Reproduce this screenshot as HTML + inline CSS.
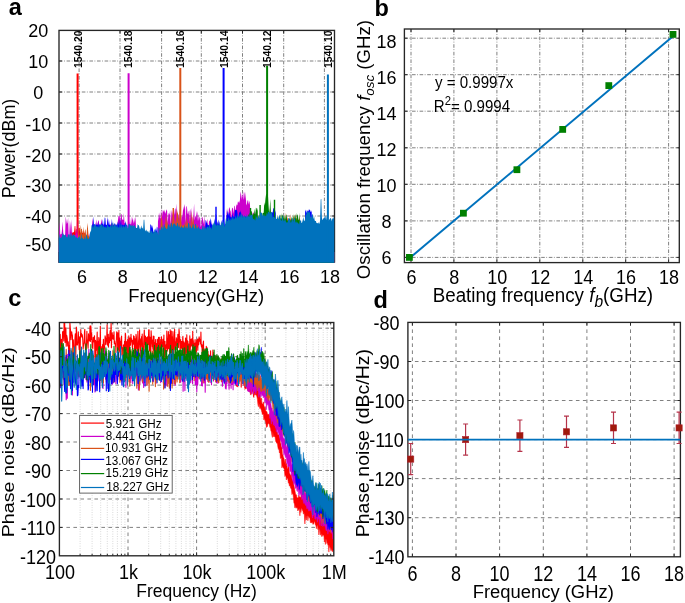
<!DOCTYPE html>
<html><head><meta charset="utf-8"><style>
html,body{margin:0;padding:0;background:#fff;}
body{width:685px;height:603px;overflow:hidden;}
svg{display:block;will-change:transform;}
</style></head><body>
<svg width="685" height="603" viewBox="0 0 685 603" font-family='"Liberation Sans", sans-serif'>
<rect width="685" height="603" fill="#fff"/>
<line x1="59" y1="61" x2="334.5" y2="61" stroke="#808080" stroke-width="1" stroke-dasharray="3.6 1.5 0.8 1.7"/>
<line x1="59" y1="92" x2="334.5" y2="92" stroke="#808080" stroke-width="1" stroke-dasharray="3.6 1.5 0.8 1.7"/>
<line x1="59" y1="123" x2="334.5" y2="123" stroke="#808080" stroke-width="1" stroke-dasharray="3.6 1.5 0.8 1.7"/>
<line x1="59" y1="154" x2="334.5" y2="154" stroke="#808080" stroke-width="1" stroke-dasharray="3.6 1.5 0.8 1.7"/>
<line x1="59" y1="185" x2="334.5" y2="185" stroke="#808080" stroke-width="1" stroke-dasharray="3.6 1.5 0.8 1.7"/>
<line x1="59" y1="216" x2="334.5" y2="216" stroke="#808080" stroke-width="1" stroke-dasharray="3.6 1.5 0.8 1.7"/>
<line x1="59" y1="247" x2="334.5" y2="247" stroke="#808080" stroke-width="1" stroke-dasharray="3.6 1.5 0.8 1.7"/>
<line x1="79.1" y1="30.4" x2="79.1" y2="262" stroke="#808080" stroke-width="1" stroke-dasharray="3.6 1.5 0.8 1.7"/>
<line x1="120" y1="30.4" x2="120" y2="262" stroke="#808080" stroke-width="1" stroke-dasharray="3.6 1.5 0.8 1.7"/>
<line x1="161.6" y1="30.4" x2="161.6" y2="262" stroke="#808080" stroke-width="1" stroke-dasharray="3.6 1.5 0.8 1.7"/>
<line x1="201.3" y1="30.4" x2="201.3" y2="262" stroke="#808080" stroke-width="1" stroke-dasharray="3.6 1.5 0.8 1.7"/>
<line x1="242.5" y1="30.4" x2="242.5" y2="262" stroke="#808080" stroke-width="1" stroke-dasharray="3.6 1.5 0.8 1.7"/>
<line x1="283.7" y1="30.4" x2="283.7" y2="262" stroke="#808080" stroke-width="1" stroke-dasharray="3.6 1.5 0.8 1.7"/>
<line x1="324.4" y1="30.4" x2="324.4" y2="262" stroke="#808080" stroke-width="1" stroke-dasharray="3.6 1.5 0.8 1.7"/>
<rect x="59" y="30.4" width="275.5" height="231.6" fill="none" stroke="#262626" stroke-width="1.35"/>
<path d="M59 61h3M334.5 61h-3M59 92h3M334.5 92h-3M59 123h3M334.5 123h-3M59 154h3M334.5 154h-3M59 185h3M334.5 185h-3M59 216h3M334.5 216h-3M59 247h3M334.5 247h-3" stroke="#262626" stroke-width="1" fill="none"/>
<path d="M79.1 262v-3M79.1 30.4v3M120 262v-3M120 30.4v3M161.6 262v-3M161.6 30.4v3M201.3 262v-3M201.3 30.4v3M242.5 262v-3M242.5 30.4v3M283.7 262v-3M283.7 30.4v3M324.4 262v-3M324.4 30.4v3" stroke="#262626" stroke-width="1" fill="none"/>
<clipPath id="ca"><rect x="58.4" y="30.4" width="276.1" height="232.3"/></clipPath>
<g clip-path="url(#ca)">
<polygon fill="#ff0000" points="58.5,264 58.5,252 59.1,252 59.7,252 60.3,252 60.9,252 61.5,252 62.1,252 62.7,252 63.3,252 63.9,252 64.5,252 65.1,252 65.7,252 66.3,252 66.9,252 67.5,252 68.1,252 68.7,252 69.3,252 69.9,252 70.5,232.7 71.1,233.2 71.7,232.1 72.3,232.8 72.9,232.6 73.5,232.3 74.1,231.8 74.7,225.9 75.3,226 75.9,233.2 76.5,229 77.1,229.1 77.7,229.3 78.3,232.3 78.9,227.7 79.5,227.4 80.1,232.8 80.7,232.2 81.3,233.9 81.9,232.4 82.5,233.3 83.1,230.1 83.7,233.7 84.3,233.3 84.9,232.3 85.5,252 86.1,252 86.7,252 87.3,252 87.9,252 88.5,252 89.1,252 89.7,252 90.3,252 90.9,252 91.5,252 92.1,252 92.7,252 93.3,252 93.9,252 94.5,252 95.1,252 95.7,252 96.3,252 96.9,252 97.5,252 98.1,252 98.7,252 99.3,252 99.9,252 100.5,252 101.1,252 101.7,252 102.3,252 102.9,252 103.5,252 104.1,252 104.7,252 105.3,252 105.9,252 106.5,252 107.1,252 107.7,252 108.3,252 108.9,252 109.5,252 110.1,252 110.7,252 111.3,252 111.9,252 112.5,252 113.1,252 113.7,252 114.3,252 114.9,252 115.5,252 116.1,252 116.7,252 117.3,252 117.9,252 118.5,252 119.1,252 119.7,252 120.3,252 120.9,252 121.5,252 122.1,252 122.7,252 123.3,252 123.9,252 124.5,252 125.1,252 125.7,252 126.3,252 126.9,252 127.5,252 128.1,252 128.7,252 129.3,252 129.9,252 130.5,252 131.1,252 131.7,252 132.3,252 132.9,252 133.5,252 134.1,252 134.7,252 135.3,252 135.9,252 136.5,252 137.1,252 137.7,252 138.3,252 138.9,252 139.5,252 140.1,252 140.7,252 141.3,252 141.9,252 142.5,252 143.1,252 143.7,252 144.3,252 144.9,252 145.5,252 146.1,252 146.7,252 147.3,252 147.9,252 148.5,252 149.1,252 149.7,252 150.3,252 150.9,252 151.5,252 152.1,252 152.7,252 153.3,252 153.9,252 154.5,252 155.1,252 155.7,252 156.3,252 156.9,252 157.5,252 158.1,252 158.7,252 159.3,252 159.9,252 160.5,252 161.1,252 161.7,252 162.3,252 162.9,252 163.5,252 164.1,252 164.7,252 165.3,252 165.9,252 166.5,252 167.1,252 167.7,252 168.3,252 168.9,252 169.5,252 170.1,252 170.7,252 171.3,252 171.9,252 172.5,252 173.1,252 173.7,252 174.3,252 174.9,252 175.5,252 176.1,252 176.7,252 177.3,252 177.9,252 178.5,252 179.1,252 179.7,252 180.3,252 180.9,252 181.5,252 182.1,252 182.7,252 183.3,252 183.9,252 184.5,252 185.1,252 185.7,252 186.3,252 186.9,252 187.5,252 188.1,252 188.7,252 189.3,252 189.9,252 190.5,252 191.1,252 191.7,252 192.3,252 192.9,252 193.5,252 194.1,252 194.7,252 195.3,252 195.9,252 196.5,252 197.1,252 197.7,252 198.3,252 198.9,252 199.5,252 200.1,252 200.7,252 201.3,252 201.9,252 202.5,252 203.1,252 203.7,252 204.3,252 204.9,252 205.5,252 206.1,252 206.7,252 207.3,252 207.9,252 208.5,252 209.1,252 209.7,252 210.3,252 210.9,252 211.5,252 212.1,252 212.7,252 213.3,252 213.9,252 214.5,252 215.1,252 215.7,252 216.3,252 216.9,252 217.5,252 218.1,252 218.7,252 219.3,252 219.9,252 220.5,252 221.1,252 221.7,252 222.3,252 222.9,252 223.5,252 224.1,252 224.7,252 225.3,252 225.9,252 226.5,252 227.1,252 227.7,252 228.3,252 228.9,252 229.5,252 230.1,252 230.7,252 231.3,252 231.9,252 232.5,252 233.1,252 233.7,252 234.3,252 234.9,252 235.5,252 236.1,252 236.7,252 237.3,252 237.9,252 238.5,252 239.1,252 239.7,252 240.3,252 240.9,252 241.5,252 242.1,252 242.7,252 243.3,252 243.9,252 244.5,252 245.1,252 245.7,252 246.3,252 246.9,252 247.5,252 248.1,252 248.7,252 249.3,252 249.9,252 250.5,252 251.1,252 251.7,252 252.3,252 252.9,252 253.5,252 254.1,252 254.7,252 255.3,252 255.9,252 256.5,252 257.1,252 257.7,252 258.3,252 258.9,252 259.5,252 260.1,252 260.7,252 261.3,252 261.9,252 262.5,252 263.1,252 263.7,252 264.3,252 264.9,252 265.5,252 266.1,252 266.7,252 267.3,252 267.9,252 268.5,252 269.1,252 269.7,252 270.3,252 270.9,252 271.5,252 272.1,252 272.7,252 273.3,252 273.9,252 274.5,252 275.1,252 275.7,252 276.3,252 276.9,252 277.5,252 278.1,252 278.7,252 279.3,252 279.9,252 280.5,252 281.1,252 281.7,252 282.3,252 282.9,252 283.5,252 284.1,252 284.7,252 285.3,252 285.9,252 286.5,252 287.1,252 287.7,252 288.3,252 288.9,252 289.5,252 290.1,252 290.7,252 291.3,252 291.9,252 292.5,252 293.1,252 293.7,252 294.3,252 294.9,252 295.5,252 296.1,252 296.7,252 297.3,252 297.9,252 298.5,252 299.1,252 299.7,252 300.3,252 300.9,252 301.5,252 302.1,252 302.7,252 303.3,252 303.9,252 304.5,252 305.1,252 305.7,252 306.3,252 306.9,252 307.5,252 308.1,252 308.7,252 309.3,252 309.9,252 310.5,252 311.1,252 311.7,252 312.3,252 312.9,252 313.5,252 314.1,252 314.7,252 315.3,252 315.9,252 316.5,252 317.1,252 317.7,252 318.3,252 318.9,252 319.5,252 320.1,252 320.7,252 321.3,252 321.9,252 322.5,252 323.1,252 323.7,252 324.3,252 324.9,252 325.5,252 326.1,252 326.7,252 327.3,252 327.9,252 328.5,252 329.1,252 329.7,252 330.3,252 330.9,252 331.5,252 332.1,252 332.7,252 333.3,252 333.9,252 334.5,252 334.5,264"/>
<line x1="77.6" y1="73.4" x2="77.6" y2="262" stroke="#ff0000" stroke-width="2.0"/>
<polygon fill="#cc00cc" points="58.5,264 58.5,252 59.1,233.5 59.7,221.5 60.3,234.8 60.9,233.9 61.5,234.1 62.1,229.2 62.7,221.6 63.3,234.1 63.9,234.9 64.5,235 65.1,235.9 65.7,216.4 66.3,220.6 66.9,224.1 67.5,222.6 68.1,217.6 68.7,235.9 69.3,234.7 69.9,220.2 70.5,225.3 71.1,234.1 71.7,219.1 72.3,235.8 72.9,235.7 73.5,234.2 74.1,235.2 74.7,235 75.3,235.2 75.9,229.5 76.5,234.6 77.1,218.4 77.7,234.9 78.3,236.6 78.9,230.2 79.5,237.3 80.1,234.9 80.7,236.6 81.3,229.4 81.9,237.6 82.5,236.3 83.1,237.5 83.7,237.8 84.3,236.4 84.9,237.1 85.5,230.9 86.1,237.2 86.7,235.1 87.3,237.3 87.9,237.3 88.5,237.6 89.1,233 89.7,236.7 90.3,252 90.9,252 91.5,252 92.1,225.5 92.7,217.7 93.3,224.3 93.9,225.4 94.5,225.7 95.1,225.8 95.7,224.2 96.3,219.3 96.9,226 97.5,224.2 98.1,221.3 98.7,220 99.3,224.9 99.9,225.5 100.5,224.4 101.1,222.3 101.7,218.8 102.3,225.5 102.9,224.1 103.5,224.9 104.1,224.1 104.7,224.6 105.3,224.6 105.9,225.4 106.5,224.9 107.1,224.1 107.7,218.3 108.3,225.8 108.9,225.8 109.5,224.5 110.1,224.8 110.7,224.5 111.3,224.2 111.9,222.3 112.5,225 113.1,224.2 113.7,224.4 114.3,225.7 114.9,225 115.5,224.4 116.1,225.3 116.7,224.5 117.3,225.1 117.9,220.5 118.5,216.3 119.1,215.5 119.7,216.2 120.3,223.4 120.9,214.4 121.5,213.8 122.1,219.3 122.7,219.8 123.3,220 123.9,213.1 124.5,223.2 125.1,222.7 125.7,223.9 126.3,252 126.9,252 127.5,252 128.1,252 128.7,252 129.3,221.1 129.9,223.8 130.5,224.4 131.1,216.2 131.7,224.5 132.3,217 132.9,220.1 133.5,224.1 134.1,217.5 134.7,223.1 135.3,216.2 135.9,224.3 136.5,252 137.1,252 137.7,252 138.3,252 138.9,252 139.5,252 140.1,252 140.7,252 141.3,252 141.9,252 142.5,252 143.1,252 143.7,252 144.3,252 144.9,252 145.5,252 146.1,252 146.7,252 147.3,252 147.9,252 148.5,252 149.1,252 149.7,252 150.3,252 150.9,252 151.5,252 152.1,252 152.7,252 153.3,252 153.9,252 154.5,252 155.1,252 155.7,252 156.3,252 156.9,252 157.5,252 158.1,212.8 158.7,221.2 159.3,212.2 159.9,218.1 160.5,218.6 161.1,208.5 161.7,218.5 162.3,214.2 162.9,210.1 163.5,210.7 164.1,212.8 164.7,209.4 165.3,214 165.9,211.8 166.5,209.2 167.1,211 167.7,224.1 168.3,215 168.9,212.7 169.5,215.1 170.1,210.2 170.7,225.4 171.3,214 171.9,210 172.5,213.5 173.1,216 173.7,209.1 174.3,215.3 174.9,208.9 175.5,208.2 176.1,215.8 176.7,203.5 177.3,214 177.9,213.7 178.5,214.7 179.1,219.1 179.7,211.6 180.3,206.2 180.9,223.8 181.5,215.9 182.1,217.3 182.7,213.4 183.3,206.2 183.9,210.5 184.5,204 185.1,207.8 185.7,223.6 186.3,206.2 186.9,206.5 187.5,213 188.1,214.7 188.7,211.3 189.3,210.5 189.9,222.3 190.5,211.3 191.1,208.1 191.7,217.3 192.3,217.2 192.9,223.1 193.5,214.1 194.1,203.5 194.7,220.5 195.3,216.2 195.9,216.6 196.5,210.7 197.1,221 197.7,211 198.3,216 198.9,220.8 199.5,216.8 200.1,217.7 200.7,226.9 201.3,225.6 201.9,217 202.5,217.2 203.1,219.9 203.7,224.2 204.3,215.3 204.9,226.9 205.5,221.7 206.1,226.3 206.7,220.9 207.3,219.1 207.9,226.5 208.5,226.2 209.1,220.8 209.7,220.6 210.3,223.3 210.9,226.2 211.5,221 212.1,252 212.7,252 213.3,252 213.9,252 214.5,252 215.1,252 215.7,252 216.3,252 216.9,252 217.5,252 218.1,252 218.7,252 219.3,252 219.9,252 220.5,252 221.1,252 221.7,252 222.3,252 222.9,252 223.5,252 224.1,252 224.7,252 225.3,252 225.9,252 226.5,212.9 227.1,208.1 227.7,217.5 228.3,216.2 228.9,208.8 229.5,207.1 230.1,210.2 230.7,211.6 231.3,217.7 231.9,208.8 232.5,207.5 233.1,208.7 233.7,213.7 234.3,206.4 234.9,205.6 235.5,213.8 236.1,206.6 236.7,204.2 237.3,205.4 237.9,201.6 238.5,202.7 239.1,200.4 239.7,203.5 240.3,194.6 240.9,191.5 241.5,199.9 242.1,193.5 242.7,195.9 243.3,200.1 243.9,191.2 244.5,193.7 245.1,200.1 245.7,191.8 246.3,205.4 246.9,203.8 247.5,200.4 248.1,200.3 248.7,204.5 249.3,200.4 249.9,204.2 250.5,213.6 251.1,216.2 251.7,211 252.3,213 252.9,216.5 253.5,211.6 254.1,214.1 254.7,216.6 255.3,217.2 255.9,211.1 256.5,252 257.1,252 257.7,252 258.3,252 258.9,252 259.5,252 260.1,252 260.7,252 261.3,252 261.9,252 262.5,252 263.1,252 263.7,252 264.3,252 264.9,252 265.5,252 266.1,252 266.7,252 267.3,252 267.9,252 268.5,252 269.1,252 269.7,252 270.3,252 270.9,252 271.5,252 272.1,252 272.7,252 273.3,252 273.9,252 274.5,252 275.1,252 275.7,252 276.3,252 276.9,252 277.5,252 278.1,252 278.7,252 279.3,252 279.9,252 280.5,252 281.1,252 281.7,252 282.3,252 282.9,252 283.5,252 284.1,252 284.7,252 285.3,252 285.9,252 286.5,252 287.1,252 287.7,252 288.3,252 288.9,252 289.5,252 290.1,252 290.7,252 291.3,252 291.9,252 292.5,252 293.1,252 293.7,252 294.3,252 294.9,252 295.5,252 296.1,252 296.7,252 297.3,252 297.9,252 298.5,252 299.1,252 299.7,252 300.3,252 300.9,252 301.5,252 302.1,252 302.7,252 303.3,252 303.9,252 304.5,252 305.1,252 305.7,252 306.3,252 306.9,252 307.5,252 308.1,252 308.7,252 309.3,252 309.9,252 310.5,252 311.1,252 311.7,252 312.3,252 312.9,252 313.5,252 314.1,252 314.7,252 315.3,252 315.9,252 316.5,252 317.1,252 317.7,252 318.3,252 318.9,252 319.5,252 320.1,252 320.7,252 321.3,252 321.9,252 322.5,252 323.1,252 323.7,252 324.3,252 324.9,252 325.5,252 326.1,252 326.7,252 327.3,252 327.9,252 328.5,252 329.1,252 329.7,252 330.3,252 330.9,252 331.5,252 332.1,252 332.7,252 333.3,252 333.9,252 334.5,252 334.5,264"/>
<line x1="128.6" y1="73.3" x2="128.6" y2="262" stroke="#cc00cc" stroke-width="2.0"/>
<polygon fill="#d95319" points="58.5,264 58.5,252 59.1,252 59.7,252 60.3,252 60.9,252 61.5,252 62.1,252 62.7,252 63.3,252 63.9,252 64.5,252 65.1,252 65.7,252 66.3,252 66.9,252 67.5,252 68.1,252 68.7,252 69.3,252 69.9,252 70.5,252 71.1,252 71.7,252 72.3,252 72.9,252 73.5,252 74.1,252 74.7,252 75.3,252 75.9,252 76.5,252 77.1,252 77.7,252 78.3,222.5 78.9,235.2 79.5,235.5 80.1,236.2 80.7,224.8 81.3,228.9 81.9,229 82.5,234.7 83.1,233.8 83.7,226.4 84.3,235.1 84.9,230.7 85.5,229 86.1,236.6 86.7,233.9 87.3,222.7 87.9,227.7 88.5,235.1 89.1,236.7 89.7,237 90.3,252 90.9,252 91.5,252 92.1,252 92.7,252 93.3,252 93.9,252 94.5,252 95.1,252 95.7,252 96.3,252 96.9,252 97.5,252 98.1,252 98.7,252 99.3,252 99.9,252 100.5,252 101.1,252 101.7,252 102.3,252 102.9,252 103.5,252 104.1,252 104.7,252 105.3,252 105.9,252 106.5,252 107.1,252 107.7,252 108.3,252 108.9,252 109.5,252 110.1,252 110.7,252 111.3,252 111.9,252 112.5,252 113.1,252 113.7,252 114.3,252 114.9,252 115.5,252 116.1,252 116.7,252 117.3,252 117.9,252 118.5,252 119.1,252 119.7,252 120.3,252 120.9,252 121.5,252 122.1,252 122.7,252 123.3,252 123.9,252 124.5,252 125.1,252 125.7,252 126.3,252 126.9,252 127.5,252 128.1,252 128.7,252 129.3,252 129.9,252 130.5,252 131.1,252 131.7,252 132.3,252 132.9,252 133.5,252 134.1,252 134.7,252 135.3,252 135.9,252 136.5,252 137.1,252 137.7,252 138.3,252 138.9,252 139.5,252 140.1,252 140.7,252 141.3,252 141.9,252 142.5,252 143.1,252 143.7,252 144.3,252 144.9,252 145.5,252 146.1,252 146.7,252 147.3,252 147.9,252 148.5,252 149.1,252 149.7,252 150.3,252 150.9,252 151.5,252 152.1,252 152.7,252 153.3,252 153.9,252 154.5,252 155.1,252 155.7,252 156.3,252 156.9,252 157.5,252 158.1,252 158.7,252 159.3,252 159.9,252 160.5,226.6 161.1,213.3 161.7,218.6 162.3,219.8 162.9,227.9 163.5,227 164.1,226.9 164.7,227.7 165.3,215 165.9,227.6 166.5,213.3 167.1,227.4 167.7,219.7 168.3,227.2 168.9,227.9 169.5,226.1 170.1,223.3 170.7,224.4 171.3,226.8 171.9,216.4 172.5,224.2 173.1,208.3 173.7,208.2 174.3,218.2 174.9,227.3 175.5,219.1 176.1,225.6 176.7,208.6 177.3,212.1 177.9,213.6 178.5,219.2 179.1,225.1 179.7,227 180.3,220.8 180.9,220.7 181.5,226 182.1,225.1 182.7,226.1 183.3,224.1 183.9,225.7 184.5,225.6 185.1,219.4 185.7,226.6 186.3,215.2 186.9,225.7 187.5,219.1 188.1,225 188.7,225.7 189.3,226.9 189.9,214.5 190.5,226.7 191.1,226.3 191.7,210.7 192.3,217.1 192.9,225.6 193.5,215.6 194.1,225.2 194.7,225.2 195.3,226.5 195.9,225.9 196.5,225.3 197.1,226 197.7,223.5 198.3,252 198.9,252 199.5,252 200.1,252 200.7,252 201.3,252 201.9,252 202.5,252 203.1,252 203.7,252 204.3,252 204.9,252 205.5,252 206.1,252 206.7,252 207.3,252 207.9,252 208.5,252 209.1,252 209.7,252 210.3,252 210.9,252 211.5,252 212.1,252 212.7,252 213.3,252 213.9,252 214.5,252 215.1,252 215.7,252 216.3,252 216.9,252 217.5,252 218.1,252 218.7,252 219.3,252 219.9,252 220.5,252 221.1,252 221.7,252 222.3,252 222.9,252 223.5,252 224.1,252 224.7,252 225.3,252 225.9,252 226.5,252 227.1,252 227.7,252 228.3,252 228.9,252 229.5,252 230.1,252 230.7,252 231.3,252 231.9,252 232.5,252 233.1,252 233.7,252 234.3,252 234.9,252 235.5,252 236.1,252 236.7,252 237.3,252 237.9,252 238.5,252 239.1,252 239.7,252 240.3,252 240.9,252 241.5,252 242.1,252 242.7,252 243.3,252 243.9,252 244.5,252 245.1,252 245.7,252 246.3,252 246.9,252 247.5,252 248.1,252 248.7,252 249.3,252 249.9,252 250.5,252 251.1,252 251.7,252 252.3,252 252.9,252 253.5,252 254.1,252 254.7,252 255.3,252 255.9,252 256.5,252 257.1,252 257.7,252 258.3,252 258.9,252 259.5,252 260.1,252 260.7,252 261.3,252 261.9,252 262.5,252 263.1,252 263.7,252 264.3,252 264.9,252 265.5,252 266.1,252 266.7,252 267.3,252 267.9,252 268.5,252 269.1,252 269.7,252 270.3,252 270.9,252 271.5,252 272.1,252 272.7,252 273.3,252 273.9,252 274.5,252 275.1,252 275.7,252 276.3,252 276.9,252 277.5,252 278.1,220 278.7,220 279.3,221 279.9,219.2 280.5,220 281.1,220.8 281.7,219.8 282.3,219.5 282.9,220.1 283.5,219.6 284.1,220.9 284.7,219.2 285.3,219.4 285.9,212.7 286.5,218.1 287.1,219.6 287.7,216.8 288.3,220.8 288.9,220.9 289.5,219.5 290.1,213.9 290.7,219.8 291.3,218.7 291.9,220.5 292.5,219.1 293.1,220.4 293.7,214.4 294.3,220.9 294.9,220.4 295.5,213.8 296.1,220.7 296.7,217.7 297.3,219.2 297.9,220.5 298.5,219.3 299.1,219.8 299.7,215.1 300.3,252 300.9,252 301.5,252 302.1,252 302.7,252 303.3,252 303.9,252 304.5,252 305.1,252 305.7,252 306.3,252 306.9,252 307.5,252 308.1,252 308.7,252 309.3,252 309.9,252 310.5,252 311.1,252 311.7,252 312.3,252 312.9,252 313.5,252 314.1,252 314.7,252 315.3,252 315.9,252 316.5,252 317.1,252 317.7,252 318.3,252 318.9,252 319.5,252 320.1,252 320.7,252 321.3,252 321.9,252 322.5,252 323.1,252 323.7,252 324.3,252 324.9,252 325.5,252 326.1,252 326.7,252 327.3,252 327.9,252 328.5,252 329.1,252 329.7,252 330.3,252 330.9,252 331.5,252 332.1,252 332.7,252 333.3,252 333.9,252 334.5,252 334.5,264"/>
<line x1="180.3" y1="68" x2="180.3" y2="262" stroke="#d95319" stroke-width="2.0"/>
<polygon fill="#0000ff" points="58.5,264 58.5,252 59.1,252 59.7,252 60.3,252 60.9,252 61.5,252 62.1,252 62.7,252 63.3,252 63.9,252 64.5,252 65.1,252 65.7,252 66.3,252 66.9,252 67.5,252 68.1,252 68.7,252 69.3,252 69.9,252 70.5,252 71.1,252 71.7,252 72.3,252 72.9,252 73.5,252 74.1,252 74.7,252 75.3,252 75.9,252 76.5,252 77.1,252 77.7,252 78.3,252 78.9,252 79.5,252 80.1,252 80.7,252 81.3,252 81.9,252 82.5,252 83.1,252 83.7,252 84.3,252 84.9,252 85.5,252 86.1,252 86.7,252 87.3,252 87.9,252 88.5,252 89.1,252 89.7,252 90.3,252 90.9,252 91.5,252 92.1,224 92.7,225 93.3,216.3 93.9,224.8 94.5,224.1 95.1,225.3 95.7,225.8 96.3,224.7 96.9,224.2 97.5,225.2 98.1,221.5 98.7,225.8 99.3,224.2 99.9,224.7 100.5,225 101.1,224.2 101.7,223.1 102.3,224.6 102.9,219.1 103.5,226 104.1,224.7 104.7,217.5 105.3,218 105.9,225.2 106.5,224.9 107.1,224.6 107.7,216.6 108.3,225.5 108.9,218.8 109.5,224.6 110.1,225.6 110.7,226 111.3,225.2 111.9,218.8 112.5,226 113.1,225.5 113.7,225.3 114.3,224.4 114.9,222.7 115.5,225.2 116.1,225.9 116.7,224.6 117.3,224.8 117.9,221.6 118.5,225.4 119.1,218.9 119.7,225.6 120.3,224.5 120.9,217.8 121.5,225.3 122.1,224.9 122.7,224.4 123.3,224.8 123.9,225.5 124.5,224.4 125.1,224.2 125.7,221 126.3,224.5 126.9,225.6 127.5,225.6 128.1,252 128.7,252 129.3,252 129.9,252 130.5,252 131.1,252 131.7,252 132.3,252 132.9,252 133.5,252 134.1,252 134.7,252 135.3,252 135.9,252 136.5,252 137.1,252 137.7,252 138.3,252 138.9,252 139.5,252 140.1,252 140.7,252 141.3,252 141.9,252 142.5,252 143.1,252 143.7,252 144.3,252 144.9,252 145.5,252 146.1,252 146.7,252 147.3,252 147.9,252 148.5,252 149.1,252 149.7,252 150.3,224.3 150.9,224.8 151.5,225.8 152.1,228.8 152.7,224.9 153.3,232.6 153.9,231.9 154.5,231.7 155.1,232 155.7,228 156.3,231.6 156.9,226.6 157.5,227.7 158.1,252 158.7,252 159.3,252 159.9,252 160.5,252 161.1,252 161.7,252 162.3,252 162.9,252 163.5,252 164.1,252 164.7,252 165.3,252 165.9,252 166.5,252 167.1,252 167.7,252 168.3,252 168.9,252 169.5,252 170.1,252 170.7,252 171.3,252 171.9,252 172.5,252 173.1,252 173.7,252 174.3,252 174.9,252 175.5,252 176.1,252 176.7,252 177.3,252 177.9,252 178.5,252 179.1,252 179.7,252 180.3,252 180.9,252 181.5,252 182.1,252 182.7,252 183.3,252 183.9,252 184.5,252 185.1,252 185.7,252 186.3,252 186.9,252 187.5,252 188.1,252 188.7,252 189.3,252 189.9,252 190.5,252 191.1,252 191.7,252 192.3,252 192.9,252 193.5,252 194.1,252 194.7,252 195.3,252 195.9,252 196.5,252 197.1,252 197.7,252 198.3,252 198.9,252 199.5,252 200.1,252 200.7,252 201.3,252 201.9,252 202.5,252 203.1,252 203.7,252 204.3,252 204.9,252 205.5,219.8 206.1,221.1 206.7,222.8 207.3,223.5 207.9,225.4 208.5,225 209.1,225.3 209.7,226.7 210.3,220.5 210.9,218 211.5,225.1 212.1,223.2 212.7,226.6 213.3,226.3 213.9,224.3 214.5,218.3 215.1,226.3 215.7,213.8 216.3,215.3 216.9,225.4 217.5,220.9 218.1,224.7 218.7,219.5 219.3,222.3 219.9,225.2 220.5,225.5 221.1,225.1 221.7,221 222.3,219.7 222.9,225.8 223.5,225.6 224.1,225.7 224.7,220.7 225.3,252 225.9,252 226.5,215.5 227.1,214.6 227.7,210 228.3,216 228.9,212.1 229.5,213.2 230.1,217.6 230.7,216.3 231.3,217.3 231.9,217.7 232.5,212.8 233.1,216.4 233.7,216.5 234.3,216.9 234.9,210.8 235.5,209.7 236.1,210 236.7,209.7 237.3,211.8 237.9,217.4 238.5,216.5 239.1,213.2 239.7,211.8 240.3,212.7 240.9,210.2 241.5,217.9 242.1,217.2 242.7,214 243.3,216.9 243.9,217 244.5,217 245.1,216.5 245.7,216.5 246.3,216.7 246.9,217.6 247.5,216.9 248.1,216.1 248.7,215.9 249.3,216.4 249.9,213.2 250.5,252 251.1,252 251.7,252 252.3,252 252.9,252 253.5,252 254.1,252 254.7,252 255.3,252 255.9,252 256.5,252 257.1,252 257.7,252 258.3,252 258.9,252 259.5,252 260.1,252 260.7,252 261.3,252 261.9,252 262.5,252 263.1,252 263.7,252 264.3,252 264.9,252 265.5,252 266.1,252 266.7,252 267.3,252 267.9,252 268.5,252 269.1,252 269.7,252 270.3,208.1 270.9,213.7 271.5,212 272.1,212.5 272.7,212.6 273.3,208.3 273.9,208.2 274.5,212.1 275.1,212.8 275.7,210 276.3,252 276.9,252 277.5,252 278.1,252 278.7,252 279.3,252 279.9,252 280.5,252 281.1,252 281.7,252 282.3,252 282.9,252 283.5,252 284.1,252 284.7,252 285.3,252 285.9,252 286.5,252 287.1,252 287.7,252 288.3,252 288.9,252 289.5,252 290.1,252 290.7,252 291.3,252 291.9,252 292.5,252 293.1,252 293.7,252 294.3,252 294.9,252 295.5,252 296.1,252 296.7,252 297.3,252 297.9,252 298.5,252 299.1,252 299.7,252 300.3,252 300.9,252 301.5,252 302.1,252 302.7,252 303.3,252 303.9,252 304.5,252 305.1,211.9 305.7,209.5 306.3,213.4 306.9,209.9 307.5,211.9 308.1,209.3 308.7,211.7 309.3,209.8 309.9,209.5 310.5,211.5 311.1,212.2 311.7,210.2 312.3,252 312.9,252 313.5,252 314.1,252 314.7,252 315.3,252 315.9,252 316.5,252 317.1,252 317.7,252 318.3,252 318.9,252 319.5,252 320.1,252 320.7,252 321.3,252 321.9,252 322.5,252 323.1,252 323.7,252 324.3,252 324.9,252 325.5,252 326.1,252 326.7,252 327.3,252 327.9,252 328.5,252 329.1,252 329.7,252 330.3,252 330.9,252 331.5,252 332.1,252 332.7,252 333.3,252 333.9,252 334.5,252 334.5,264"/>
<line x1="223.6" y1="68" x2="223.6" y2="262" stroke="#0000ff" stroke-width="2.0"/>
<polygon fill="#008000" points="58.5,264 58.5,252 59.1,252 59.7,252 60.3,252 60.9,252 61.5,252 62.1,252 62.7,252 63.3,252 63.9,252 64.5,252 65.1,252 65.7,252 66.3,252 66.9,252 67.5,252 68.1,252 68.7,252 69.3,252 69.9,252 70.5,252 71.1,252 71.7,252 72.3,252 72.9,252 73.5,252 74.1,252 74.7,252 75.3,252 75.9,252 76.5,252 77.1,252 77.7,252 78.3,252 78.9,252 79.5,252 80.1,252 80.7,252 81.3,252 81.9,252 82.5,252 83.1,252 83.7,252 84.3,252 84.9,252 85.5,252 86.1,240.2 86.7,237.8 87.3,241.8 87.9,236.1 88.5,241.8 89.1,238.7 89.7,240.5 90.3,252 90.9,252 91.5,252 92.1,252 92.7,252 93.3,252 93.9,252 94.5,252 95.1,252 95.7,252 96.3,252 96.9,252 97.5,252 98.1,252 98.7,252 99.3,252 99.9,252 100.5,252 101.1,252 101.7,252 102.3,252 102.9,252 103.5,252 104.1,252 104.7,252 105.3,252 105.9,252 106.5,252 107.1,252 107.7,252 108.3,252 108.9,252 109.5,252 110.1,252 110.7,252 111.3,252 111.9,252 112.5,252 113.1,252 113.7,252 114.3,252 114.9,252 115.5,252 116.1,252 116.7,252 117.3,252 117.9,252 118.5,252 119.1,252 119.7,252 120.3,252 120.9,252 121.5,252 122.1,252 122.7,252 123.3,252 123.9,252 124.5,252 125.1,252 125.7,252 126.3,252 126.9,252 127.5,252 128.1,252 128.7,252 129.3,252 129.9,252 130.5,252 131.1,252 131.7,252 132.3,252 132.9,252 133.5,252 134.1,252 134.7,252 135.3,252 135.9,252 136.5,252 137.1,252 137.7,252 138.3,252 138.9,252 139.5,252 140.1,252 140.7,252 141.3,252 141.9,252 142.5,252 143.1,252 143.7,252 144.3,252 144.9,252 145.5,252 146.1,252 146.7,252 147.3,252 147.9,252 148.5,252 149.1,252 149.7,252 150.3,252 150.9,252 151.5,252 152.1,252 152.7,252 153.3,252 153.9,252 154.5,252 155.1,252 155.7,252 156.3,252 156.9,252 157.5,252 158.1,252 158.7,252 159.3,252 159.9,252 160.5,252 161.1,252 161.7,252 162.3,252 162.9,252 163.5,252 164.1,252 164.7,252 165.3,252 165.9,252 166.5,252 167.1,252 167.7,252 168.3,252 168.9,252 169.5,252 170.1,252 170.7,252 171.3,252 171.9,252 172.5,252 173.1,252 173.7,252 174.3,252 174.9,252 175.5,252 176.1,252 176.7,252 177.3,252 177.9,252 178.5,252 179.1,252 179.7,252 180.3,252 180.9,252 181.5,252 182.1,252 182.7,252 183.3,252 183.9,252 184.5,252 185.1,252 185.7,252 186.3,252 186.9,252 187.5,252 188.1,252 188.7,252 189.3,252 189.9,252 190.5,252 191.1,252 191.7,252 192.3,252 192.9,252 193.5,252 194.1,252 194.7,252 195.3,252 195.9,252 196.5,252 197.1,252 197.7,252 198.3,252 198.9,252 199.5,252 200.1,252 200.7,252 201.3,252 201.9,252 202.5,252 203.1,252 203.7,252 204.3,252 204.9,252 205.5,252 206.1,252 206.7,252 207.3,252 207.9,252 208.5,252 209.1,252 209.7,252 210.3,252 210.9,252 211.5,252 212.1,252 212.7,252 213.3,252 213.9,252 214.5,252 215.1,252 215.7,252 216.3,252 216.9,252 217.5,252 218.1,252 218.7,252 219.3,252 219.9,252 220.5,252 221.1,252 221.7,252 222.3,252 222.9,252 223.5,252 224.1,252 224.7,252 225.3,252 225.9,252 226.5,252 227.1,252 227.7,252 228.3,252 228.9,252 229.5,252 230.1,252 230.7,252 231.3,252 231.9,252 232.5,252 233.1,252 233.7,252 234.3,252 234.9,252 235.5,252 236.1,252 236.7,252 237.3,252 237.9,252 238.5,252 239.1,252 239.7,252 240.3,252 240.9,252 241.5,252 242.1,252 242.7,252 243.3,252 243.9,252 244.5,252 245.1,252 245.7,252 246.3,252 246.9,252 247.5,252 248.1,216 248.7,214.4 249.3,213 249.9,215.9 250.5,214 251.1,210.8 251.7,211.7 252.3,214.2 252.9,215.9 253.5,212.8 254.1,214.3 254.7,208.6 255.3,215.1 255.9,207.8 256.5,208 257.1,210.8 257.7,207.8 258.3,252 258.9,252 259.5,252 260.1,210.2 260.7,252 261.3,252 261.9,252 262.5,213.5 263.1,212.7 263.7,212.9 264.3,202.3 264.9,205.4 265.5,198.7 266.1,194 266.7,194.1 267.3,199.4 267.9,194.2 268.5,205.2 269.1,213.3 269.7,208.5 270.3,199.1 270.9,213.2 271.5,213.1 272.1,252 272.7,252 273.3,252 273.9,252 274.5,200.5 275.1,252 275.7,252 276.3,219.5 276.9,220.6 277.5,220.8 278.1,215.8 278.7,220 279.3,216.5 279.9,219.9 280.5,217.5 281.1,213.2 281.7,219.5 282.3,214.3 282.9,216.1 283.5,215.6 284.1,219.9 284.7,214.9 285.3,220.3 285.9,215.2 286.5,214.4 287.1,220.3 287.7,220.8 288.3,219.9 288.9,220.6 289.5,217.7 290.1,220.1 290.7,221 291.3,216.4 291.9,220 292.5,220.6 293.1,213.9 293.7,220.7 294.3,217.7 294.9,214.5 295.5,219.4 296.1,212.4 296.7,220.9 297.3,214.1 297.9,215.4 298.5,220.1 299.1,220.4 299.7,212.5 300.3,252 300.9,252 301.5,252 302.1,252 302.7,252 303.3,252 303.9,252 304.5,252 305.1,252 305.7,252 306.3,252 306.9,252 307.5,252 308.1,252 308.7,252 309.3,252 309.9,252 310.5,252 311.1,252 311.7,252 312.3,252 312.9,252 313.5,252 314.1,252 314.7,252 315.3,252 315.9,252 316.5,252 317.1,252 317.7,252 318.3,252 318.9,252 319.5,252 320.1,252 320.7,252 321.3,252 321.9,252 322.5,252 323.1,252 323.7,252 324.3,252 324.9,252 325.5,252 326.1,252 326.7,252 327.3,252 327.9,252 328.5,252 329.1,252 329.7,252 330.3,252 330.9,252 331.5,252 332.1,252 332.7,252 333.3,252 333.9,252 334.5,252 334.5,264"/>
<line x1="267.1" y1="65.7" x2="267.1" y2="262" stroke="#008000" stroke-width="2.0"/>
<line x1="274.5" y1="199.7" x2="274.5" y2="262" stroke="#008000" stroke-width="1.4"/>
<line x1="260.1" y1="205" x2="260.1" y2="262" stroke="#008000" stroke-width="1.4"/>
<line x1="250.5" y1="208" x2="250.5" y2="262" stroke="#008000" stroke-width="1.4"/>
<line x1="216" y1="206.7" x2="216" y2="262" stroke="#0000ff" stroke-width="1.4"/>
<line x1="173.3" y1="208" x2="173.3" y2="262" stroke="#d95319" stroke-width="1.4"/>
<polygon fill="#0072bd" points="58.5,264 58.5,237.2 59.1,237.9 59.7,233.6 60.3,237.9 60.9,237.9 61.5,237.3 62.1,235.8 62.7,232.1 63.3,233.9 63.9,235.2 64.5,235.5 65.1,234.3 65.7,234.8 66.3,236.7 66.9,237.6 67.5,237.3 68.1,233.8 68.7,235 69.3,233.7 69.9,237.9 70.5,232.9 71.1,236.8 71.7,232.8 72.3,235.5 72.9,235.9 73.5,233.8 74.1,235.4 74.7,235.1 75.3,238 75.9,235.7 76.5,237.2 77.1,238.3 77.7,238.2 78.3,236.7 78.9,238 79.5,234.9 80.1,238.7 80.7,239 81.3,233.2 81.9,238.3 82.5,237.4 83.1,239 83.7,239.2 84.3,238.4 84.9,235.8 85.5,240 86.1,235.6 86.7,234.3 87.3,238 87.9,239.3 88.5,238.9 89.1,237.9 89.7,236.1 90.3,230.5 90.9,232.4 91.5,225.7 92.1,224.4 92.7,227.5 93.3,227.5 93.9,223.9 94.5,224.4 95.1,226.6 95.7,222.9 96.3,227.1 96.9,226.1 97.5,227.5 98.1,224.7 98.7,227.6 99.3,227.3 99.9,223.8 100.5,225.8 101.1,224.7 101.7,224.1 102.3,225.1 102.9,227.4 103.5,224.4 104.1,227.6 104.7,227.1 105.3,226.2 105.9,227.7 106.5,227.7 107.1,224.9 107.7,224.2 108.3,226.7 108.9,226.6 109.5,227.5 110.1,225.9 110.7,225.5 111.3,222.7 111.9,228 112.5,222.9 113.1,222.2 113.7,227 114.3,224.5 114.9,223.7 115.5,225.1 116.1,227.3 116.7,225.4 117.3,223.3 117.9,228.1 118.5,226.4 119.1,228.2 119.7,223.7 120.3,224.3 120.9,228.3 121.5,224.6 122.1,225 122.7,228.1 123.3,226.2 123.9,225.1 124.5,227.4 125.1,226.4 125.7,222.7 126.3,225.5 126.9,226.5 127.5,228.4 128.1,228.3 128.7,223.8 129.3,224.6 129.9,223.7 130.5,225.6 131.1,225.6 131.7,225.8 132.3,224.2 132.9,226.8 133.5,225.8 134.1,225.8 134.7,224.4 135.3,227.1 135.9,227.8 136.5,228 137.1,228 137.7,223.9 138.3,225.3 138.9,225.3 139.5,227.7 140.1,229.4 140.7,228 141.3,225.3 141.9,228.2 142.5,227.6 143.1,229.5 143.7,219.8 144.3,219.8 144.9,229.6 145.5,230.7 146.1,231.5 146.7,229.2 147.3,231.9 147.9,230.8 148.5,232.9 149.1,230.1 149.7,233.1 150.3,232.7 150.9,229.3 151.5,231.2 152.1,231.1 152.7,233.8 153.3,230.4 153.9,233.7 154.5,229.2 155.1,230.1 155.7,232.1 156.3,230.8 156.9,233.1 157.5,231.8 158.1,235 158.7,227.9 159.3,228 159.9,230.5 160.5,229.8 161.1,227.8 161.7,226.3 162.3,229.8 162.9,224.3 163.5,228.7 164.1,223.7 164.7,225.8 165.3,227.6 165.9,228.1 166.5,229.1 167.1,229 167.7,226.1 168.3,224.9 168.9,223.6 169.5,227.4 170.1,223.1 170.7,227.5 171.3,222.8 171.9,222.9 172.5,227.7 173.1,223.2 173.7,224.3 174.3,224.2 174.9,223 175.5,225.3 176.1,225.6 176.7,226.4 177.3,222.9 177.9,222.7 178.5,227.5 179.1,223.9 179.7,227.1 180.3,227.6 180.9,227.6 181.5,225.6 182.1,227.3 182.7,227.5 183.3,228.1 183.9,227.3 184.5,224.3 185.1,228.4 185.7,226.6 186.3,225.8 186.9,228.5 187.5,227.7 188.1,223.5 188.7,222.7 189.3,224.1 189.9,228.4 190.5,224.9 191.1,227.2 191.7,228.6 192.3,227.1 192.9,223.8 193.5,224.2 194.1,227.8 194.7,229.1 195.3,224.2 195.9,223.4 196.5,227.3 197.1,228.9 197.7,227.2 198.3,226.2 198.9,227.7 199.5,228.5 200.1,229 200.7,228.8 201.3,229.7 201.9,229.1 202.5,224.3 203.1,229.9 203.7,226.3 204.3,225.8 204.9,228.6 205.5,227.4 206.1,229.5 206.7,227 207.3,226.7 207.9,226.5 208.5,228.3 209.1,224.6 209.7,225.6 210.3,227.9 210.9,227.2 211.5,229.7 212.1,224.8 212.7,225.8 213.3,222.2 213.9,224.9 214.5,219.7 215.1,225.4 215.7,223.5 216.3,225.6 216.9,225.4 217.5,221.9 218.1,225.8 218.7,224.7 219.3,225.6 219.9,221.5 220.5,226 221.1,225.2 221.7,221.6 222.3,223 222.9,223 223.5,220.5 224.1,226.8 224.7,225.5 225.3,223.4 225.9,218.5 226.5,217.9 227.1,221.2 227.7,221 228.3,217.1 228.9,218.2 229.5,220.1 230.1,220.7 230.7,218.4 231.3,220.3 231.9,216.5 232.5,219.1 233.1,215.8 233.7,219.8 234.3,217.9 234.9,219.6 235.5,215.6 236.1,217.1 236.7,218.8 237.3,213.6 237.9,215.8 238.5,217.9 239.1,214.1 239.7,217.4 240.3,213.1 240.9,217.6 241.5,212.4 242.1,218.1 242.7,214.3 243.3,217 243.9,216.2 244.5,214.7 245.1,217.5 245.7,217 246.3,217.3 246.9,213.8 247.5,217 248.1,215.5 248.7,216.5 249.3,216.9 249.9,212.1 250.5,215.8 251.1,215.1 251.7,215.1 252.3,214.5 252.9,218.5 253.5,219.5 254.1,218.2 254.7,220 255.3,220.4 255.9,214.9 256.5,217 257.1,218.1 257.7,219.1 258.3,215.2 258.9,216.6 259.5,218.2 260.1,212.5 260.7,212.5 261.3,212.5 261.9,213.1 262.5,215.2 263.1,216.3 263.7,213.9 264.3,216.4 264.9,213.8 265.5,216.3 266.1,216.1 266.7,212.4 267.3,214.7 267.9,212.2 268.5,211.7 269.1,211.5 269.7,213.5 270.3,211.9 270.9,213.7 271.5,211.7 272.1,212.2 272.7,217.5 273.3,217 273.9,216.7 274.5,217.6 275.1,218.2 275.7,213.9 276.3,219 276.9,218.9 277.5,215.6 278.1,219.2 278.7,219.3 279.3,214.5 279.9,216.6 280.5,219 281.1,220.7 281.7,220.4 282.3,215.6 282.9,217.5 283.5,221.8 284.1,218.7 284.7,221.1 285.3,219 285.9,221.8 286.5,222.5 287.1,222.8 287.7,222 288.3,218.2 288.9,218 289.5,219.8 290.1,219.4 290.7,222.8 291.3,222.2 291.9,218.4 292.5,217.6 293.1,221.9 293.7,219.7 294.3,218.4 294.9,217.8 295.5,223 296.1,220.9 296.7,222.7 297.3,222.4 297.9,222.5 298.5,223.5 299.1,224.4 299.7,220.5 300.3,221 300.9,219.4 301.5,223.3 302.1,222.6 302.7,220.3 303.3,217.1 303.9,220.4 304.5,221.3 305.1,218.7 305.7,214.7 306.3,214.5 306.9,212.1 307.5,211.3 308.1,212.5 308.7,212 309.3,211.3 309.9,212.8 310.5,216.4 311.1,217.2 311.7,217.7 312.3,214.1 312.9,214.4 313.5,219.2 314.1,216.3 314.7,220.6 315.3,221 315.9,221 316.5,223.1 317.1,223 317.7,223.2 318.3,223.4 318.9,222.1 319.5,224.2 320.1,220.3 320.7,199.6 321.3,198.8 321.9,217.7 322.5,220.2 323.1,219.1 323.7,218.1 324.3,218.2 324.9,215.5 325.5,216.4 326.1,220.3 326.7,216 327.3,218.4 327.9,217.9 328.5,221.2 329.1,220.1 329.7,218.9 330.3,218.3 330.9,218.1 331.5,221.6 332.1,217.6 332.7,219.5 333.3,218.6 333.9,217 334.5,220.1 334.5,264"/>
<line x1="327.9" y1="74.4" x2="327.9" y2="262" stroke="#0072bd" stroke-width="2.0"/>
</g>
<text transform="translate(81.6,49.3) rotate(-90)" font-size="10.2" font-weight="bold" text-anchor="middle" textLength="37.4" lengthAdjust="spacingAndGlyphs">1540.20</text>
<text transform="translate(132.1,49.3) rotate(-90)" font-size="10.2" font-weight="bold" text-anchor="middle" textLength="37.4" lengthAdjust="spacingAndGlyphs">1540.18</text>
<text transform="translate(184,49.3) rotate(-90)" font-size="10.2" font-weight="bold" text-anchor="middle" textLength="37.4" lengthAdjust="spacingAndGlyphs">1540.16</text>
<text transform="translate(227.6,49.3) rotate(-90)" font-size="10.2" font-weight="bold" text-anchor="middle" textLength="37.4" lengthAdjust="spacingAndGlyphs">1540.14</text>
<text transform="translate(271.1,49.3) rotate(-90)" font-size="10.2" font-weight="bold" text-anchor="middle" textLength="37.4" lengthAdjust="spacingAndGlyphs">1540.12</text>
<text transform="translate(331.6,49.3) rotate(-90)" font-size="10.2" font-weight="bold" text-anchor="middle" textLength="37.4" lengthAdjust="spacingAndGlyphs">1540.10</text>
<text transform="translate(38.3,37) scale(1,1.03)" font-size="18" text-anchor="middle" font-weight="normal">20</text>
<text transform="translate(38.3,67.9) scale(1,1.03)" font-size="18" text-anchor="middle" font-weight="normal">10</text>
<text transform="translate(38.3,99.3) scale(1,1.03)" font-size="18" text-anchor="middle" font-weight="normal">0</text>
<text transform="translate(38.3,130.5) scale(1,1.03)" font-size="18" text-anchor="middle" font-weight="normal">-10</text>
<text transform="translate(38.3,161.6) scale(1,1.03)" font-size="18" text-anchor="middle" font-weight="normal">-20</text>
<text transform="translate(38.3,191.9) scale(1,1.03)" font-size="18" text-anchor="middle" font-weight="normal">-30</text>
<text transform="translate(38.3,222.7) scale(1,1.03)" font-size="18" text-anchor="middle" font-weight="normal">-40</text>
<text transform="translate(38.3,250.6) scale(1,1.03)" font-size="18" text-anchor="middle" font-weight="normal">-50</text>
<text transform="translate(81.9,282.8) scale(1,1.05)" font-size="18" text-anchor="middle" font-weight="normal">6</text>
<text transform="translate(122.7,282.8) scale(1,1.05)" font-size="18" text-anchor="middle" font-weight="normal">8</text>
<text transform="translate(167.6,282.8) scale(1,1.05)" font-size="18" text-anchor="middle" font-weight="normal">10</text>
<text transform="translate(207.7,282.8) scale(1,1.05)" font-size="18" text-anchor="middle" font-weight="normal">12</text>
<text transform="translate(248.5,282.8) scale(1,1.05)" font-size="18" text-anchor="middle" font-weight="normal">14</text>
<text transform="translate(289.6,282.8) scale(1,1.05)" font-size="18" text-anchor="middle" font-weight="normal">16</text>
<text transform="translate(329.9,282.8) scale(1,1.05)" font-size="18" text-anchor="middle" font-weight="normal">18</text>
<text transform="translate(128.2,301.9)" font-size="18" textLength="136" lengthAdjust="spacingAndGlyphs" >Frequency(GHz)</text>
<text transform="translate(14.9,198.3) rotate(-90)" font-size="19" textLength="99.6" lengthAdjust="spacingAndGlyphs" >Power(dBm)</text>
<text transform="translate(8.7,14.6) scale(1,1.0)" font-size="23.5" text-anchor="start" font-weight="bold">a</text>
<line x1="404.4" y1="220.9" x2="679.3" y2="220.9" stroke="#808080" stroke-width="1" stroke-dasharray="3.6 1.5 0.8 1.7"/>
<line x1="404.4" y1="184.3" x2="679.3" y2="184.3" stroke="#808080" stroke-width="1" stroke-dasharray="3.6 1.5 0.8 1.7"/>
<line x1="404.4" y1="147.8" x2="679.3" y2="147.8" stroke="#808080" stroke-width="1" stroke-dasharray="3.6 1.5 0.8 1.7"/>
<line x1="404.4" y1="111.2" x2="679.3" y2="111.2" stroke="#808080" stroke-width="1" stroke-dasharray="3.6 1.5 0.8 1.7"/>
<line x1="404.4" y1="74.7" x2="679.3" y2="74.7" stroke="#808080" stroke-width="1" stroke-dasharray="3.6 1.5 0.8 1.7"/>
<line x1="404.4" y1="38.2" x2="679.3" y2="38.2" stroke="#808080" stroke-width="1" stroke-dasharray="3.6 1.5 0.8 1.7"/>
<line x1="404.4" y1="257.4" x2="679.3" y2="257.4" stroke="#808080" stroke-width="1" stroke-dasharray="3.6 1.5 0.8 1.7"/>
<line x1="411" y1="29" x2="411" y2="262.6" stroke="#808080" stroke-width="1" stroke-dasharray="3.6 1.5 0.8 1.7"/>
<line x1="453.9" y1="29" x2="453.9" y2="262.6" stroke="#808080" stroke-width="1" stroke-dasharray="3.6 1.5 0.8 1.7"/>
<line x1="496.9" y1="29" x2="496.9" y2="262.6" stroke="#808080" stroke-width="1" stroke-dasharray="3.6 1.5 0.8 1.7"/>
<line x1="539.8" y1="29" x2="539.8" y2="262.6" stroke="#808080" stroke-width="1" stroke-dasharray="3.6 1.5 0.8 1.7"/>
<line x1="582.8" y1="29" x2="582.8" y2="262.6" stroke="#808080" stroke-width="1" stroke-dasharray="3.6 1.5 0.8 1.7"/>
<line x1="625.7" y1="29" x2="625.7" y2="262.6" stroke="#808080" stroke-width="1" stroke-dasharray="3.6 1.5 0.8 1.7"/>
<line x1="668.6" y1="29" x2="668.6" y2="262.6" stroke="#808080" stroke-width="1" stroke-dasharray="3.6 1.5 0.8 1.7"/>
<rect x="404.4" y="29" width="274.9" height="233.6" fill="none" stroke="#262626" stroke-width="1.35"/>
<path d="M404.4 257.4h3M679.3 257.4h-3M404.4 220.9h3M679.3 220.9h-3M404.4 184.3h3M679.3 184.3h-3M404.4 147.8h3M679.3 147.8h-3M404.4 111.2h3M679.3 111.2h-3M404.4 74.7h3M679.3 74.7h-3M404.4 38.2h3M679.3 38.2h-3" stroke="#262626" stroke-width="1" fill="none"/>
<path d="M411 262.6v-3M411 29v3M453.9 262.6v-3M453.9 29v3M496.9 262.6v-3M496.9 29v3M539.8 262.6v-3M539.8 29v3M582.8 262.6v-3M582.8 29v3M625.7 262.6v-3M625.7 29v3M668.6 262.6v-3M668.6 29v3" stroke="#262626" stroke-width="1" fill="none"/>
<line x1="409.4" y1="258.3" x2="673" y2="36.2" stroke="#0072bd" stroke-width="2"/>
<rect x="406" y="254" width="6.8" height="6.8" fill="#008000"/>
<rect x="460" y="209.8" width="6.8" height="6.8" fill="#008000"/>
<rect x="513.5" y="166.3" width="6.8" height="6.8" fill="#008000"/>
<rect x="559.3" y="126" width="6.8" height="6.8" fill="#008000"/>
<rect x="605.4" y="82.2" width="6.8" height="6.8" fill="#008000"/>
<rect x="669.6" y="31" width="6.8" height="6.8" fill="#008000"/>
<text transform="translate(411.4,283.8) scale(1,1.12)" font-size="18" text-anchor="middle" font-weight="normal">6</text>
<text transform="translate(454.3,283.8) scale(1,1.12)" font-size="18" text-anchor="middle" font-weight="normal">8</text>
<text transform="translate(497.3,283.8) scale(1,1.12)" font-size="18" text-anchor="middle" font-weight="normal">10</text>
<text transform="translate(540.2,283.8) scale(1,1.12)" font-size="18" text-anchor="middle" font-weight="normal">12</text>
<text transform="translate(583.2,283.8) scale(1,1.12)" font-size="18" text-anchor="middle" font-weight="normal">14</text>
<text transform="translate(626.1,283.8) scale(1,1.12)" font-size="18" text-anchor="middle" font-weight="normal">16</text>
<text transform="translate(669,283.8) scale(1,1.12)" font-size="18" text-anchor="middle" font-weight="normal">18</text>
<text transform="translate(386.5,264.3) scale(1,1.05)" font-size="18" text-anchor="middle" font-weight="normal">6</text>
<text transform="translate(386.5,228.3) scale(1,1.05)" font-size="18" text-anchor="middle" font-weight="normal">8</text>
<text transform="translate(386.5,192.3) scale(1,1.05)" font-size="18" text-anchor="middle" font-weight="normal">10</text>
<text transform="translate(386.5,156.3) scale(1,1.05)" font-size="18" text-anchor="middle" font-weight="normal">12</text>
<text transform="translate(386.5,120.3) scale(1,1.05)" font-size="18" text-anchor="middle" font-weight="normal">14</text>
<text transform="translate(386.5,84.3) scale(1,1.05)" font-size="18" text-anchor="middle" font-weight="normal">16</text>
<text transform="translate(386.5,48.3) scale(1,1.05)" font-size="18" text-anchor="middle" font-weight="normal">18</text>
<text transform="translate(432.7,301.9) scale(1,1.1)" font-size="18" textLength="220.4" lengthAdjust="spacingAndGlyphs" >Beating frequency <tspan font-style="italic">f</tspan><tspan font-size="15" font-style="italic" dy="5">b</tspan><tspan dy="-5">(GHz)</tspan></text>
<text transform="translate(369.5,279.2) rotate(-90)" font-size="17.5" textLength="259.2" lengthAdjust="spacingAndGlyphs" >Oscillation frequency <tspan font-style="italic">f</tspan><tspan font-size="12.5" font-style="italic" dy="4.8">osc</tspan><tspan dy="-4.8"> (GHz)</tspan></text>
<text x="435" y="88" font-size="16" text-anchor="start" font-weight="normal" textLength="78.4" lengthAdjust="spacingAndGlyphs">y = 0.9997x</text>
<text x="433.8" y="111.5" font-size="16" textLength="76.3" lengthAdjust="spacingAndGlyphs">R<tspan font-size="12" dy="-7">2</tspan><tspan dy="7">= 0.9994</tspan></text>
<text transform="translate(374.6,16) scale(1,1.0)" font-size="23.5" text-anchor="start" font-weight="bold">b</text>
<line x1="80.1" y1="322.5" x2="80.1" y2="555.8" stroke="#c4c4c4" stroke-width="0.8" stroke-dasharray="0.8 1.6"/>
<line x1="92.1" y1="322.5" x2="92.1" y2="555.8" stroke="#c4c4c4" stroke-width="0.8" stroke-dasharray="0.8 1.6"/>
<line x1="100.7" y1="322.5" x2="100.7" y2="555.8" stroke="#c4c4c4" stroke-width="0.8" stroke-dasharray="0.8 1.6"/>
<line x1="107.3" y1="322.5" x2="107.3" y2="555.8" stroke="#c4c4c4" stroke-width="0.8" stroke-dasharray="0.8 1.6"/>
<line x1="112.8" y1="322.5" x2="112.8" y2="555.8" stroke="#c4c4c4" stroke-width="0.8" stroke-dasharray="0.8 1.6"/>
<line x1="117.4" y1="322.5" x2="117.4" y2="555.8" stroke="#c4c4c4" stroke-width="0.8" stroke-dasharray="0.8 1.6"/>
<line x1="121.4" y1="322.5" x2="121.4" y2="555.8" stroke="#c4c4c4" stroke-width="0.8" stroke-dasharray="0.8 1.6"/>
<line x1="124.9" y1="322.5" x2="124.9" y2="555.8" stroke="#c4c4c4" stroke-width="0.8" stroke-dasharray="0.8 1.6"/>
<line x1="148.7" y1="322.5" x2="148.7" y2="555.8" stroke="#c4c4c4" stroke-width="0.8" stroke-dasharray="0.8 1.6"/>
<line x1="160.7" y1="322.5" x2="160.7" y2="555.8" stroke="#c4c4c4" stroke-width="0.8" stroke-dasharray="0.8 1.6"/>
<line x1="169.3" y1="322.5" x2="169.3" y2="555.8" stroke="#c4c4c4" stroke-width="0.8" stroke-dasharray="0.8 1.6"/>
<line x1="175.9" y1="322.5" x2="175.9" y2="555.8" stroke="#c4c4c4" stroke-width="0.8" stroke-dasharray="0.8 1.6"/>
<line x1="181.4" y1="322.5" x2="181.4" y2="555.8" stroke="#c4c4c4" stroke-width="0.8" stroke-dasharray="0.8 1.6"/>
<line x1="186" y1="322.5" x2="186" y2="555.8" stroke="#c4c4c4" stroke-width="0.8" stroke-dasharray="0.8 1.6"/>
<line x1="190" y1="322.5" x2="190" y2="555.8" stroke="#c4c4c4" stroke-width="0.8" stroke-dasharray="0.8 1.6"/>
<line x1="193.5" y1="322.5" x2="193.5" y2="555.8" stroke="#c4c4c4" stroke-width="0.8" stroke-dasharray="0.8 1.6"/>
<line x1="217.3" y1="322.5" x2="217.3" y2="555.8" stroke="#c4c4c4" stroke-width="0.8" stroke-dasharray="0.8 1.6"/>
<line x1="229.3" y1="322.5" x2="229.3" y2="555.8" stroke="#c4c4c4" stroke-width="0.8" stroke-dasharray="0.8 1.6"/>
<line x1="237.9" y1="322.5" x2="237.9" y2="555.8" stroke="#c4c4c4" stroke-width="0.8" stroke-dasharray="0.8 1.6"/>
<line x1="244.5" y1="322.5" x2="244.5" y2="555.8" stroke="#c4c4c4" stroke-width="0.8" stroke-dasharray="0.8 1.6"/>
<line x1="250" y1="322.5" x2="250" y2="555.8" stroke="#c4c4c4" stroke-width="0.8" stroke-dasharray="0.8 1.6"/>
<line x1="254.6" y1="322.5" x2="254.6" y2="555.8" stroke="#c4c4c4" stroke-width="0.8" stroke-dasharray="0.8 1.6"/>
<line x1="258.6" y1="322.5" x2="258.6" y2="555.8" stroke="#c4c4c4" stroke-width="0.8" stroke-dasharray="0.8 1.6"/>
<line x1="262.1" y1="322.5" x2="262.1" y2="555.8" stroke="#c4c4c4" stroke-width="0.8" stroke-dasharray="0.8 1.6"/>
<line x1="285.9" y1="322.5" x2="285.9" y2="555.8" stroke="#c4c4c4" stroke-width="0.8" stroke-dasharray="0.8 1.6"/>
<line x1="297.9" y1="322.5" x2="297.9" y2="555.8" stroke="#c4c4c4" stroke-width="0.8" stroke-dasharray="0.8 1.6"/>
<line x1="306.5" y1="322.5" x2="306.5" y2="555.8" stroke="#c4c4c4" stroke-width="0.8" stroke-dasharray="0.8 1.6"/>
<line x1="313.1" y1="322.5" x2="313.1" y2="555.8" stroke="#c4c4c4" stroke-width="0.8" stroke-dasharray="0.8 1.6"/>
<line x1="318.6" y1="322.5" x2="318.6" y2="555.8" stroke="#c4c4c4" stroke-width="0.8" stroke-dasharray="0.8 1.6"/>
<line x1="323.2" y1="322.5" x2="323.2" y2="555.8" stroke="#c4c4c4" stroke-width="0.8" stroke-dasharray="0.8 1.6"/>
<line x1="327.2" y1="322.5" x2="327.2" y2="555.8" stroke="#c4c4c4" stroke-width="0.8" stroke-dasharray="0.8 1.6"/>
<line x1="330.7" y1="322.5" x2="330.7" y2="555.8" stroke="#c4c4c4" stroke-width="0.8" stroke-dasharray="0.8 1.6"/>
<line x1="128" y1="322.5" x2="128" y2="555.8" stroke="#808080" stroke-width="1" stroke-dasharray="3.6 3.4"/>
<line x1="196.6" y1="322.5" x2="196.6" y2="555.8" stroke="#808080" stroke-width="1" stroke-dasharray="3.6 3.4"/>
<line x1="265.2" y1="322.5" x2="265.2" y2="555.8" stroke="#808080" stroke-width="1" stroke-dasharray="3.6 3.4"/>
<line x1="59.4" y1="328.2" x2="333.8" y2="328.2" stroke="#808080" stroke-width="1" stroke-dasharray="3.6 3.4"/>
<line x1="59.4" y1="356.7" x2="333.8" y2="356.7" stroke="#808080" stroke-width="1" stroke-dasharray="3.6 3.4"/>
<line x1="59.4" y1="385.1" x2="333.8" y2="385.1" stroke="#808080" stroke-width="1" stroke-dasharray="3.6 3.4"/>
<line x1="59.4" y1="413.6" x2="333.8" y2="413.6" stroke="#808080" stroke-width="1" stroke-dasharray="3.6 3.4"/>
<line x1="59.4" y1="442" x2="333.8" y2="442" stroke="#808080" stroke-width="1" stroke-dasharray="3.6 3.4"/>
<line x1="59.4" y1="470.5" x2="333.8" y2="470.5" stroke="#808080" stroke-width="1" stroke-dasharray="3.6 3.4"/>
<line x1="59.4" y1="499" x2="333.8" y2="499" stroke="#808080" stroke-width="1" stroke-dasharray="3.6 3.4"/>
<line x1="59.4" y1="527.4" x2="333.8" y2="527.4" stroke="#808080" stroke-width="1" stroke-dasharray="3.6 3.4"/>
<clipPath id="cc"><rect x="59.4" y="322.5" width="274.4" height="233.3"/></clipPath>
<g clip-path="url(#cc)" fill="none" stroke-width="0.9" stroke-linejoin="round">
<polygon fill="#ff0000" stroke="#ff0000" stroke-width="0.5" points="244.9,371.1 245.4,370.5 245.9,377.5 246.4,377.6 246.9,376.6 247.4,375.9 247.9,373.2 248.4,380.3 248.9,374.1 249.4,380.2 249.9,381.7 250.4,379.9 250.9,379.5 251.4,382 251.9,379.1 252.4,381.4 252.9,380.9 253.4,381.2 253.9,381.5 254.4,382.6 254.9,378.6 255.4,382.4 255.9,385.4 256.4,380.2 256.9,387.1 257.4,388.4 257.9,389.3 258.4,387.4 258.9,391.5 259.4,393.5 259.9,394.4 260.4,397.6 260.9,399.7 261.4,398 261.9,402.9 262.4,404 262.9,404 263.4,401.9 263.9,405.1 264.4,409.4 264.9,406.6 265.4,409.5 265.9,411 266.4,411.4 266.9,411.5 267.4,413.8 267.9,414.4 268.4,413.9 268.9,414.8 269.4,414.3 269.9,416.8 270.4,411.3 270.9,415.7 271.4,418.8 271.9,418 272.4,421.8 272.9,420.7 273.4,420.2 273.9,423.8 274.4,423.3 274.9,423.2 275.4,428.8 275.9,426.8 276.4,428.3 276.9,432.6 277.4,432.3 277.9,435.2 278.4,434.6 278.9,435.1 279.4,436.9 279.9,438.1 280.4,443.1 280.9,443.6 281.4,448.8 281.9,446.7 282.4,453.9 282.9,455 283.4,457.2 283.9,458 284.4,460.4 284.9,463 285.4,459.1 285.9,465 286.4,463.2 286.9,465.9 287.4,468.3 287.9,469.2 288.4,465.3 288.9,467 289.4,472.9 289.9,473.7 290.4,475.4 290.9,474.7 291.4,474.5 291.9,478.6 292.4,481.6 292.9,479.6 293.4,481.6 293.9,485.2 294.4,488 294.9,490.5 295.4,493.3 295.9,495 296.4,494.8 296.9,497.4 297.4,497.7 297.9,498.1 298.4,497.3 298.9,495.3 299.4,497 299.9,496.9 300.4,497.4 300.9,496.6 301.4,489.5 301.9,495.5 302.4,498.2 302.9,498.7 303.4,496 303.9,500.8 304.4,494.8 304.9,498.7 305.4,500.3 305.9,500.6 306.4,502.6 306.9,499.3 307.4,502.7 307.9,501.7 308.4,503.4 308.9,500.6 309.4,503.6 309.9,502.8 310.4,497.9 310.9,501.8 311.4,497.6 311.9,502.2 312.4,507 312.9,505.2 313.4,507.9 313.9,505.4 314.4,506.9 314.9,508.4 315.4,507.2 315.9,506.2 316.4,504.1 316.9,512.3 317.4,511.3 317.9,509 318.4,513.3 318.9,515.6 319.4,512.8 319.9,511.2 320.4,514 320.9,510.5 321.4,517.7 321.9,518.7 322.4,521.9 322.9,517.5 323.4,521.2 323.9,522.7 324.4,521.9 324.9,514.4 325.4,523.7 325.9,525.7 326.4,521.3 326.9,523 327.4,524.9 327.9,529.2 328.4,528.7 328.9,529.2 329.4,531.6 329.9,525.2 330.4,526.8 330.9,530.6 331.4,532.8 331.9,531.9 332.4,531.1 332.9,530.4 333.4,534.2 333.9,533 334.4,535.6 334.4,553.8 333.9,550 333.4,549.9 332.9,550.3 332.4,551.7 331.9,551.1 331.4,548.2 330.9,550.6 330.4,547.4 329.9,547.7 329.4,544.5 328.9,552.1 328.4,545.1 327.9,545.2 327.4,542.4 326.9,543.5 326.4,539.9 325.9,538.7 325.4,544.5 324.9,540.9 324.4,541.9 323.9,535.4 323.4,535.1 322.9,535.8 322.4,534.3 321.9,536.8 321.4,534.8 320.9,533 320.4,535.2 319.9,528.6 319.4,530.4 318.9,534.9 318.4,527.6 317.9,529.5 317.4,524.8 316.9,526.1 316.4,528.7 315.9,525.3 315.4,525.1 314.9,522.2 314.4,520.9 313.9,523.6 313.4,523.9 312.9,524.3 312.4,521.9 311.9,522.4 311.4,523.1 310.9,521.6 310.4,522.8 309.9,518.3 309.4,517.9 308.9,515.9 308.4,516.9 307.9,520.8 307.4,515.7 306.9,515.9 306.4,519.8 305.9,520.3 305.4,514.4 304.9,524 304.4,515.3 303.9,511.7 303.4,514.1 302.9,510.8 302.4,510.6 301.9,508.2 301.4,508.9 300.9,512.5 300.4,508.7 299.9,515.8 299.4,508.3 298.9,509.6 298.4,509.4 297.9,511 297.4,508.2 296.9,507.1 296.4,508.1 295.9,508.2 295.4,505.3 294.9,507.9 294.4,503.8 293.9,503 293.4,497.3 292.9,492.6 292.4,493.9 291.9,494.6 291.4,489 290.9,488.4 290.4,487.4 289.9,484.5 289.4,486.1 288.9,482.2 288.4,483.3 287.9,479.8 287.4,478.6 286.9,477.4 286.4,480 285.9,475.2 285.4,475.6 284.9,476.5 284.4,469.9 283.9,468.2 283.4,468 282.9,467.1 282.4,465.6 281.9,467.9 281.4,458.2 280.9,457.4 280.4,458.6 279.9,451.6 279.4,453 278.9,447.7 278.4,449.5 277.9,447.3 277.4,443.2 276.9,443.4 276.4,442.4 275.9,441.9 275.4,439.5 274.9,435.4 274.4,436.9 273.9,434.7 273.4,436.8 272.9,431.5 272.4,437.4 271.9,435.6 271.4,431.8 270.9,430.9 270.4,427.5 269.9,427.5 269.4,424.6 268.9,424 268.4,423.3 267.9,424.1 267.4,426.5 266.9,427.2 266.4,427.2 265.9,423.4 265.4,420.8 264.9,420.6 264.4,417.8 263.9,419.9 263.4,414.2 262.9,414.1 262.4,414.6 261.9,412.3 261.4,410.2 260.9,409.1 260.4,407.6 259.9,408.6 259.4,405.9 258.9,402.5 258.4,406.7 257.9,404.6 257.4,399.1 256.9,396.7 256.4,395.6 255.9,394.3 255.4,394.8 254.9,395.2 254.4,394.5 253.9,390.9 253.4,395.4 252.9,391.7 252.4,390.8 251.9,393.9 251.4,390.1 250.9,395.1 250.4,394.1 249.9,389.7 249.4,392 248.9,389.9 248.4,390.8 247.9,390.2 247.4,388.7 246.9,389 246.4,386.3 245.9,387.9 245.4,388.7 244.9,389.4"/>
<polyline stroke="#ff0000" stroke-width="1.1" points="58.9,348.1 59.4,352.6 59.9,338.2 60.2,334.2 60.7,351.5 61.1,344.5 61.5,339.2 61.7,341.4 62.2,345.8 62.6,331.8 63,331.4 63.3,332.9 63.8,340.9 64.1,320.7 64.7,322.9 65.1,342.4 65.6,339.8 65.9,327.9 66.2,346.2 66.7,335.4 67.3,338.8 67.7,345.9 68.3,341.9 68.8,354.3 69.2,345.4 69.6,358.7 69.9,322.7 70.3,328.1 70.6,331 71,339.8 71.4,333.9 71.7,331.9 72,334.3 72.4,335.3 72.8,351.7 73.3,339.8 73.7,348.4 74.2,354 74.6,353.5 74.9,339.5 75.3,333.7 75.8,354.7 76.3,327 76.6,328.9 76.8,344.7 77.4,345 77.9,341.3 78.3,331.9 78.8,343.5 79.2,349.6 79.7,336.8 80,357.6 80.4,338.5 80.8,329.6 81.1,337.2 81.5,333.5 81.9,336.3 82.3,334.7 82.8,340.2 83.1,348.9 83.7,344.1 84.1,343.1 84.5,332 84.8,329.2 85,339.7 85.5,349.7 86,349.6 86.4,344.9 86.9,331.3 87.1,339.9 87.6,342.8 88.1,348.2 88.5,333.9 88.8,338.6 89.3,341 89.6,339.6 90,326.1 90.4,341.4 90.8,325.9 91.1,329.5 91.3,339.5 91.6,332.8 92,341.4 92.3,347.5 92.5,343.2 92.8,348.8 93.2,337.5 93.6,341.9 94.1,337.6 94.5,335.7 95,363.1 95.5,340.3 95.8,357.6 96.1,341.7 96.6,350.3 96.8,342.3 97.2,332 97.5,356.9 98,341.4 98.2,343.6 98.6,358.2 98.8,337.6 99.3,342.5 99.7,347.1 100.1,348.9 100.3,326.3 100.6,346.4 101.1,357.6 101.5,350.7 101.9,346.5 102.4,346.7 102.7,344.2 103,351.9 103.4,339.3 103.6,347.4 104,354.1 104.3,349.4 104.7,345.8 105.1,335.8 105.6,338.3 105.9,344.4 106.3,341.3 106.7,339.3 107.1,324.8 107.5,345.1 107.9,336.4 108.3,334.2 108.5,347.1 108.8,337.9 109.2,337.9 109.5,342.7 109.8,334.7 110.1,331.2 110.3,330.5 110.5,340.4 110.8,337.5 111.1,322.7 111.4,347.7 111.7,337.7 112.2,332.9 112.5,338.8 112.9,335.3 113.3,339.3 113.8,335.2 114,331.8 114.3,343.7 114.7,341.1 115,343.5 115.5,346.4 115.7,343.8 115.9,352.6 116.4,338.7 116.7,331.8 117,331.9 117.4,335.1 117.7,351.8 118.1,333.1 118.4,349.6 118.6,344.6 118.9,330.4 119.2,352.1 119.5,337.9 119.9,342.1 120.1,345.5 120.3,350.9 120.5,341.5 120.9,348.2 121.3,337.3 121.6,336.1 121.9,355.3 122.3,349 122.5,347.7 122.7,354.1 123.1,353.7 123.4,344.8 123.8,346.8 124.1,357.1 124.4,348.8 124.5,341.2 124.8,353.7 125,351.4 125.3,333.2 125.6,334.9 125.9,356 126.2,354.1 126.4,341.5 126.7,352.6 127.1,345.6 127.3,346.9 127.6,339.5 127.9,361.5 128.3,359.1 128.5,352.1 128.8,335.9 129.1,344.1 129.5,355.1 129.8,339.3 130,337.7 130.1,344.5 130.5,345.2 130.8,339.7 131,334.2 131.3,341.6 131.7,338.7 132,342.7 132.2,345.2 132.5,348.9 132.7,340.6 132.9,344.5 133.3,344.1 133.6,335.8 133.8,339 134.2,336.5 134.6,353.9 135,338.9 135.2,347.1 135.4,348.6 135.7,348.9 136,334.4 136.4,337.3 136.8,348.1 137.2,351.3 137.4,343.1 137.7,346.4 137.9,331.3 138.2,353.5 138.4,356.1 138.6,345.4 138.8,343.7 139,343.1 139.3,338.8 139.6,329.9 139.8,347 140,348.5 140.3,357 140.6,343.1 140.9,338.9 141.3,346.7 141.6,336.5 141.9,344.5 142.2,334 142.4,342.1 142.6,351.8 143,348.6 143.2,354.6 143.4,355.9 143.7,341.9 143.9,337.6 144.3,330 144.6,343.9 144.9,345.1 145.1,350.9 145.4,336 145.7,340 146,346.7 146.4,337.6 146.7,338.3 147,355.1 147.4,336.9 147.7,341 148,344.6 148.3,344.8 148.7,329.8 148.8,331.6 149.1,329.9 149.4,350.7 149.6,347.5 149.9,337 150.2,351.7 150.6,348.6 150.8,356.1 151.1,330.9 151.4,336.5 151.7,340.7 152,342.4 152.3,346.8 152.5,346.7 152.7,339.9 152.9,349.2 153.2,336 153.3,348 153.7,350.9 154,336.3 154.2,346.7 154.4,342.1 154.5,349.2 154.9,362 155.1,343.2 155.4,356.2 155.6,339.6 155.8,357.6 156,359.6 156.3,344.6 156.4,343.6 156.8,345.4 157.1,354 157.3,339.2 157.5,354.7 157.7,347.5 158,349.3 158.2,346 158.5,337.4 158.7,346.9 159.1,338.6 159.3,337.4 159.6,353.6 159.9,349.8 160.2,344.5 160.4,345.7 160.7,339.6 161,354.9 161.3,336.9 161.5,336.8 161.7,343.3 162,351.7 162.2,342.5 162.6,346.6 162.9,339.4 163.2,344.2 163.3,339.1 163.6,347.2 163.9,335 164.1,360.4 164.4,352.1 164.7,342.5 164.8,356.1 165,341.3 165.2,354.4 165.5,345.7 165.8,352.2 165.9,349.2 166.1,344.9 166.4,346.4 166.6,348.1 166.8,331.1 167.1,344.8 167.4,350.9 167.8,338.2 168.1,338.6 168.2,335.7 168.4,331.5 168.6,348.8 169,335.5 169.1,334.7 169.4,341.8 169.6,340.1 169.8,359.3 170,345 170.2,329.7 170.4,352.5 170.6,344.4 170.8,339.3 171,337.6 171.3,331.1 171.6,353.1 171.9,341.8 172.1,337 172.4,351 172.6,343.3 172.9,331.6 173.2,335.4 173.4,340.6 173.6,360.6 173.9,345.1 174,341.9 174.3,346.5 174.4,344.9 174.6,329.4 174.9,345.2 175.2,349.8 175.5,342 175.7,345.2 175.9,344.9 176.1,343.3 176.3,337.8 176.5,341 176.8,349.5 177.1,342.7 177.3,338.7 177.6,344.4 177.8,334.4 178.1,336.6 178.4,347.4 178.7,339.4 179,329.4 179.3,332 179.4,341.9 179.7,336.4 179.9,346.2 180.1,351.3 180.4,339.6 180.5,341.8 180.7,340.8 180.9,344.6 181,342.8 181.2,348.3 181.4,343 181.7,341.3 181.9,346.8 182.1,341.8 182.4,357.1 182.6,351.6 182.7,338.4 182.9,336.4 183.1,345.2 183.3,347.2 183.5,354 183.7,344.3 183.9,341.8 184.1,354.8 184.3,342.9 184.6,343.3 184.7,343.6 184.9,352.7 185.1,343.1 185.4,355.1 185.5,338.1 185.7,346.1 185.9,353.7 186.1,339.4 186.4,340.5 186.5,350.9 186.8,334.7 187,353.2 187.2,345.7 187.5,340.7 187.7,360.2 187.9,341.4 188.1,347.2 188.3,346.7 188.5,352.3 188.8,344 189,351.8 189.3,350.8 189.4,347.6 189.6,351.7 189.8,335.7 190.1,351.7 190.3,348.4 190.5,345.8 190.7,344 190.9,339.4 191.1,339.2 191.3,345.5 191.6,346 191.8,343.4 192,338.9 192.2,339.5 192.4,346 192.6,354.3 192.7,331.2 192.8,337.5 193,341 193.3,340.6 193.4,345.1 193.6,347.6 193.9,344 194.2,343.3 194.4,345.6 194.7,350.2 194.9,344 195.1,339.5 195.3,345.3 195.5,342.7 195.7,353.9 195.9,344 196,343.5 196.2,349.3 196.4,351.8 196.6,340.3 196.8,346.9 197,340 197.2,344.6 197.4,339 197.6,344.1 197.8,350.2 198,342.7 198.3,344.3 198.4,339 198.5,344.9 198.7,344.7 198.9,338.3 199.1,336.9 199.3,339.2 199.4,337.9 199.7,341.2 199.9,339.7 200,339.4 200.3,342 200.5,344 200.7,343.7 200.9,332.1 201.2,344.7 201.3,346.2 201.6,347.2 201.8,345.7 201.9,344.6 202.1,352 202.3,356.9 202.5,345.6 202.7,355.8 202.8,346.7 203.1,347.7 203.2,343.1 203.5,341 203.6,348.1 203.9,353.2 204.1,356.9 204.2,355.3 204.4,351.4 204.5,362.3 204.7,351.9 204.9,352.4 205.1,349.4 205.2,354.6 205.5,352.7 205.7,357.3 205.8,356 206,362.5 206.2,353.3 206.3,346.3 206.5,353.2 206.6,352.4 206.8,359.3 207,347.6 207.1,358.6 207.3,351.2 207.5,355 207.8,360.6 207.9,351.2 208.1,356.3 208.2,355.7 208.4,354.7 208.6,357.2 208.8,359.1 209,355 209.2,359 209.4,356.7 209.6,360.1 209.8,363.8 210.1,359.8 210.2,358.8 210.5,356.4 210.6,350.8 210.8,364.7 211.1,356.2 211.3,367.7 211.5,362.4 211.6,360.2 211.8,368.9 211.9,367.3 212.1,358.3 212.2,358.9 212.5,360.2 212.7,363.8 212.9,350 213,361 213.2,364.2 213.4,352.4 213.5,357.2 213.8,361.9 213.9,354.8 214.1,359.6 214.3,357.4 214.4,359.5 214.6,365.2 214.8,356.1 215,360.2 215.1,365.8 215.2,364.8 215.4,357.1 215.5,363.4 215.7,361.6 215.8,359 216.1,361.7 216.2,369.4 216.3,359.5 216.5,358.4 216.7,358.9 216.9,355.9 217.1,362.1 217.2,360.5 217.4,357.2 217.6,366.1 217.7,357.3 217.9,357.7 218.2,362.4 218.4,358 218.5,362.9 218.8,371.1 218.9,362.3 219,366.1 219.1,365.7 219.3,367.1 219.6,361.7 219.7,365.3 219.9,370.8 220.1,365.4 220.3,364.2 220.4,370.7 220.6,369.3 220.7,369 220.8,370 221,365.8 221.2,362.6 221.4,358.8 221.5,362 221.8,363 222,362.7 222.1,362.1 222.3,369.9 222.4,365.3 222.6,367.1 222.7,369.4 222.9,371.1 223,371.6 223.2,370.8 223.3,375.5 223.5,367.7 223.7,370.4 223.9,370 224.1,369.2 224.2,367.8 224.4,373.8 224.5,371.7 224.7,378.7 224.9,381.5 225.1,380.5 225.3,365.1 225.4,380.4 225.6,370.3 225.8,366.1 225.9,374.9 226,365.8 226.1,365 226.3,369.3 226.4,363.1 226.5,371.1 226.6,377.4 226.8,371.9 227,376.3 227.2,380.2 227.3,380.2 227.5,364.5 227.7,377.1 227.8,374.9 228,377.5 228.1,374 228.2,375.8 228.4,376.5 228.5,380 228.6,380.9 228.8,377.7 229,373.1 229.1,364.8 229.2,369.2 229.4,365.7 229.5,371.4 229.6,373.9 229.8,379.1 229.9,373.1 230.1,382.3 230.3,374 230.5,365.2 230.7,371 230.8,367.3 230.9,373.8 231.1,378 231.2,374 231.3,373.7 231.5,366.6 231.7,363.4 231.8,375.4 231.9,373.7 232,373 232.2,374.1 232.3,378.2 232.4,372.6 232.5,371.6 232.7,371.9 232.8,379.1 233,374.4 233.1,381.8 233.3,370.2 233.5,378.8 233.6,375.6 233.8,376.3 233.9,376.9 234,378.9 234.2,381.9 234.4,366.6 234.5,373 234.6,372.9 234.8,364.9 234.9,374.4 235.1,371.8 235.3,374.2 235.4,369.4 235.5,372.6 235.7,373.7 235.8,376.5 235.9,374.6 236.1,371.1 236.3,385.5 236.5,377.4 236.7,379 236.9,379 237,386.4 237.1,375 237.3,382 237.5,379.5 237.6,380.7 237.7,385.7 237.8,380.3 237.9,386.2 238.1,382.2 238.2,379.2 238.4,377.7 238.5,377.1 238.6,377.6 238.7,367.3 238.8,374.3 238.9,381 239.1,378 239.3,378 239.4,375.5 239.5,377 239.7,378 239.9,367.1 240.1,373.7 240.2,375.2 240.4,374.7 240.5,374.6 240.7,367.6 240.9,371.5 241,368.8 241.2,387.1 241.4,372.5 241.5,369.5 241.7,365.7 241.8,374.2 241.9,381.9 242.1,372.2 242.3,377.7 242.5,383.1 242.7,378.5 242.9,371.8 243,371.6 243.2,374 243.3,381.7 243.5,367.1 243.6,383.1 243.8,378.8 244,384.9 244.1,373.4 244.3,377.4 244.4,375.7 244.5,379.1 244.7,380 244.8,378.9 245,387.6 245.2,375.4 245.4,375.6 245.5,381 245.6,379.3 245.8,377.7 245.9,372.1 246,376.8 246.1,378.3 246.2,380.6 246.4,384.7 246.5,380.9 246.7,378.4 246.9,380 247.1,379.1 247.2,376.5 247.4,378.3 247.6,379.5 247.7,378.4 247.9,381 248,382.4 248.1,380.7 248.2,390.4 248.4,378.2 248.6,389.1 248.7,380.5 248.9,384.1 249.1,379.7 249.3,384.2 249.4,388.2 249.5,379.5 249.6,382.9 249.8,383 249.9,382.9 250,378.8 250.2,379.4 250.3,381.5 250.4,388.7 250.6,383.8 250.7,381.6 250.9,374.6 251.1,380.4 251.3,382.5 251.4,377.3 251.6,383 251.7,382.9 251.9,382.6 252.1,389.9 252.3,380.3 252.4,382.9 252.6,386.3 252.7,390.4 252.8,385.2 252.9,380.9 253,389.7 253.2,391.8 253.3,385.8 253.5,394.3 253.7,396.9 253.9,389.7 254,390.5 254.1,388.6 254.3,389.6 254.4,385.8 254.5,387.8 254.7,389.3 254.8,388.7"/>
<polygon fill="#cc00cc" stroke="#cc00cc" stroke-width="0.5" points="244.9,375.2 245.4,375.2 245.9,376 246.4,375.7 246.9,376.6 247.4,373.7 247.9,374.8 248.4,375.1 248.9,376.9 249.4,372.8 249.9,374.6 250.4,374.3 250.9,376.5 251.4,375.4 251.9,375.6 252.4,373.5 252.9,375.9 253.4,371.1 253.9,365.4 254.4,376.7 254.9,371 255.4,374.2 255.9,373.6 256.4,375.9 256.9,374.5 257.4,378.1 257.9,377.8 258.4,375.3 258.9,374.7 259.4,379.3 259.9,380.2 260.4,379.3 260.9,375.9 261.4,382.2 261.9,382.7 262.4,383.8 262.9,384.2 263.4,383.8 263.9,382.2 264.4,378.5 264.9,379.8 265.4,386.4 265.9,386.7 266.4,388.9 266.9,387.1 267.4,391.5 267.9,391.9 268.4,392 268.9,398.5 269.4,399.5 269.9,401.2 270.4,402.8 270.9,403.4 271.4,407.5 271.9,407.9 272.4,409.3 272.9,411.4 273.4,411.4 273.9,409.4 274.4,411 274.9,411.5 275.4,415 275.9,413.8 276.4,413.7 276.9,416.8 277.4,419.6 277.9,414.9 278.4,413.7 278.9,420 279.4,422.2 279.9,420.4 280.4,421.1 280.9,427.6 281.4,428.3 281.9,426.9 282.4,426.5 282.9,436.5 283.4,437.8 283.9,438.5 284.4,439.8 284.9,438.3 285.4,439.8 285.9,441.9 286.4,447.5 286.9,446.4 287.4,445.3 287.9,445.7 288.4,450.4 288.9,454.1 289.4,454.6 289.9,454.6 290.4,458.9 290.9,453.8 291.4,462 291.9,465.3 292.4,464.1 292.9,467.2 293.4,468.5 293.9,469.2 294.4,469.8 294.9,469.2 295.4,472.4 295.9,469.7 296.4,475.3 296.9,471.4 297.4,470.6 297.9,472.9 298.4,476 298.9,479.7 299.4,479.1 299.9,477.8 300.4,482.4 300.9,481.9 301.4,482 301.9,482.2 302.4,484 302.9,488.2 303.4,483.2 303.9,488.7 304.4,491.2 304.9,492.5 305.4,493.3 305.9,493 306.4,495.7 306.9,491.9 307.4,487.5 307.9,494.9 308.4,495.4 308.9,491.4 309.4,492.7 309.9,495.1 310.4,494.7 310.9,497.2 311.4,498.6 311.9,500.2 312.4,501 312.9,500.1 313.4,503.3 313.9,500.9 314.4,504.4 314.9,497.4 315.4,504.1 315.9,506.7 316.4,503.4 316.9,502.4 317.4,501.1 317.9,501.4 318.4,506.2 318.9,503.5 319.4,509.2 319.9,504.7 320.4,509.9 320.9,509.2 321.4,508.7 321.9,507.3 322.4,507.9 322.9,510.6 323.4,510.5 323.9,512.8 324.4,511.5 324.9,512.6 325.4,514.8 325.9,515.4 326.4,515.5 326.9,513.9 327.4,514.7 327.9,513.1 328.4,518.4 328.9,515.3 329.4,511.4 329.9,517.9 330.4,517.3 330.9,513.5 331.4,510.9 331.9,519.2 332.4,517.5 332.9,518.4 333.4,520.8 333.9,520.5 334.4,518.2 334.4,533.6 333.9,539.2 333.4,533.5 332.9,539.2 332.4,532.7 331.9,529.7 331.4,533.5 330.9,530.5 330.4,531.9 329.9,532.1 329.4,531.2 328.9,529.5 328.4,530.7 327.9,534.2 327.4,528.5 326.9,529.7 326.4,530.9 325.9,530.2 325.4,527 324.9,525.9 324.4,525.8 323.9,523.9 323.4,526 322.9,526.5 322.4,522.6 321.9,522.1 321.4,526 320.9,520.7 320.4,519 319.9,525.5 319.4,519.7 318.9,518.7 318.4,518.2 317.9,520.4 317.4,522.3 316.9,517.1 316.4,517.2 315.9,519.6 315.4,518.3 314.9,519 314.4,515.3 313.9,514.4 313.4,515.3 312.9,516.6 312.4,518.1 311.9,513.6 311.4,511.3 310.9,509 310.4,510.6 309.9,511.1 309.4,510 308.9,511.3 308.4,510.2 307.9,507.4 307.4,508.4 306.9,509 306.4,505.8 305.9,505.4 305.4,505.2 304.9,503.9 304.4,502.6 303.9,503.6 303.4,502 302.9,499.5 302.4,496.2 301.9,499.8 301.4,496.1 300.9,494.6 300.4,493.1 299.9,494.8 299.4,491.3 298.9,496 298.4,490.9 297.9,489 297.4,491.5 296.9,490.9 296.4,487 295.9,487.9 295.4,488.6 294.9,484.1 294.4,482.5 293.9,484.7 293.4,481.2 292.9,481.5 292.4,478.9 291.9,475 291.4,475.2 290.9,471.1 290.4,471.5 289.9,471.5 289.4,465.9 288.9,466.6 288.4,466.4 287.9,467.1 287.4,461.9 286.9,463.9 286.4,459 285.9,456 285.4,457.6 284.9,454.8 284.4,452.4 283.9,455.4 283.4,450.5 282.9,446.4 282.4,449 281.9,446.3 281.4,442.4 280.9,440.9 280.4,440.6 279.9,439.3 279.4,435.6 278.9,434.9 278.4,431.2 277.9,433.4 277.4,430.1 276.9,429.4 276.4,431.9 275.9,428.4 275.4,428 274.9,424.8 274.4,425.9 273.9,423.7 273.4,425.2 272.9,422.1 272.4,421.1 271.9,420 271.4,424.1 270.9,419.6 270.4,415.7 269.9,418.5 269.4,410.1 268.9,410.3 268.4,406.6 267.9,403.6 267.4,405.2 266.9,404.6 266.4,409.8 265.9,399.9 265.4,400.7 264.9,403.4 264.4,397.7 263.9,396.2 263.4,397.9 262.9,394.9 262.4,395.4 261.9,396.2 261.4,393.1 260.9,397.3 260.4,395.4 259.9,393.5 259.4,393.2 258.9,397.3 258.4,391.4 257.9,390 257.4,390.9 256.9,388.5 256.4,390.6 255.9,393.9 255.4,392.3 254.9,389 254.4,391.6 253.9,388.5 253.4,394.3 252.9,388.1 252.4,389.5 251.9,386.6 251.4,394.3 250.9,390.3 250.4,388.8 249.9,392.4 249.4,386.4 248.9,392 248.4,388 247.9,390.8 247.4,388.5 246.9,388.5 246.4,386.4 245.9,387 245.4,385.9 244.9,387.1"/>
<polyline stroke="#cc00cc" stroke-width="1.1" points="58.9,369.4 59.4,366.3 59.9,367.9 60.2,378.1 60.7,387.4 61.1,364.5 61.5,362.1 61.7,367.4 62.2,369.1 62.6,369.7 63,374.3 63.3,371.3 63.8,374.1 64.1,370.9 64.7,384.3 65.1,381.1 65.6,368.5 65.9,378 66.2,399.8 66.7,373.1 67.3,398.2 67.7,354.3 68.3,366.5 68.8,366.8 69.2,380.5 69.6,385.1 69.9,375.5 70.3,373 70.6,381.1 71,371.6 71.4,366.2 71.7,367 72,383.7 72.4,395 72.8,372.8 73.3,379.6 73.7,368.2 74.2,356.1 74.6,356 74.9,369.4 75.3,360.9 75.8,355.2 76.3,370.9 76.6,368.3 76.8,362.1 77.4,370.5 77.9,374.8 78.3,377 78.8,369.4 79.2,375.3 79.7,361.2 80,372.3 80.4,354.6 80.8,356.9 81.1,380.9 81.5,358.3 81.9,373 82.3,355.9 82.8,364.4 83.1,370 83.7,363.1 84.1,375.3 84.5,366.8 84.8,366.3 85,371.4 85.5,366.4 86,379.6 86.4,364.9 86.9,381.9 87.1,364.7 87.6,366.3 88.1,364 88.5,376 88.8,349.3 89.3,373 89.6,369.7 90,378.5 90.4,358.2 90.8,376.2 91.1,362.7 91.3,381 91.6,369.3 92,375.9 92.3,364.1 92.5,375.7 92.8,381.2 93.2,369.2 93.6,384.8 94.1,383 94.5,367.5 95,391.9 95.5,368.1 95.8,378.9 96.1,383.6 96.6,373.1 96.8,369.6 97.2,380.6 97.5,376.7 98,367.5 98.2,367.6 98.6,374.2 98.8,380.2 99.3,381.3 99.7,377.6 100.1,365.6 100.3,366.1 100.6,368.2 101.1,358 101.5,372.8 101.9,373.4 102.4,373.6 102.7,353.3 103,388.4 103.4,367.7 103.6,366.4 104,370.1 104.3,350.7 104.7,360.7 105.1,364.5 105.6,379.2 105.9,367.1 106.3,374.9 106.7,371.3 107.1,370.1 107.5,376.1 107.9,366.6 108.3,358.1 108.5,363.4 108.8,370.6 109.2,389.2 109.5,363.4 109.8,363.5 110.1,374.5 110.3,376.9 110.5,367.1 110.8,379.5 111.1,365.7 111.4,381.4 111.7,380 112.2,371.8 112.5,384.2 112.9,371.6 113.3,367 113.8,382.2 114,363.1 114.3,375.4 114.7,365.8 115,368.6 115.5,374 115.7,374.2 115.9,383.8 116.4,375.1 116.7,375.3 117,355.1 117.4,360 117.7,379.5 118.1,361.4 118.4,366.2 118.6,371.1 118.9,364.3 119.2,361.8 119.5,373.2 119.9,371.2 120.1,367.8 120.3,377.7 120.5,368.5 120.9,371.1 121.3,376.4 121.6,378.3 121.9,369.3 122.3,365.1 122.5,369.8 122.7,379.5 123.1,366.9 123.4,371.8 123.8,368.6 124.1,364 124.4,380.8 124.5,374.6 124.8,378.3 125,380.4 125.3,357.4 125.6,366 125.9,387.3 126.2,369.8 126.4,377.5 126.7,364 127.1,372.4 127.3,374.5 127.6,371.8 127.9,369.9 128.3,372.8 128.5,374.7 128.8,374.2 129.1,369.1 129.5,382 129.8,373.1 130,374 130.1,376.7 130.5,366.9 130.8,382.7 131,375.4 131.3,378.8 131.7,367.6 132,375.3 132.2,371.1 132.5,368.1 132.7,383.5 132.9,367.2 133.3,376.5 133.6,372.6 133.8,371.3 134.2,363.8 134.6,364.2 135,356.3 135.2,368.7 135.4,373.7 135.7,374 136,364.9 136.4,357.6 136.8,367.4 137.2,374.6 137.4,367.9 137.7,368.1 137.9,370 138.2,376 138.4,390 138.6,374.6 138.8,362.1 139,368.7 139.3,387.6 139.6,370.4 139.8,384.7 140,355 140.3,369.1 140.6,380 140.9,364.6 141.3,377.3 141.6,367 141.9,371.4 142.2,381 142.4,367 142.6,382.9 143,362.3 143.2,372.4 143.4,381.1 143.7,387.4 143.9,360.8 144.3,362 144.6,382.8 144.9,360.2 145.1,371.5 145.4,374 145.7,372.7 146,373.8 146.4,360.2 146.7,369.9 147,385.1 147.4,354.2 147.7,363.5 148,378.6 148.3,372.9 148.7,377.2 148.8,369.9 149.1,367.2 149.4,368.7 149.6,375.4 149.9,377 150.2,364.5 150.6,372.1 150.8,354.1 151.1,377.8 151.4,365.7 151.7,371.5 152,377.9 152.3,361.6 152.5,371.2 152.7,379.2 152.9,374.8 153.2,364.4 153.3,381.7 153.7,361.6 154,367 154.2,374.4 154.4,361.6 154.5,358.6 154.9,367.5 155.1,370.7 155.4,357.8 155.6,360.4 155.8,379 156,373.2 156.3,373.4 156.4,374.8 156.8,383.2 157.1,364.5 157.3,370.6 157.5,370.5 157.7,360.3 158,375.4 158.2,371.4 158.5,368.8 158.7,374.2 159.1,371.9 159.3,365.2 159.6,371.1 159.9,361 160.2,377.2 160.4,370 160.7,382.6 161,372.6 161.3,377.2 161.5,361.5 161.7,366.3 162,368.2 162.2,357.8 162.6,360.9 162.9,366.3 163.2,377.1 163.3,382.8 163.6,372 163.9,374.5 164.1,376.7 164.4,374.1 164.7,384.5 164.8,360.6 165,380.7 165.2,377.2 165.5,367.9 165.8,384.7 165.9,365.4 166.1,365.3 166.4,374.7 166.6,380.5 166.8,375.9 167.1,386.1 167.4,361.6 167.8,371.5 168.1,377.3 168.2,378.4 168.4,367.3 168.6,360.2 169,380.8 169.1,375.4 169.4,384 169.6,365.9 169.8,369.7 170,354.1 170.2,371.8 170.4,374.2 170.6,376.4 170.8,365.1 171,383.6 171.3,366.3 171.6,370.4 171.9,376.4 172.1,379.6 172.4,365.6 172.6,360 172.9,377.3 173.2,370.4 173.4,361.7 173.6,379.1 173.9,376.6 174,383.6 174.3,375.7 174.4,375.2 174.6,377.4 174.9,379.6 175.2,385.4 175.5,383.2 175.7,380.2 175.9,368.1 176.1,376.1 176.3,378.1 176.5,366.9 176.8,367.2 177.1,376.3 177.3,375.1 177.6,365.7 177.8,367.6 178.1,376.2 178.4,368.6 178.7,370.6 179,362.7 179.3,376.9 179.4,364.9 179.7,368.4 179.9,379 180.1,364.9 180.4,366.4 180.5,382.2 180.7,359.3 180.9,381.4 181,380.1 181.2,376.1 181.4,368.3 181.7,369.7 181.9,374.4 182.1,364.2 182.4,370.8 182.6,363.9 182.7,355.1 182.9,372 183.1,391.2 183.3,376.5 183.5,380.6 183.7,372.5 183.9,372.5 184.1,381.7 184.3,381.1 184.6,374.8 184.7,374.2 184.9,390.6 185.1,365.7 185.4,372 185.5,372.2 185.7,369.9 185.9,378.7 186.1,371.9 186.4,364.3 186.5,364 186.8,368.1 187,373.1 187.2,376.9 187.5,362.5 187.7,368.1 187.9,374.8 188.1,386.8 188.3,378.1 188.5,385.4 188.8,364 189,371.3 189.3,377.4 189.4,374 189.6,354.4 189.8,363.6 190.1,380.8 190.3,372.4 190.5,379.6 190.7,382.6 190.9,369.7 191.1,354.6 191.3,360.2 191.6,370.4 191.8,373.2 192,369.4 192.2,364 192.4,380.8 192.6,383.6 192.7,358.7 192.8,369.8 193,361.2 193.3,370.5 193.4,362.5 193.6,376.6 193.9,369.6 194.2,363 194.4,366.9 194.7,377.2 194.9,368.8 195.1,379.4 195.3,384.7 195.5,372.2 195.7,366.7 195.9,370.5 196,384.4 196.2,370.4 196.4,371.7 196.6,378.8 196.8,391.8 197,368.5 197.2,369 197.4,371.1 197.6,385.1 197.8,383.1 198,366.3 198.3,367.2 198.4,368.8 198.5,373.2 198.7,368.8 198.9,374.7 199.1,373.1 199.3,376.6 199.4,369.3 199.7,373.6 199.9,365 200,366.6 200.3,376.4 200.5,359.5 200.7,378.3 200.9,368.5 201.2,364.4 201.3,363.3 201.6,385.5 201.8,365.2 201.9,364 202.1,362.6 202.3,385.9 202.5,376.3 202.7,372.8 202.8,375.3 203.1,364.5 203.2,377.4 203.5,365.8 203.6,370.1 203.9,382.9 204.1,380.1 204.2,377 204.4,373.5 204.5,367.9 204.7,375.1 204.9,368.2 205.1,383.3 205.2,392.2 205.5,375.5 205.7,370.4 205.8,375.3 206,379.1 206.2,370.4 206.3,361.3 206.5,373.8 206.6,377.7 206.8,378.7 207,362 207.1,374.5 207.3,370.8 207.5,367.6 207.8,369 207.9,381.4 208.1,370.6 208.2,371.5 208.4,374 208.6,371.1 208.8,380.6 209,377.8 209.2,380.3 209.4,372.6 209.6,380.7 209.8,374.2 210.1,382.5 210.2,376.2 210.5,377 210.6,375 210.8,373 211.1,374.4 211.3,374.3 211.5,384.7 211.6,366.1 211.8,376 211.9,373.8 212.1,377.2 212.2,366.9 212.5,378 212.7,370.2 212.9,366.6 213,364.2 213.2,367.1 213.4,370.6 213.5,381 213.8,366.9 213.9,367.4 214.1,369.3 214.3,369.4 214.4,373.5 214.6,376.8 214.8,367.8 215,366.6 215.1,379.4 215.2,368.5 215.4,372.4 215.5,368.8 215.7,372.3 215.8,368 216.1,368.7 216.2,369.7 216.3,382.4 216.5,370.4 216.7,374.8 216.9,381.5 217.1,371.7 217.2,383.2 217.4,370.8 217.6,366.5 217.7,378.5 217.9,370.9 218.2,373.4 218.4,372.1 218.5,382.8 218.8,371.9 218.9,374.3 219,370.7 219.1,374.6 219.3,368.5 219.6,372.8 219.7,370.3 219.9,366.5 220.1,372.9 220.3,368.5 220.4,372.7 220.6,371.2 220.7,377.2 220.8,370.3 221,368.1 221.2,375.3 221.4,370.9 221.5,373.2 221.8,381.7 222,374.2 222.1,369.3 222.3,379.1 222.4,386.2 222.6,375.7 222.7,380.3 222.9,366.7 223,377 223.2,376.9 223.3,380.1 223.5,375.4 223.7,379.7 223.9,381.5 224.1,377 224.2,380.8 224.4,369.5 224.5,382.7 224.7,377 224.9,380.2 225.1,384 225.3,368 225.4,388.3 225.6,369.4 225.8,384.8 225.9,377.1 226,365.6 226.1,388.9 226.3,385.1 226.4,371 226.5,377.2 226.6,381.1 226.8,378.6 227,383.5 227.2,377.6 227.3,370.4 227.5,380.2 227.7,377.4 227.8,371.7 228,367.5 228.1,381.1 228.2,376.4 228.4,381 228.5,381.4 228.6,380.2 228.8,381.7 229,387.6 229.1,389.1 229.2,382.9 229.4,378.5 229.5,373.1 229.6,382.6 229.8,380.9 229.9,376.8 230.1,376.5 230.3,381 230.5,380.6 230.7,370.5 230.8,381.9 230.9,382.6 231.1,388.2 231.2,377.2 231.3,380.6 231.5,368.8 231.7,380.4 231.8,374.1 231.9,373.3 232,369.3 232.2,384.5 232.3,369.3 232.4,377.3 232.5,377.8 232.7,378.9 232.8,379.4 233,379.3 233.1,389.7 233.3,374.9 233.5,377.5 233.6,382.9 233.8,378.4 233.9,366.4 234,376.6 234.2,380.7 234.4,370.1 234.5,383.2 234.6,379.9 234.8,382.2 234.9,380.6 235.1,375.6 235.3,376.3 235.4,383.1 235.5,379.9 235.7,378.9 235.8,381.5 235.9,379.5 236.1,383 236.3,383.1 236.5,379.1 236.7,384.7 236.9,377.3 237,380.6 237.1,384.5 237.3,383.1 237.5,382.8 237.6,381.4 237.7,380 237.8,381.9 237.9,385.5 238.1,373.8 238.2,376.6 238.4,380.7 238.5,376.2 238.6,379.4 238.7,382.2 238.8,380.3 238.9,366.8 239.1,375 239.3,374.3 239.4,381.2 239.5,375.8 239.7,366.9 239.9,375.9 240.1,372.2 240.2,371.2 240.4,374.2 240.5,369.4 240.7,376.3 240.9,375 241,381 241.2,364.7 241.4,376.9 241.5,378.2 241.7,372.1 241.8,381.9 241.9,379.7 242.1,383.8 242.3,380 242.5,382.1 242.7,377.3 242.9,380.5 243,382.8 243.2,381.1 243.3,380 243.5,381.7 243.6,374.3 243.8,375.6 244,378.1 244.1,384.9 244.3,376.2 244.4,385.2 244.5,378 244.7,378.8 244.8,382.1 245,383.4 245.2,383 245.4,369.4 245.5,381.3 245.6,381.1 245.8,375.5 245.9,378.3 246,375.3 246.1,386.7 246.2,386.1 246.4,364.4 246.5,381.2 246.7,382.4 246.9,380.3 247.1,376.1 247.2,386.8 247.4,379.2 247.6,380.4 247.7,376.8 247.9,378.9 248,382.2 248.1,383.6 248.2,391.2 248.4,374.1 248.6,386 248.7,380.7 248.9,370.5 249.1,380.9 249.3,375.9 249.4,380.4 249.5,376.3 249.6,380.1 249.8,383.3 249.9,374.6 250,383.1 250.2,388.7 250.3,384.1 250.4,380.3 250.6,388.6 250.7,379.4 250.9,379.8 251.1,373.2 251.3,386.8 251.4,380.3 251.6,391.8 251.7,385.7 251.9,383 252.1,381.5 252.3,383.7 252.4,383.9 252.6,386.5 252.7,385.7 252.8,382.1 252.9,380.9 253,380.5 253.2,378.9 253.3,378.1 253.5,392.8 253.7,386.8 253.9,385.2 254,387.8 254.1,379.7 254.3,381.2 254.4,385.6 254.5,384.8 254.7,379.5 254.8,387.4"/>
<polygon fill="#d95319" stroke="#d95319" stroke-width="0.5" points="244.9,374.4 245.4,374.7 245.9,370.2 246.4,371.8 246.9,371.9 247.4,372.6 247.9,366 248.4,371.3 248.9,368 249.4,365.8 249.9,367.6 250.4,370.6 250.9,370.6 251.4,369.1 251.9,370.8 252.4,373.8 252.9,373.6 253.4,374.9 253.9,374 254.4,374 254.9,373.8 255.4,374.2 255.9,372.3 256.4,374.4 256.9,373.3 257.4,374.1 257.9,373.3 258.4,375.4 258.9,377.2 259.4,378.8 259.9,374.8 260.4,376.3 260.9,379.7 261.4,379.9 261.9,377.6 262.4,379.9 262.9,381.5 263.4,382 263.9,379.6 264.4,381.2 264.9,381.8 265.4,382.3 265.9,384.9 266.4,386.4 266.9,387.7 267.4,388.7 267.9,388.7 268.4,390.6 268.9,387.8 269.4,390.6 269.9,390.3 270.4,392 270.9,392.2 271.4,392.9 271.9,389.9 272.4,395.3 272.9,394.1 273.4,396.4 273.9,399.1 274.4,400.3 274.9,403 275.4,404.7 275.9,407.9 276.4,406.5 276.9,409.6 277.4,408.2 277.9,412.8 278.4,411.6 278.9,415.4 279.4,416 279.9,412.8 280.4,416.6 280.9,417.6 281.4,417.2 281.9,421 282.4,420.6 282.9,422.8 283.4,422.6 283.9,425.4 284.4,424.7 284.9,428.2 285.4,429.8 285.9,430.6 286.4,431.6 286.9,434.5 287.4,435.7 287.9,436.5 288.4,439.3 288.9,440.1 289.4,442.6 289.9,444.6 290.4,446.6 290.9,448.4 291.4,449.7 291.9,448 292.4,450.5 292.9,453.4 293.4,455.4 293.9,457 294.4,459.1 294.9,460.1 295.4,460.8 295.9,460.4 296.4,459.3 296.9,466.2 297.4,465.4 297.9,466.8 298.4,468.6 298.9,469.5 299.4,470.7 299.9,470.1 300.4,472.6 300.9,473.9 301.4,469.5 301.9,476.1 302.4,477.4 302.9,472.8 303.4,478.8 303.9,481.2 304.4,482.1 304.9,482.6 305.4,483.2 305.9,482.4 306.4,484.8 306.9,485.7 307.4,482.1 307.9,483.9 308.4,488 308.9,489 309.4,490.1 309.9,490.1 310.4,490.1 310.9,489.9 311.4,488.1 311.9,490.7 312.4,489.5 312.9,489.2 313.4,492.1 313.9,494.5 314.4,494.6 314.9,495.9 315.4,494 315.9,498.9 316.4,499.4 316.9,502 317.4,501.9 317.9,503 318.4,505.3 318.9,503.4 319.4,507 319.9,504.2 320.4,505.7 320.9,507.3 321.4,505.9 321.9,508.3 322.4,505.7 322.9,503.4 323.4,508.8 323.9,505.4 324.4,506.1 324.9,510.2 325.4,507.7 325.9,512.1 326.4,506.8 326.9,509.7 327.4,513.1 327.9,514.7 328.4,514.6 328.9,514.8 329.4,513.3 329.9,514.9 330.4,515.1 330.9,514.8 331.4,517.6 331.9,510.9 332.4,514.4 332.9,519.2 333.4,520.6 333.9,520.9 334.4,522.5 334.4,532.4 333.9,530.3 333.4,532.9 332.9,528.3 332.4,528.7 331.9,525.8 331.4,525.9 330.9,524.7 330.4,532.7 329.9,524.8 329.4,524.6 328.9,524 328.4,522.3 327.9,526.4 327.4,521.4 326.9,521.6 326.4,522 325.9,520.7 325.4,524.3 324.9,520.8 324.4,517.3 323.9,522.7 323.4,518.2 322.9,518.6 322.4,515.5 321.9,523.5 321.4,518.2 320.9,516.8 320.4,514.9 319.9,514.7 319.4,516.9 318.9,513.8 318.4,513.7 317.9,512.4 317.4,510.7 316.9,511.2 316.4,507.8 315.9,508.4 315.4,505.4 314.9,504.6 314.4,502.6 313.9,501.4 313.4,500.7 312.9,503.2 312.4,502.5 311.9,502 311.4,499.9 310.9,502.4 310.4,498.1 309.9,501.9 309.4,499.5 308.9,500.7 308.4,496.8 307.9,498 307.4,495.6 306.9,496.1 306.4,492.9 305.9,493.6 305.4,491.3 304.9,491.3 304.4,491.4 303.9,487.9 303.4,491.8 302.9,487.5 302.4,486.2 301.9,484.2 301.4,481.5 300.9,481.9 300.4,486.5 299.9,483.5 299.4,478.2 298.9,477.8 298.4,478.7 297.9,476 297.4,476.5 296.9,476.7 296.4,472.9 295.9,472.9 295.4,473 294.9,466.8 294.4,466.3 293.9,465 293.4,464.6 292.9,462.1 292.4,461.3 291.9,461.8 291.4,457.2 290.9,454.4 290.4,453.5 289.9,450.9 289.4,449.1 288.9,447.7 288.4,447.6 287.9,446.5 287.4,444.5 286.9,442.5 286.4,441.7 285.9,441.2 285.4,437.5 284.9,435.9 284.4,433.9 283.9,436.4 283.4,432.7 282.9,429.8 282.4,431.3 281.9,428.5 281.4,427.4 280.9,426.2 280.4,427.8 279.9,424.1 279.4,425.4 278.9,422 278.4,423.5 277.9,419.7 277.4,423.1 276.9,420.3 276.4,415.8 275.9,417 275.4,412.6 274.9,410.8 274.4,410.3 273.9,411.5 273.4,406.2 272.9,409.1 272.4,404.1 271.9,401.3 271.4,400.7 270.9,399.7 270.4,401.7 269.9,399.3 269.4,398.1 268.9,397.6 268.4,400.6 267.9,400.1 267.4,395.8 266.9,397.7 266.4,395.1 265.9,392.5 265.4,393.2 264.9,390.1 264.4,389.3 263.9,388.9 263.4,391.2 262.9,390 262.4,389.3 261.9,390.8 261.4,391.9 260.9,388.1 260.4,391.2 259.9,386.7 259.4,385.3 258.9,388.2 258.4,385.1 257.9,384.1 257.4,390.5 256.9,383.9 256.4,387.5 255.9,382.6 255.4,385.3 254.9,383.1 254.4,383.4 253.9,383.7 253.4,385 252.9,382.8 252.4,384.3 251.9,381 251.4,382.4 250.9,379 250.4,380.1 249.9,378.1 249.4,378.8 248.9,378.1 248.4,380.1 247.9,383.4 247.4,380.3 246.9,385.6 246.4,386.3 245.9,381.3 245.4,382.3 244.9,386.5"/>
<polyline stroke="#d95319" stroke-width="1.1" points="58.9,384.4 59.4,385.1 59.9,365.4 60.2,354.3 60.7,355 61.1,363.9 61.5,358.4 61.7,362.2 62.2,372 62.6,345.3 63,366.7 63.3,379.1 63.8,372.5 64.1,384.7 64.7,368.5 65.1,357.2 65.6,383.4 65.9,357.8 66.2,349.4 66.7,366.9 67.3,383.8 67.7,380.6 68.3,375.1 68.8,385.3 69.2,384.7 69.6,374 69.9,372.9 70.3,364.2 70.6,383.1 71,350 71.4,358.1 71.7,359.5 72,375.3 72.4,349.4 72.8,371 73.3,347.9 73.7,355.6 74.2,376.1 74.6,371.3 74.9,346.6 75.3,355.7 75.8,368 76.3,364.3 76.6,364.4 76.8,374.7 77.4,368.8 77.9,373.8 78.3,371.5 78.8,362.2 79.2,377 79.7,359.5 80,365.8 80.4,358.9 80.8,357.5 81.1,353.9 81.5,360.2 81.9,359.4 82.3,368.4 82.8,360.9 83.1,375.8 83.7,369.1 84.1,359 84.5,367.3 84.8,362.4 85,377.6 85.5,353.1 86,372.7 86.4,363 86.9,367.2 87.1,357.7 87.6,370.9 88.1,377.1 88.5,386.2 88.8,370.4 89.3,379.3 89.6,362.6 90,354 90.4,390.5 90.8,381.6 91.1,366.1 91.3,357.3 91.6,366.8 92,366.9 92.3,365.2 92.5,364.6 92.8,354.2 93.2,364.4 93.6,382.6 94.1,375.1 94.5,368.4 95,378.3 95.5,372.7 95.8,375.2 96.1,377 96.6,363.4 96.8,373.7 97.2,380.5 97.5,376.6 98,369.3 98.2,350.1 98.6,366.6 98.8,354.6 99.3,363.9 99.7,388.8 100.1,364.4 100.3,375.9 100.6,380.4 101.1,377.7 101.5,350.4 101.9,382.2 102.4,373 102.7,356.1 103,360.5 103.4,382.8 103.6,367.7 104,371.5 104.3,368.4 104.7,359.1 105.1,371.3 105.6,368.5 105.9,351.6 106.3,382.1 106.7,368.2 107.1,360.2 107.5,376 107.9,370.4 108.3,376.8 108.5,363.3 108.8,370.8 109.2,358.1 109.5,356.3 109.8,365.8 110.1,370.1 110.3,364.6 110.5,366.9 110.8,378.9 111.1,358.3 111.4,366.3 111.7,361.4 112.2,381.1 112.5,360.9 112.9,350.5 113.3,363.5 113.8,382.2 114,368.8 114.3,369.8 114.7,367.1 115,371.2 115.5,364.6 115.7,373.1 115.9,366.7 116.4,374.8 116.7,367.7 117,359.7 117.4,372.8 117.7,362.4 118.1,376.2 118.4,371.6 118.6,370.3 118.9,357.5 119.2,375.6 119.5,358.3 119.9,382.2 120.1,370.9 120.3,361.8 120.5,363.9 120.9,379.1 121.3,381 121.6,362.6 121.9,381.1 122.3,364.9 122.5,374.3 122.7,369.4 123.1,351.1 123.4,354.9 123.8,360.5 124.1,379.3 124.4,364.2 124.5,366.1 124.8,367.1 125,354.5 125.3,380.5 125.6,363.1 125.9,364.7 126.2,372.1 126.4,351 126.7,376.7 127.1,365.8 127.3,365.5 127.6,385.2 127.9,378.9 128.3,375.2 128.5,360.4 128.8,359.2 129.1,362.4 129.5,365.3 129.8,386.2 130,365.6 130.1,371.8 130.5,357.5 130.8,355.9 131,349.6 131.3,360.9 131.7,359.9 132,375.3 132.2,365.9 132.5,376.9 132.7,358.7 132.9,376.5 133.3,368.3 133.6,373.6 133.8,370.7 134.2,363.1 134.6,371.8 135,365.4 135.2,375.8 135.4,355.9 135.7,373.2 136,359.4 136.4,350.5 136.8,388.3 137.2,376.1 137.4,369.6 137.7,358.2 137.9,372.2 138.2,365 138.4,374.3 138.6,363.5 138.8,378.4 139,361.4 139.3,390.3 139.6,384.3 139.8,353.6 140,367.3 140.3,376.3 140.6,351.5 140.9,359.9 141.3,359.2 141.6,371.9 141.9,363.1 142.2,364 142.4,381.9 142.6,363.2 143,369.8 143.2,357.7 143.4,357.7 143.7,374.1 143.9,373.9 144.3,367.4 144.6,363.8 144.9,372.9 145.1,370.9 145.4,365.2 145.7,366.9 146,361 146.4,368.8 146.7,378.1 147,385.3 147.4,364 147.7,373.3 148,373.4 148.3,372.9 148.7,383.2 148.8,373.3 149.1,391.2 149.4,372.9 149.6,376.6 149.9,353.9 150.2,365 150.6,370.2 150.8,366.9 151.1,362.1 151.4,374.2 151.7,369.8 152,370.7 152.3,350.9 152.5,367.4 152.7,384.1 152.9,361.9 153.2,351.3 153.3,376.3 153.7,351.8 154,369.4 154.2,360.9 154.4,373.8 154.5,371.5 154.9,379.2 155.1,377.9 155.4,386.6 155.6,359.8 155.8,378.4 156,366.1 156.3,366.4 156.4,374.5 156.8,368.7 157.1,369.9 157.3,373.2 157.5,368.8 157.7,369 158,377.6 158.2,379.9 158.5,376.2 158.7,368.3 159.1,358 159.3,357.3 159.6,366.4 159.9,360.9 160.2,367.5 160.4,359.4 160.7,367 161,364.7 161.3,370 161.5,367.5 161.7,352.3 162,377.1 162.2,367.4 162.6,372.2 162.9,359.9 163.2,353.2 163.3,370.5 163.6,389.1 163.9,363.5 164.1,363.8 164.4,382.1 164.7,371 164.8,369.7 165,387.6 165.2,364.2 165.5,366.3 165.8,368 165.9,378.2 166.1,375.5 166.4,374.8 166.6,366 166.8,377.3 167.1,358.2 167.4,366.5 167.8,386.3 168.1,356.3 168.2,368 168.4,373.5 168.6,368.4 169,383.4 169.1,367.8 169.4,388.3 169.6,377.5 169.8,359.6 170,360.6 170.2,373.2 170.4,378.3 170.6,364.2 170.8,371.8 171,370 171.3,367 171.6,380.1 171.9,366.1 172.1,388 172.4,360.8 172.6,383.4 172.9,376 173.2,375.8 173.4,365 173.6,364.3 173.9,366.6 174,364.9 174.3,364.8 174.4,368.3 174.6,381.4 174.9,384 175.2,383.6 175.5,366.9 175.7,368 175.9,367.6 176.1,365 176.3,368.5 176.5,374.5 176.8,378.6 177.1,381.9 177.3,359.6 177.6,362.2 177.8,379 178.1,371.6 178.4,366.8 178.7,358.8 179,374.7 179.3,369.2 179.4,362 179.7,382.8 179.9,375.4 180.1,370.3 180.4,375 180.5,354.6 180.7,363.4 180.9,367.9 181,375.9 181.2,362.9 181.4,364.5 181.7,372.5 181.9,372 182.1,379.3 182.4,369.6 182.6,363.1 182.7,362.3 182.9,365.3 183.1,363.6 183.3,373.4 183.5,372.6 183.7,361.1 183.9,366.3 184.1,374.8 184.3,365.7 184.6,363.3 184.7,363.9 184.9,367.8 185.1,371.9 185.4,365.4 185.5,356.3 185.7,366.5 185.9,371.8 186.1,364.7 186.4,374.9 186.5,364.7 186.8,368 187,359.2 187.2,364.7 187.5,358.3 187.7,349.8 187.9,366.6 188.1,370.8 188.3,362.2 188.5,366.1 188.8,364.7 189,369.8 189.3,362.4 189.4,366 189.6,381.1 189.8,368.8 190.1,365.1 190.3,359.9 190.5,371.5 190.7,373.1 190.9,360.5 191.1,372.1 191.3,367.6 191.6,365.3 191.8,363.7 192,368.4 192.2,375.7 192.4,362.1 192.6,371.4 192.7,372 192.8,355.9 193,363.1 193.3,375.6 193.4,371.8 193.6,370.2 193.9,373.3 194.2,380.4 194.4,363.2 194.7,363.2 194.9,366.3 195.1,370.3 195.3,366.5 195.5,363.6 195.7,374.2 195.9,369.9 196,371.4 196.2,363.7 196.4,366.5 196.6,376.4 196.8,372.5 197,358.1 197.2,375.3 197.4,368.7 197.6,373.8 197.8,362.6 198,370.8 198.3,373.3 198.4,377.8 198.5,372.3 198.7,365.9 198.9,366.8 199.1,378.9 199.3,361.6 199.4,372.1 199.7,376.8 199.9,369.7 200,373.9 200.3,373.4 200.5,373.5 200.7,370.1 200.9,372.3 201.2,379.2 201.3,366.4 201.6,372.2 201.8,362.3 201.9,366.1 202.1,365.4 202.3,367.7 202.5,361.3 202.7,370.3 202.8,373.7 203.1,365.9 203.2,382.8 203.5,369.3 203.6,365.7 203.9,368.9 204.1,359.2 204.2,362 204.4,365.1 204.5,367.8 204.7,359.6 204.9,369.6 205.1,368.4 205.2,362.5 205.5,363.7 205.7,356.7 205.8,369.2 206,378.8 206.2,365.9 206.3,363.3 206.5,371.4 206.6,363 206.8,362.5 207,375.8 207.1,375.2 207.3,379.7 207.5,370.6 207.8,369.9 207.9,370.7 208.1,380.3 208.2,378 208.4,381.4 208.6,382.3 208.8,380.8 209,381.8 209.2,374.4 209.4,371.1 209.6,369.8 209.8,372.7 210.1,375.6 210.2,371.9 210.5,368.9 210.6,372.8 210.8,370.9 211.1,372.5 211.3,373.5 211.5,370.9 211.6,376.4 211.8,366.1 211.9,379 212.1,369.5 212.2,378.4 212.5,364.9 212.7,368.3 212.9,376.5 213,374.8 213.2,378.4 213.4,373.4 213.5,371.3 213.8,361.3 213.9,379.7 214.1,367.6 214.3,376.1 214.4,372.2 214.6,369.6 214.8,371.1 215,371.8 215.1,374.9 215.2,374.2 215.4,373.8 215.5,369.5 215.7,381.8 215.8,377.6 216.1,381.3 216.2,380.1 216.3,379.7 216.5,371.3 216.7,366.9 216.9,370.3 217.1,381.3 217.2,375.6 217.4,380.5 217.6,373.4 217.7,369.5 217.9,372.3 218.2,370.7 218.4,374.9 218.5,382.6 218.8,382.6 218.9,374.2 219,371.4 219.1,368.4 219.3,375.3 219.6,373.6 219.7,372.9 219.9,369.2 220.1,374.1 220.3,378.5 220.4,369.1 220.6,371.9 220.7,372 220.8,378.9 221,373.2 221.2,380.5 221.4,381.7 221.5,374 221.8,375 222,370.5 222.1,366.9 222.3,373.4 222.4,365.8 222.6,375.9 222.7,370.1 222.9,378.7 223,372.9 223.2,374.6 223.3,373.9 223.5,370.4 223.7,380.5 223.9,371.8 224.1,375.4 224.2,371.1 224.4,369.8 224.5,372.8 224.7,372.7 224.9,375.8 225.1,368.8 225.3,374 225.4,369.6 225.6,377.7 225.8,366.4 225.9,376.7 226,368.1 226.1,375.2 226.3,371.3 226.4,374.6 226.5,371.5 226.6,374.5 226.8,369.3 227,371.7 227.2,371.7 227.3,367.7 227.5,377.4 227.7,369 227.8,373.9 228,380.3 228.1,372.3 228.2,375 228.4,367.2 228.5,376.2 228.6,374.1 228.8,373.5 229,382.6 229.1,372.9 229.2,379.4 229.4,369.9 229.5,369.1 229.6,376.1 229.8,382.8 229.9,375.8 230.1,376 230.3,374.2 230.5,378.4 230.7,382.3 230.8,378.1 230.9,381.4 231.1,370.5 231.2,380.5 231.3,380.2 231.5,377.7 231.7,382.3 231.8,378.9 231.9,377.5 232,378.8 232.2,377.6 232.3,371.5 232.4,374.4 232.5,381.1 232.7,377.4 232.8,372.6 233,378.2 233.1,375.4 233.3,375.9 233.5,373.8 233.6,376.9 233.8,376.9 233.9,380 234,375.4 234.2,380.7 234.4,370.5 234.5,377.4 234.6,378.4 234.8,374.3 234.9,377.9 235.1,377 235.3,377.3 235.4,379.6 235.5,380 235.7,378.8 235.8,371.4 235.9,378.1 236.1,377.1 236.3,377 236.5,372.4 236.7,367.6 236.9,378.9 237,373.5 237.1,375.5 237.3,377.6 237.5,374.7 237.6,382 237.7,374.2 237.8,376.9 237.9,381.9 238.1,372 238.2,374.9 238.4,373.4 238.5,383.3 238.6,378.5 238.7,379.1 238.8,374.4 238.9,371.3 239.1,383.5 239.3,375.7 239.4,375.9 239.5,371.4 239.7,375.3 239.9,380 240.1,375.9 240.2,379 240.4,378.2 240.5,375.1 240.7,377.2 240.9,374.3 241,381.1 241.2,366.6 241.4,370.5 241.5,372.6 241.7,380.1 241.8,383.3 241.9,378.4 242.1,375.9 242.3,366.7 242.5,370.1 242.7,377 242.9,370.6 243,370.6 243.2,375.2 243.3,371 243.5,374.4 243.6,378.2 243.8,380.2 244,376.3 244.1,372.1 244.3,380.9 244.4,381.8 244.5,373.8 244.7,385.9 244.8,369.2 245,377.6 245.2,373.3 245.4,369.2 245.5,381.6 245.6,380.3 245.8,368.4 245.9,378 246,377.9 246.1,376.8 246.2,374 246.4,373.5 246.5,378.2 246.7,380.2 246.9,379.2 247.1,378 247.2,374.5 247.4,378.7 247.6,372.6 247.7,382.1 247.9,377 248,372.2 248.1,373.5 248.2,376.7 248.4,380.7 248.6,379.8 248.7,377.5 248.9,375.5 249.1,377.3 249.3,381.3 249.4,378.7 249.5,374.1 249.6,372.7 249.8,380.6 249.9,376.8 250,381.5 250.2,377.4 250.3,364.4 250.4,375.2 250.6,376.7 250.7,377.6 250.9,379.7 251.1,382 251.3,375.7 251.4,376.5 251.6,370.4 251.7,381.4 251.9,374.2 252.1,371.1 252.3,382.8 252.4,373.7 252.6,381.9 252.7,374.6 252.8,371.4 252.9,376.7 253,375.6 253.2,379.3 253.3,376.1 253.5,373.3 253.7,378.1 253.9,378.2 254,376.4 254.1,375 254.3,383.8 254.4,378.2 254.5,381.2 254.7,377.4 254.8,375.7"/>
<polygon fill="#0000ff" stroke="#0000ff" stroke-width="0.5" points="244.9,362.5 245.4,360.9 245.9,358.4 246.4,357.7 246.9,359 247.4,359 247.9,362.2 248.4,351.7 248.9,362.4 249.4,358.9 249.9,360.8 250.4,355 250.9,356.3 251.4,359 251.9,362.1 252.4,360.7 252.9,360.8 253.4,354.2 253.9,359.7 254.4,356.2 254.9,352.1 255.4,358.9 255.9,352.7 256.4,358.3 256.9,356.2 257.4,356.1 257.9,353.5 258.4,351.6 258.9,356.5 259.4,356.2 259.9,353.1 260.4,352.2 260.9,354.1 261.4,347.3 261.9,358.8 262.4,355.8 262.9,360.6 263.4,360.5 263.9,359.1 264.4,364 264.9,366.8 265.4,368.3 265.9,367.3 266.4,363.5 266.9,365.7 267.4,369.2 267.9,371.8 268.4,368.6 268.9,373.1 269.4,369.2 269.9,373.2 270.4,372.3 270.9,376.2 271.4,373 271.9,370.7 272.4,381.8 272.9,380.9 273.4,384.8 273.9,385 274.4,379.8 274.9,391.6 275.4,393.8 275.9,395.1 276.4,396.1 276.9,397.2 277.4,397.8 277.9,404.1 278.4,405.5 278.9,406.6 279.4,408.9 279.9,405.8 280.4,405.7 280.9,411.8 281.4,410.9 281.9,412.5 282.4,412.1 282.9,416.2 283.4,416.8 283.9,417.1 284.4,418.8 284.9,421.5 285.4,419.4 285.9,422.8 286.4,426.4 286.9,427.1 287.4,429.3 287.9,430.8 288.4,428.2 288.9,434.2 289.4,436.8 289.9,438.6 290.4,438.4 290.9,437.9 291.4,444.1 291.9,445.1 292.4,447.1 292.9,448.8 293.4,454.6 293.9,455.8 294.4,461 294.9,461.8 295.4,463 295.9,462.5 296.4,469.4 296.9,468.1 297.4,467 297.9,472.9 298.4,471.1 298.9,466 299.4,471.7 299.9,472.5 300.4,471 300.9,472.1 301.4,467.7 301.9,470.1 302.4,470.2 302.9,475.3 303.4,475.3 303.9,476.4 304.4,477.1 304.9,472.8 305.4,478.3 305.9,477.1 306.4,481 306.9,480 307.4,482.2 307.9,482.2 308.4,482.7 308.9,477.8 309.4,483 309.9,485.9 310.4,485.6 310.9,489 311.4,489.4 311.9,487 312.4,489.2 312.9,489.1 313.4,486.8 313.9,491 314.4,491.8 314.9,492.4 315.4,491.2 315.9,495 316.4,495.1 316.9,494.2 317.4,494.3 317.9,499.3 318.4,493.5 318.9,493.3 319.4,498.5 319.9,496.2 320.4,500.4 320.9,498.8 321.4,502.1 321.9,502.8 322.4,502.7 322.9,503 323.4,503.5 323.9,503.1 324.4,503.6 324.9,503.2 325.4,505.3 325.9,505.1 326.4,507.9 326.9,505 327.4,511 327.9,507.3 328.4,509.1 328.9,511.8 329.4,513 329.9,513.2 330.4,515.2 330.9,508.1 331.4,515.9 331.9,515.6 332.4,515.3 332.9,511.2 333.4,514.8 333.9,516.7 334.4,512.4 334.4,534.5 333.9,528.8 333.4,529.6 332.9,532.3 332.4,527.5 331.9,530.2 331.4,529.8 330.9,527 330.4,526 329.9,529.8 329.4,529.1 328.9,526.6 328.4,527.1 327.9,529.5 327.4,525.1 326.9,521.7 326.4,524.2 325.9,520.7 325.4,518.5 324.9,516 324.4,517.3 323.9,514.8 323.4,515.6 322.9,519 322.4,514.7 321.9,513.6 321.4,513.4 320.9,513.5 320.4,513.2 319.9,512.2 319.4,515.3 318.9,511.6 318.4,513.7 317.9,509.4 317.4,513.4 316.9,517.1 316.4,506.6 315.9,506.6 315.4,512.9 314.9,504.6 314.4,504.8 313.9,503.5 313.4,506.4 312.9,506.9 312.4,506.7 311.9,503.1 311.4,501.1 310.9,503.4 310.4,502 309.9,501.6 309.4,496.4 308.9,494.9 308.4,495.6 307.9,497.4 307.4,498.2 306.9,499.9 306.4,491.5 305.9,492 305.4,489.8 304.9,490.8 304.4,488.1 303.9,492.1 303.4,486.7 302.9,485.3 302.4,487.3 301.9,484.6 301.4,483.3 300.9,486.1 300.4,483.7 299.9,483.1 299.4,489.5 298.9,482.9 298.4,483.6 297.9,485.6 297.4,486.6 296.9,484.7 296.4,484.7 295.9,482.9 295.4,477.1 294.9,473.8 294.4,475.6 293.9,469.1 293.4,466.5 292.9,471.9 292.4,463.3 291.9,458.2 291.4,457.3 290.9,455 290.4,454.7 289.9,449.8 289.4,452 288.9,453.5 288.4,447.6 287.9,446.2 287.4,444.7 286.9,440.6 286.4,443.4 285.9,435.9 285.4,438.8 284.9,437.2 284.4,434.3 283.9,435.2 283.4,429.3 282.9,429.1 282.4,427.1 281.9,426.5 281.4,430.1 280.9,426.9 280.4,423.5 279.9,424.1 279.4,426.9 278.9,426.1 278.4,416.7 277.9,419.2 277.4,416 276.9,414.1 276.4,416.2 275.9,415.6 275.4,406.5 274.9,404 274.4,403.8 273.9,400.5 273.4,403.6 272.9,397.8 272.4,398 271.9,392.5 271.4,389.5 270.9,389.4 270.4,387.5 269.9,386.8 269.4,386.3 268.9,385.9 268.4,386.3 267.9,386.7 267.4,388.8 266.9,384.8 266.4,383.3 265.9,380.9 265.4,378.8 264.9,381.9 264.4,381.4 263.9,375.8 263.4,375 262.9,373.3 262.4,370.7 261.9,376.9 261.4,375.1 260.9,375.2 260.4,368.2 259.9,370.8 259.4,368.4 258.9,368.4 258.4,369.4 257.9,368.5 257.4,370.1 256.9,371.9 256.4,370.5 255.9,370.6 255.4,373.1 254.9,377.1 254.4,376.9 253.9,377.6 253.4,386.9 252.9,378.7 252.4,373.7 251.9,378.7 251.4,374.1 250.9,377.7 250.4,378.3 249.9,375.5 249.4,376.9 248.9,373.8 248.4,373.4 247.9,376.4 247.4,373.6 246.9,375.8 246.4,377 245.9,375.2 245.4,375.4 244.9,375.3"/>
<polyline stroke="#0000ff" stroke-width="1.1" points="58.9,380 59.4,372.3 59.9,388 60.2,383.1 60.7,372.2 61.1,381.8 61.5,379.5 61.7,377.1 62.2,371.9 62.6,366.3 63,366.2 63.3,363.4 63.8,372.2 64.1,380.2 64.7,391.4 65.1,377.7 65.6,382.2 65.9,393 66.2,355.2 66.7,392.7 67.3,368.8 67.7,366.6 68.3,375.1 68.8,350.4 69.2,372.7 69.6,381.2 69.9,354.3 70.3,381.9 70.6,388.8 71,384.4 71.4,380.7 71.7,373.5 72,370.5 72.4,390.4 72.8,370.8 73.3,352.7 73.7,382.2 74.2,375.9 74.6,367.1 74.9,361.6 75.3,381.2 75.8,384.1 76.3,384.5 76.6,362.3 76.8,364.2 77.4,395.7 77.9,395.1 78.3,385.4 78.8,387.8 79.2,367.7 79.7,369.5 80,351.5 80.4,363.4 80.8,370.3 81.1,359.6 81.5,380.8 81.9,386.1 82.3,371.6 82.8,362.5 83.1,388.6 83.7,363.2 84.1,363.7 84.5,377.6 84.8,370.8 85,375.1 85.5,371.4 86,364 86.4,379.6 86.9,360.9 87.1,362.3 87.6,361.8 88.1,390 88.5,388.6 88.8,363.1 89.3,375.5 89.6,376.3 90,376.8 90.4,382.4 90.8,372.1 91.1,376.4 91.3,376 91.6,365.2 92,381.6 92.3,359.4 92.5,392.3 92.8,350.8 93.2,384.8 93.6,366.5 94.1,363.7 94.5,373.1 95,366.2 95.5,374.7 95.8,390.9 96.1,370.9 96.6,363.5 96.8,379.7 97.2,390.6 97.5,380 98,371 98.2,371 98.6,363.1 98.8,368.2 99.3,368.5 99.7,391.8 100.1,352.9 100.3,372 100.6,364.2 101.1,375.5 101.5,373.6 101.9,371.6 102.4,357.4 102.7,358.1 103,366.5 103.4,353.9 103.6,375.8 104,367.4 104.3,376.5 104.7,360.4 105.1,371.9 105.6,363.2 105.9,356.3 106.3,390.8 106.7,352.7 107.1,368.8 107.5,374.5 107.9,388.6 108.3,373.6 108.5,391.4 108.8,369.6 109.2,371.8 109.5,353.6 109.8,372.9 110.1,360.2 110.3,359.2 110.5,351.2 110.8,372.1 111.1,363.2 111.4,383.9 111.7,380.7 112.2,373.7 112.5,372 112.9,382.9 113.3,376.2 113.8,366.9 114,377.5 114.3,375.1 114.7,381.6 115,361.7 115.5,358.2 115.7,371.7 115.9,374.5 116.4,358.6 116.7,368.6 117,378.2 117.4,383.7 117.7,376.8 118.1,353.1 118.4,376.1 118.6,352.6 118.9,370.5 119.2,372 119.5,358.5 119.9,371.8 120.1,366.3 120.3,378.3 120.5,379.8 120.9,375.2 121.3,366.8 121.6,374 121.9,384.9 122.3,364.1 122.5,369.3 122.7,370.3 123.1,373 123.4,386.7 123.8,354.5 124.1,372 124.4,363.7 124.5,356.7 124.8,359.2 125,367.2 125.3,369.1 125.6,366.9 125.9,362.1 126.2,365 126.4,373.9 126.7,366.8 127.1,367.6 127.3,365.1 127.6,369.2 127.9,359.6 128.3,369.3 128.5,363.6 128.8,370.6 129.1,375.5 129.5,378.5 129.8,372.1 130,366.2 130.1,360.1 130.5,371.2 130.8,374.5 131,374.3 131.3,359.6 131.7,369.2 132,374.1 132.2,364 132.5,380.7 132.7,369 132.9,370.3 133.3,370.9 133.6,379.1 133.8,361.5 134.2,355.7 134.6,379.9 135,367.9 135.2,363.5 135.4,351.3 135.7,371.5 136,375.5 136.4,367.7 136.8,351.1 137.2,366.5 137.4,364.7 137.7,352.2 137.9,383.5 138.2,383.6 138.4,358.7 138.6,359.6 138.8,376.8 139,361.2 139.3,364.9 139.6,363.3 139.8,371.3 140,368.2 140.3,371.5 140.6,363.9 140.9,366 141.3,350.6 141.6,359.2 141.9,376.9 142.2,361 142.4,353 142.6,362.6 143,356.6 143.2,366 143.4,360.6 143.7,374.2 143.9,360.9 144.3,378.8 144.6,357.9 144.9,380.8 145.1,386 145.4,365.1 145.7,371 146,369 146.4,366.6 146.7,370.3 147,377.3 147.4,368.6 147.7,367.3 148,366.1 148.3,354.3 148.7,376 148.8,369.4 149.1,365.5 149.4,373.3 149.6,379.2 149.9,374 150.2,361 150.6,371.6 150.8,364.6 151.1,375.1 151.4,365.6 151.7,374.4 152,375.5 152.3,367.9 152.5,368.2 152.7,356.9 152.9,381.1 153.2,364.1 153.3,355.2 153.7,357.1 154,370.8 154.2,373.2 154.4,371.7 154.5,365.6 154.9,366.4 155.1,365.1 155.4,363.4 155.6,376.8 155.8,377.5 156,378.5 156.3,379.6 156.4,370.1 156.8,367 157.1,352.7 157.3,365.7 157.5,369.8 157.7,359 158,376 158.2,367.7 158.5,362.9 158.7,364.5 159.1,367.5 159.3,373.3 159.6,380.2 159.9,371.5 160.2,374.8 160.4,364.5 160.7,370.6 161,364.8 161.3,381.4 161.5,360.9 161.7,374.5 162,379.5 162.2,377.6 162.6,371.4 162.9,357.7 163.2,360.6 163.3,375.2 163.6,365.6 163.9,367.3 164.1,378.8 164.4,374.6 164.7,382.9 164.8,374.3 165,388 165.2,374.5 165.5,376 165.8,375.2 165.9,375.7 166.1,360.9 166.4,372.3 166.6,367.9 166.8,364 167.1,363 167.4,364.6 167.8,373.8 168.1,378 168.2,375.6 168.4,373.4 168.6,370 169,370.6 169.1,362 169.4,370.9 169.6,356.9 169.8,362.6 170,373.8 170.2,364.1 170.4,390.5 170.6,360.5 170.8,367.8 171,367.9 171.3,383.2 171.6,354.1 171.9,372.6 172.1,372 172.4,362.8 172.6,372.4 172.9,377.2 173.2,366.2 173.4,378.2 173.6,365.5 173.9,369.9 174,362.6 174.3,379.4 174.4,361.7 174.6,368.4 174.9,356.3 175.2,375 175.5,356.9 175.7,364.9 175.9,364 176.1,374.5 176.3,365.1 176.5,364 176.8,374.2 177.1,376.3 177.3,373.2 177.6,357.3 177.8,366 178.1,360.3 178.4,364.6 178.7,365.6 179,364.7 179.3,369 179.4,357.7 179.7,365 179.9,364.6 180.1,375.8 180.4,364.1 180.5,370.8 180.7,369.7 180.9,359.1 181,373.7 181.2,367.6 181.4,362 181.7,358.4 181.9,369.8 182.1,364.2 182.4,364.5 182.6,374.2 182.7,381.2 182.9,380.1 183.1,363.4 183.3,367.1 183.5,377 183.7,372.6 183.9,371.5 184.1,371.5 184.3,369.6 184.6,354.9 184.7,374.9 184.9,368.9 185.1,375 185.4,374 185.5,375.5 185.7,371.1 185.9,373 186.1,366.8 186.4,367.6 186.5,374.6 186.8,356.1 187,376.2 187.2,366.1 187.5,354.3 187.7,373.3 187.9,360 188.1,359.5 188.3,366.6 188.5,381 188.8,360.2 189,368.8 189.3,373 189.4,361.4 189.6,374.3 189.8,362.8 190.1,373.1 190.3,366.1 190.5,376.1 190.7,371.6 190.9,374.7 191.1,373.3 191.3,367.5 191.6,369.4 191.8,366.9 192,359.7 192.2,368.5 192.4,379.4 192.6,369.4 192.7,366.9 192.8,360.9 193,360.9 193.3,361.4 193.4,368.9 193.6,363.5 193.9,376.5 194.2,359.7 194.4,365.1 194.7,364.9 194.9,370.5 195.1,368 195.3,372.7 195.5,365.2 195.7,377.1 195.9,363.1 196,365.8 196.2,356.8 196.4,369.3 196.6,369.9 196.8,368.1 197,369.1 197.2,369.9 197.4,375.9 197.6,375.8 197.8,372.5 198,370.6 198.3,375.9 198.4,375.6 198.5,370.1 198.7,363.8 198.9,369.3 199.1,363.9 199.3,362 199.4,363.1 199.7,370.1 199.9,370 200,378.7 200.3,371.8 200.5,365 200.7,374.5 200.9,360.3 201.2,360.2 201.3,371.3 201.6,364.1 201.8,378.4 201.9,376.7 202.1,373 202.3,371.1 202.5,372.6 202.7,376.8 202.8,360.3 203.1,370.1 203.2,370.1 203.5,367.6 203.6,370.4 203.9,372.6 204.1,374.2 204.2,380.2 204.4,361.5 204.5,375.2 204.7,379.1 204.9,373.7 205.1,377.8 205.2,356.4 205.5,365.2 205.7,358.7 205.8,357.8 206,362.3 206.2,361.6 206.3,368.6 206.5,364.3 206.6,366.8 206.8,362.7 207,366.6 207.1,355.1 207.3,358.1 207.5,363.2 207.8,372.3 207.9,359.2 208.1,358.6 208.2,364.6 208.4,372.1 208.6,363.3 208.8,360.4 209,377.9 209.2,364.4 209.4,378.5 209.6,368.3 209.8,359.1 210.1,368.8 210.2,366.6 210.5,371.2 210.6,369.4 210.8,356.1 211.1,361.6 211.3,370.5 211.5,370.9 211.6,368.5 211.8,356.3 211.9,367.2 212.1,362 212.2,370.3 212.5,375.3 212.7,360.8 212.9,368.8 213,372.8 213.2,372.6 213.4,372.6 213.5,372.5 213.8,377.8 213.9,362.9 214.1,367.4 214.3,364.4 214.4,371.9 214.6,368.3 214.8,369.4 215,364 215.1,366 215.2,368.5 215.4,374.2 215.5,377.2 215.7,374.9 215.8,373.9 216.1,373.2 216.2,377 216.3,361.1 216.5,368.5 216.7,380.9 216.9,375.7 217.1,376.8 217.2,368.2 217.4,363.8 217.6,374.9 217.7,366.4 217.9,371.3 218.2,363.8 218.4,362.9 218.5,368.7 218.8,366.7 218.9,370.9 219,373.2 219.1,377.7 219.3,369.8 219.6,372.2 219.7,374.1 219.9,372.7 220.1,373.3 220.3,378 220.4,375.4 220.6,366.4 220.7,373.8 220.8,364.9 221,378.6 221.2,379.6 221.4,371.4 221.5,367.8 221.8,375.2 222,368.1 222.1,366.2 222.3,365.3 222.4,371.3 222.6,370.7 222.7,379.3 222.9,370.1 223,368.2 223.2,361.9 223.3,376.4 223.5,374.1 223.7,374.9 223.9,364.6 224.1,383.2 224.2,375.5 224.4,358.5 224.5,366.2 224.7,377 224.9,370.2 225.1,365.3 225.3,367 225.4,371.2 225.6,374.4 225.8,365.4 225.9,369.9 226,365.3 226.1,367.4 226.3,372 226.4,361.4 226.5,371.8 226.6,366.5 226.8,372.2 227,370.1 227.2,370.1 227.3,372.4 227.5,367.5 227.7,361.6 227.8,358.6 228,360.8 228.1,369.6 228.2,360.6 228.4,366.4 228.5,358.8 228.6,375.4 228.8,360.5 229,371.7 229.1,362.2 229.2,370.9 229.4,363.7 229.5,370.4 229.6,379.3 229.8,374.6 229.9,371.1 230.1,370.2 230.3,383 230.5,377.7 230.7,375.6 230.8,373.1 230.9,371 231.1,376.8 231.2,380.9 231.3,371.1 231.5,374.6 231.7,367.9 231.8,375.7 231.9,369 232,377.1 232.2,370.6 232.3,371.2 232.4,369 232.5,376.3 232.7,371.8 232.8,375.5 233,371.5 233.1,367.2 233.3,354 233.5,370 233.6,366.2 233.8,369.5 233.9,364 234,367.9 234.2,365 234.4,368.9 234.5,357.8 234.6,363.7 234.8,380.8 234.9,370.1 235.1,371.6 235.3,384.2 235.4,377 235.5,375.1 235.7,376.6 235.8,371.8 235.9,382.2 236.1,368.1 236.3,367.7 236.5,369.6 236.7,373.1 236.9,370.8 237,372.9 237.1,363.7 237.3,366.7 237.5,358.1 237.6,370.7 237.7,360.2 237.8,370.9 237.9,368.4 238.1,372.9 238.2,364.1 238.4,367.1 238.5,363 238.6,358.1 238.7,366.4 238.8,363.9 238.9,360.8 239.1,365.9 239.3,368.4 239.4,363.3 239.5,362.5 239.7,360.7 239.9,360.4 240.1,368.6 240.2,362.4 240.4,358.3 240.5,367.6 240.7,363.1 240.9,368.6 241,364.5 241.2,355.9 241.4,364.9 241.5,371.4 241.7,364.2 241.8,365.1 241.9,360.4 242.1,374.1 242.3,371.6 242.5,366.8 242.7,375.1 242.9,360.1 243,377.7 243.2,371 243.3,374.5 243.5,370 243.6,362.1 243.8,363.3 244,361.7 244.1,363.6 244.3,378.5 244.4,365.9 244.5,378.4 244.7,371.5 244.8,371.3 245,372.5 245.2,367.3 245.4,374.9 245.5,361.3 245.6,367.9 245.8,365.1 245.9,367.8 246,367.3 246.1,372.7 246.2,361.7 246.4,378.4 246.5,370.1 246.7,372.5 246.9,373.6 247.1,370.4 247.2,375.9 247.4,366.6 247.6,366.6 247.7,369.9 247.9,365.9 248,375.1 248.1,378.8 248.2,371.3 248.4,369.1 248.6,353.4 248.7,368.2 248.9,360.8 249.1,361.7 249.3,354.6 249.4,365.7 249.5,362.7 249.6,367.5 249.8,371.6 249.9,372.7 250,371.6 250.2,359.6 250.3,366.1 250.4,368.9 250.6,367.9 250.7,371.4 250.9,368.4 251.1,368.2 251.3,364.4 251.4,363 251.6,377.1 251.7,366.7 251.9,360 252.1,373.2 252.3,368.6 252.4,366.2 252.6,360.7 252.7,363.4 252.8,367.7 252.9,363.3 253,360.1 253.2,363.6 253.3,355.1 253.5,362.8 253.7,370.9 253.9,369.1 254,365.2 254.1,365.4 254.3,360.5 254.4,362 254.5,354.1 254.7,359.1 254.8,355.3"/>
<polygon fill="#008000" stroke="#008000" stroke-width="0.5" points="244.9,354 245.4,352.1 245.9,354.2 246.4,356.1 246.9,354.6 247.4,352.4 247.9,352.3 248.4,344.9 248.9,354.2 249.4,355.2 249.9,352.7 250.4,352.1 250.9,354.4 251.4,353.3 251.9,352.4 252.4,353.3 252.9,350.5 253.4,352 253.9,347.2 254.4,355.6 254.9,352.5 255.4,355.2 255.9,354.6 256.4,354.2 256.9,350.6 257.4,351.5 257.9,353.8 258.4,349.9 258.9,344.7 259.4,346.2 259.9,352.4 260.4,354.9 260.9,353.6 261.4,354.5 261.9,351.1 262.4,351.7 262.9,352.2 263.4,357 263.9,352.9 264.4,358.7 264.9,358.9 265.4,361 265.9,363.5 266.4,362.5 266.9,362 267.4,365.5 267.9,366 268.4,369.6 268.9,369.6 269.4,371 269.9,374.7 270.4,375.7 270.9,375 271.4,375.7 271.9,373.7 272.4,371.5 272.9,379.6 273.4,379.8 273.9,380 274.4,381.7 274.9,382.2 275.4,386.3 275.9,380.9 276.4,384.8 276.9,387.6 277.4,389.7 277.9,389.4 278.4,390.7 278.9,397.3 279.4,397.6 279.9,398.2 280.4,401.8 280.9,402.2 281.4,404.6 281.9,403.5 282.4,410.3 282.9,412.5 283.4,412.4 283.9,407.2 284.4,410.4 284.9,416 285.4,420.4 285.9,422.1 286.4,423.1 286.9,416.3 287.4,423.1 287.9,424.3 288.4,425.6 288.9,425.5 289.4,427.2 289.9,428.7 290.4,432.7 290.9,432.8 291.4,431.1 291.9,436.6 292.4,433.3 292.9,441.6 293.4,444.5 293.9,448.7 294.4,450 294.9,442.1 295.4,453.7 295.9,451.9 296.4,456.5 296.9,457.9 297.4,458.6 297.9,460.8 298.4,462 298.9,461.6 299.4,463.2 299.9,463.8 300.4,459.8 300.9,464.8 301.4,460.6 301.9,462.5 302.4,463.4 302.9,467.6 303.4,462 303.9,469.2 304.4,467.2 304.9,467.6 305.4,474.6 305.9,474 306.4,469.3 306.9,472.3 307.4,477.6 307.9,473 308.4,474.7 308.9,478.2 309.4,479.9 309.9,480.1 310.4,481.5 310.9,479.7 311.4,480.7 311.9,483.3 312.4,480.6 312.9,485.6 313.4,486.9 313.9,486.6 314.4,488.6 314.9,486.5 315.4,488.6 315.9,482.6 316.4,489.7 316.9,489.6 317.4,488.3 317.9,490.3 318.4,483.8 318.9,485.3 319.4,486.9 319.9,489.2 320.4,488 320.9,491.8 321.4,493.5 321.9,485.6 322.4,491.6 322.9,488.8 323.4,493.9 323.9,488.6 324.4,491.6 324.9,490.4 325.4,494.7 325.9,494.3 326.4,493.2 326.9,490.1 327.4,497.6 327.9,498.7 328.4,495.7 328.9,496.4 329.4,497.2 329.9,499.9 330.4,498.2 330.9,497.6 331.4,499.9 331.9,500.4 332.4,500 332.9,495.2 333.4,500 333.9,499.2 334.4,502 334.4,515.8 333.9,515.4 333.4,515.6 332.9,517.9 332.4,511.2 331.9,515.7 331.4,511.1 330.9,512.6 330.4,511.4 329.9,510.8 329.4,513.2 328.9,516.3 328.4,510.7 327.9,510.1 327.4,516.4 326.9,510.1 326.4,507.6 325.9,507.9 325.4,505.7 324.9,507.2 324.4,508.8 323.9,511.5 323.4,508 322.9,517.2 322.4,504.7 321.9,509 321.4,504.6 320.9,507.6 320.4,505.2 319.9,508.5 319.4,504.8 318.9,504.8 318.4,510.9 317.9,500.7 317.4,512 316.9,509.6 316.4,503.3 315.9,500.2 315.4,503.8 314.9,501.7 314.4,501.1 313.9,504.7 313.4,500.1 312.9,498.5 312.4,504.9 311.9,497 311.4,498.9 310.9,494 310.4,493.9 309.9,491.7 309.4,494 308.9,492.6 308.4,493.5 307.9,491.7 307.4,492.2 306.9,492.8 306.4,491.3 305.9,486.6 305.4,487.7 304.9,488.5 304.4,485 303.9,490.1 303.4,484 302.9,482.4 302.4,478.5 301.9,482.5 301.4,476.3 300.9,477.8 300.4,476.5 299.9,474.4 299.4,478.6 298.9,474 298.4,478.6 297.9,478.3 297.4,472.4 296.9,471.7 296.4,470.4 295.9,469.8 295.4,468.4 294.9,474.7 294.4,468.5 293.9,460.3 293.4,458.8 292.9,455.8 292.4,455 291.9,451.1 291.4,457.1 290.9,445.8 290.4,447.2 289.9,444.3 289.4,443.3 288.9,440.7 288.4,439.8 287.9,440.1 287.4,440.6 286.9,441.1 286.4,434.3 285.9,433.9 285.4,434.8 284.9,432.1 284.4,429.9 283.9,429.4 283.4,434.3 282.9,425.8 282.4,423.2 281.9,421.7 281.4,422.2 280.9,417.4 280.4,416.2 279.9,416.7 279.4,416.3 278.9,409.8 278.4,408.5 277.9,405.4 277.4,404.4 276.9,403 276.4,403.4 275.9,408.9 275.4,399 274.9,397.3 274.4,395.8 273.9,395.2 273.4,398.4 272.9,391.1 272.4,391.4 271.9,391.3 271.4,388.4 270.9,387.3 270.4,388.6 269.9,390.5 269.4,385.8 268.9,384.1 268.4,387.4 267.9,382.3 267.4,379.9 266.9,377.9 266.4,378.5 265.9,377 265.4,376.2 264.9,374.7 264.4,376.2 263.9,371.6 263.4,370.8 262.9,371.1 262.4,369.3 261.9,368.6 261.4,371 260.9,370.6 260.4,369 259.9,370 259.4,371.5 258.9,369.5 258.4,368.2 257.9,366 257.4,368.4 256.9,369.7 256.4,368.6 255.9,367 255.4,366.7 254.9,366.7 254.4,370.7 253.9,377.6 253.4,368.9 252.9,369.6 252.4,367.5 251.9,368.3 251.4,366.8 250.9,366.9 250.4,372 249.9,365.3 249.4,365.5 248.9,368.9 248.4,367.2 247.9,368.2 247.4,367.6 246.9,368.1 246.4,367 245.9,369 245.4,370.1 244.9,370.8"/>
<polyline stroke="#008000" stroke-width="1.1" points="58.9,354.6 59.4,372.2 59.9,357.2 60.2,357.8 60.7,347.7 61.1,377 61.5,362 61.7,343.1 62.2,364.4 62.6,364.8 63,345.8 63.3,343.5 63.8,360.5 64.1,367.7 64.7,367 65.1,365.4 65.6,369.6 65.9,369.4 66.2,361.2 66.7,362.4 67.3,358.9 67.7,362.7 68.3,373 68.8,356.3 69.2,360.3 69.6,367 69.9,364.1 70.3,358.8 70.6,360.6 71,362.1 71.4,354.4 71.7,351.8 72,363.2 72.4,360.7 72.8,369.7 73.3,362 73.7,356.9 74.2,354 74.6,360.1 74.9,362.5 75.3,367.9 75.8,360.4 76.3,371.6 76.6,361.8 76.8,362.9 77.4,370.4 77.9,360.4 78.3,364.9 78.8,358.3 79.2,367 79.7,359 80,350.2 80.4,361.3 80.8,356.4 81.1,367.7 81.5,365.3 81.9,377.5 82.3,363.4 82.8,371.1 83.1,360.9 83.7,378 84.1,368.3 84.5,360.7 84.8,358 85,373.9 85.5,363.9 86,343.8 86.4,354.1 86.9,358.9 87.1,380.1 87.6,367.3 88.1,356.3 88.5,358.5 88.8,356.9 89.3,353.1 89.6,360 90,354.2 90.4,374.7 90.8,344.5 91.1,363.3 91.3,366.1 91.6,349.6 92,356.5 92.3,353.6 92.5,365.8 92.8,359 93.2,355.6 93.6,369.8 94.1,363 94.5,363.4 95,364 95.5,367.4 95.8,371.9 96.1,359.5 96.6,361.1 96.8,354.6 97.2,363.9 97.5,368.5 98,374.3 98.2,362.9 98.6,365.6 98.8,348 99.3,346.5 99.7,350.4 100.1,368.5 100.3,371.5 100.6,362.2 101.1,366.6 101.5,348.8 101.9,357.9 102.4,361.3 102.7,358.1 103,348.4 103.4,364.2 103.6,353.4 104,366.4 104.3,358 104.7,361.3 105.1,354 105.6,355.2 105.9,347.7 106.3,351.5 106.7,360.9 107.1,366.3 107.5,362.7 107.9,360.2 108.3,359 108.5,363.2 108.8,350.3 109.2,351.8 109.5,360.9 109.8,362.9 110.1,361.4 110.3,360.4 110.5,360.5 110.8,372 111.1,363.7 111.4,374.1 111.7,360.7 112.2,356.1 112.5,368.2 112.9,359.5 113.3,364.7 113.8,365.1 114,346.2 114.3,353.5 114.7,356.2 115,362.6 115.5,356.6 115.7,360.7 115.9,356.2 116.4,365.5 116.7,359.8 117,362.1 117.4,369.2 117.7,347.7 118.1,354 118.4,365 118.6,369.7 118.9,364.7 119.2,365.4 119.5,363.7 119.9,369.9 120.1,365.2 120.3,359.2 120.5,356.9 120.9,373.4 121.3,359.9 121.6,366.7 121.9,367.1 122.3,362.1 122.5,364.7 122.7,355.3 123.1,355.3 123.4,362.1 123.8,364.3 124.1,348 124.4,347.3 124.5,357.2 124.8,360.5 125,352.8 125.3,349.6 125.6,362.8 125.9,347.2 126.2,360.4 126.4,352.2 126.7,363 127.1,359.2 127.3,362.8 127.6,359.6 127.9,353.3 128.3,366.1 128.5,362.5 128.8,357.3 129.1,364.2 129.5,347.9 129.8,371.3 130,347.3 130.1,366.2 130.5,355.4 130.8,351.1 131,357.9 131.3,370.7 131.7,363.2 132,360.1 132.2,356.1 132.5,352.8 132.7,351.3 132.9,348.3 133.3,363.6 133.6,350.2 133.8,367.7 134.2,354.8 134.6,362.6 135,367.3 135.2,349.4 135.4,355.7 135.7,349.2 136,366.3 136.4,364.1 136.8,357.1 137.2,361 137.4,356.5 137.7,361.3 137.9,359.6 138.2,365.1 138.4,349.2 138.6,359.6 138.8,365.2 139,352.9 139.3,354 139.6,355.6 139.8,355.2 140,359 140.3,357.2 140.6,370.8 140.9,366.3 141.3,364 141.6,353.9 141.9,347.6 142.2,356.7 142.4,357.5 142.6,348.3 143,358 143.2,351.4 143.4,352.9 143.7,364.3 143.9,353.6 144.3,354.4 144.6,363.3 144.9,362.4 145.1,364 145.4,346.9 145.7,342.2 146,351.5 146.4,346.1 146.7,365.1 147,347.6 147.4,344.1 147.7,346.7 148,363.5 148.3,350.7 148.7,358.9 148.8,351.4 149.1,362.9 149.4,358.7 149.6,362.5 149.9,355.8 150.2,359.7 150.6,351.8 150.8,353.4 151.1,356 151.4,358.7 151.7,360.3 152,358.1 152.3,353.1 152.5,357 152.7,355.8 152.9,357.8 153.2,357.8 153.3,361.6 153.7,369.5 154,353.7 154.2,353.9 154.4,363.7 154.5,345.3 154.9,365.1 155.1,351.3 155.4,356.2 155.6,355.8 155.8,350.6 156,352.1 156.3,357.8 156.4,364.6 156.8,365.6 157.1,356.4 157.3,347.3 157.5,351.6 157.7,357.2 158,354.8 158.2,352.2 158.5,345.4 158.7,361 159.1,351.3 159.3,353.8 159.6,360.2 159.9,361.6 160.2,347 160.4,352.7 160.7,356.1 161,354.1 161.3,348.6 161.5,354.2 161.7,344.9 162,357.1 162.2,360.7 162.6,356.8 162.9,362.6 163.2,359.5 163.3,350.1 163.6,347.8 163.9,355.1 164.1,358.2 164.4,365.6 164.7,366.5 164.8,358.2 165,359.5 165.2,364 165.5,363 165.8,350.3 165.9,353.4 166.1,358.9 166.4,357.4 166.6,350.5 166.8,355.6 167.1,356.1 167.4,366.8 167.8,367.4 168.1,368.6 168.2,370.7 168.4,357.1 168.6,355.1 169,362.5 169.1,354.6 169.4,354.7 169.6,357.8 169.8,366.3 170,348.7 170.2,349 170.4,360.6 170.6,345.3 170.8,356.4 171,361.2 171.3,358.9 171.6,367.3 171.9,358.2 172.1,365.5 172.4,349.2 172.6,354.2 172.9,364.5 173.2,353 173.4,366.7 173.6,355.9 173.9,354.3 174,356.8 174.3,363.9 174.4,357.9 174.6,358.3 174.9,356.8 175.2,348.2 175.5,346.8 175.7,347.1 175.9,359.6 176.1,360 176.3,355.1 176.5,352.4 176.8,366.5 177.1,357.8 177.3,343.5 177.6,360.8 177.8,357.7 178.1,357.5 178.4,350.7 178.7,353.8 179,355.3 179.3,362.1 179.4,350.2 179.7,353.6 179.9,357.6 180.1,353.9 180.4,349.9 180.5,363 180.7,363.7 180.9,361 181,360.6 181.2,372.5 181.4,359.6 181.7,350.3 181.9,358.6 182.1,351.3 182.4,372.9 182.6,357.5 182.7,349.3 182.9,348.3 183.1,359.6 183.3,361.2 183.5,354.4 183.7,363.2 183.9,358.4 184.1,365.6 184.3,355.9 184.6,356.4 184.7,347.7 184.9,354.9 185.1,360.7 185.4,358 185.5,364.8 185.7,358 185.9,359.7 186.1,356.5 186.4,354.1 186.5,370.2 186.8,357.7 187,355.6 187.2,366 187.5,349.3 187.7,363.1 187.9,345.9 188.1,354.4 188.3,353.1 188.5,356.4 188.8,351.9 189,362.1 189.3,360.4 189.4,366.1 189.6,352.7 189.8,359 190.1,351.1 190.3,351.8 190.5,361.8 190.7,351.1 190.9,353.5 191.1,353.8 191.3,352.6 191.6,355.3 191.8,355.2 192,349.8 192.2,360.5 192.4,361.5 192.6,359.2 192.7,349.9 192.8,356.7 193,344.9 193.3,370.4 193.4,358.1 193.6,356.5 193.9,352.8 194.2,347.4 194.4,354.9 194.7,359.2 194.9,349.8 195.1,346.4 195.3,367.2 195.5,351.8 195.7,353.5 195.9,359.5 196,357.9 196.2,354.5 196.4,355.9 196.6,357.6 196.8,362.3 197,355.2 197.2,360 197.4,356.3 197.6,359.6 197.8,355.7 198,352.8 198.3,355.4 198.4,353.3 198.5,363.4 198.7,354.2 198.9,355.2 199.1,359.8 199.3,357.8 199.4,371 199.7,356.9 199.9,359.6 200,369 200.3,355.3 200.5,361.1 200.7,356.5 200.9,359.1 201.2,355.4 201.3,357.1 201.6,358.8 201.8,354.5 201.9,352.4 202.1,367.5 202.3,356 202.5,358.7 202.7,361 202.8,349 203.1,350.6 203.2,360.3 203.5,360.9 203.6,351.6 203.9,358.8 204.1,357.5 204.2,365.7 204.4,356.9 204.5,351 204.7,359.1 204.9,357.8 205.1,348.9 205.2,353.3 205.5,351 205.7,355.1 205.8,352.4 206,366.7 206.2,362.7 206.3,367.1 206.5,348.4 206.6,358.3 206.8,359.9 207,363.2 207.1,364.6 207.3,373.2 207.5,348.9 207.8,360.2 207.9,359.5 208.1,366.6 208.2,360.2 208.4,358.1 208.6,360.4 208.8,357.1 209,364.1 209.2,358.4 209.4,355.8 209.6,357.6 209.8,358.6 210.1,360.9 210.2,365.2 210.5,358 210.6,362.5 210.8,365.1 211.1,356.9 211.3,368.5 211.5,363.5 211.6,357.1 211.8,356.2 211.9,362.5 212.1,360.4 212.2,358 212.5,360.9 212.7,364.2 212.9,358.4 213,359.6 213.2,359.7 213.4,354.7 213.5,358.3 213.8,361.9 213.9,358.7 214.1,350 214.3,362.3 214.4,360 214.6,362.5 214.8,357 215,364.8 215.1,356.7 215.2,355.3 215.4,362.8 215.5,363.3 215.7,366.6 215.8,359.8 216.1,365.8 216.2,363.8 216.3,363.1 216.5,364.7 216.7,357.9 216.9,354.5 217.1,372.3 217.2,366.3 217.4,361.4 217.6,367.4 217.7,365 217.9,361.4 218.2,355.8 218.4,356.7 218.5,363.6 218.8,361.4 218.9,363.8 219,362.9 219.1,367.5 219.3,370.6 219.6,364 219.7,357.8 219.9,359.1 220.1,371.8 220.3,364.2 220.4,366.5 220.6,362.4 220.7,369.2 220.8,359.8 221,365.1 221.2,361.4 221.4,359.9 221.5,373.3 221.8,364.9 222,356.4 222.1,363.2 222.3,358 222.4,360.6 222.6,364.8 222.7,360.8 222.9,356.8 223,355.4 223.2,354.5 223.3,366.7 223.5,357.3 223.7,367.9 223.9,361.8 224.1,362 224.2,358 224.4,359.3 224.5,354.7 224.7,363.6 224.9,356.3 225.1,358.4 225.3,360.2 225.4,366 225.6,357.3 225.8,358.5 225.9,356.3 226,360.3 226.1,361.4 226.3,358.4 226.4,358.2 226.5,357.3 226.6,351.5 226.8,363.9 227,351.2 227.2,375.6 227.3,356.5 227.5,365.2 227.7,351.3 227.8,365.1 228,355.4 228.1,365.3 228.2,365.8 228.4,356 228.5,355.6 228.6,363.1 228.8,347.7 229,361 229.1,351.6 229.2,364.3 229.4,364.1 229.5,358.9 229.6,364.4 229.8,357.2 229.9,370.1 230.1,358.7 230.3,362.5 230.5,364.7 230.7,358.9 230.8,361.1 230.9,362.3 231.1,356 231.2,358.8 231.3,358.5 231.5,353.7 231.7,360.9 231.8,356.2 231.9,362.6 232,357.5 232.2,357.9 232.3,363.3 232.4,368 232.5,366.9 232.7,365.2 232.8,357.7 233,361.2 233.1,362.1 233.3,358.4 233.5,357.2 233.6,354.1 233.8,364.3 233.9,358.6 234,358.1 234.2,366.7 234.4,361.5 234.5,367.1 234.6,363.8 234.8,360.5 234.9,371.4 235.1,367.3 235.3,366.9 235.4,362.4 235.5,366.4 235.7,360.7 235.8,366.8 235.9,365.1 236.1,359.4 236.3,360.7 236.5,361.7 236.7,362.7 236.9,357.7 237,356.1 237.1,365.1 237.3,367.4 237.5,369.3 237.6,355.6 237.7,369.5 237.8,372 237.9,364.3 238.1,360.6 238.2,372.6 238.4,367.2 238.5,374 238.6,370.1 238.7,358.3 238.8,365.7 238.9,367.6 239.1,365.9 239.3,364.6 239.4,366.3 239.5,371.3 239.7,370.9 239.9,354.2 240.1,368 240.2,357.6 240.4,367.1 240.5,356.3 240.7,359.2 240.9,363.5 241,351.8 241.2,366.8 241.4,363 241.5,366 241.7,365.6 241.8,363.5 241.9,366.4 242.1,363.2 242.3,353.5 242.5,370.8 242.7,368.3 242.9,366.7 243,364.1 243.2,356.2 243.3,357.7 243.5,358.8 243.6,360.2 243.8,348.7 244,366.8 244.1,366.6 244.3,360.5 244.4,359 244.5,361.3 244.7,364.3 244.8,366.7 245,361.4 245.2,363.7 245.4,362.7 245.5,365.9 245.6,353.4 245.8,358.4 245.9,351.5 246,364.1 246.1,361.3 246.2,363.2 246.4,362 246.5,363.6 246.7,363.2 246.9,372.8 247.1,363.7 247.2,358.5 247.4,372.3 247.6,363.7 247.7,358.5 247.9,354.7 248,361.5 248.1,358.4 248.2,351.3 248.4,353.6 248.6,362.8 248.7,363.6 248.9,355.1 249.1,359.6 249.3,363.8 249.4,362.3 249.5,359.5 249.6,362.5 249.8,363.1 249.9,363.3 250,370.4 250.2,353.4 250.3,356.3 250.4,354.9 250.6,363.9 250.7,362.7 250.9,360.3 251.1,359.1 251.3,373.4 251.4,361.7 251.6,369 251.7,364 251.9,367 252.1,354.3 252.3,360.4 252.4,363.4 252.6,355.6 252.7,363.4 252.8,366.8 252.9,363.9 253,364.7 253.2,362.4 253.3,358.2 253.5,363.3 253.7,362.9 253.9,357 254,360.8 254.1,357.2 254.3,361.4 254.4,369.1 254.5,367.9 254.7,370.7 254.8,355.2"/>
<polygon fill="#0072bd" stroke="#0072bd" stroke-width="0.5" points="244.9,359.9 245.4,362.8 245.9,362.5 246.4,362.8 246.9,358.5 247.4,362.3 247.9,362.8 248.4,360.1 248.9,361.4 249.4,360.7 249.9,358.3 250.4,353.8 250.9,357.1 251.4,356.1 251.9,359 252.4,358.5 252.9,355.2 253.4,356 253.9,354.9 254.4,357.2 254.9,356.7 255.4,353.7 255.9,354.5 256.4,357 256.9,356.3 257.4,348.7 257.9,356.4 258.4,355.1 258.9,354.9 259.4,351 259.9,349.2 260.4,359.4 260.9,356.9 261.4,361.7 261.9,361.4 262.4,361.9 262.9,361.8 263.4,365.2 263.9,359 264.4,363.9 264.9,366.4 265.4,365.9 265.9,362.7 266.4,361.6 266.9,366.3 267.4,369.3 267.9,359.4 268.4,370.3 268.9,372.3 269.4,366.8 269.9,368 270.4,373.8 270.9,370.1 271.4,378.7 271.9,380.1 272.4,376.8 272.9,381.2 273.4,382.7 273.9,379 274.4,382.1 274.9,382.3 275.4,374 275.9,380.7 276.4,387.9 276.9,389.8 277.4,385 277.9,380.3 278.4,386.4 278.9,395.2 279.4,392.1 279.9,398.9 280.4,400.8 280.9,401.2 281.4,399.3 281.9,396.8 282.4,403.2 282.9,404.5 283.4,408.3 283.9,403.9 284.4,410.9 284.9,412 285.4,412 285.9,409 286.4,412.6 286.9,400.5 287.4,411.3 287.9,414.6 288.4,406.6 288.9,416.5 289.4,424.8 289.9,427.7 290.4,424.2 290.9,423.4 291.4,422.6 291.9,420.1 292.4,428.2 292.9,437.2 293.4,430.5 293.9,432.8 294.4,441.8 294.9,443.4 295.4,444 295.9,447.9 296.4,445.2 296.9,452.5 297.4,445.6 297.9,448.8 298.4,453.7 298.9,450.2 299.4,447.1 299.9,447 300.4,461 300.9,454.2 301.4,461.1 301.9,460.3 302.4,464.5 302.9,464.2 303.4,452.4 303.9,460.4 304.4,458.6 304.9,464.3 305.4,462.4 305.9,464.6 306.4,467 306.9,463.7 307.4,465.9 307.9,470.7 308.4,469.5 308.9,461.4 309.4,471 309.9,470.3 310.4,472.1 310.9,476.6 311.4,481.7 311.9,482.5 312.4,481 312.9,475.6 313.4,483.2 313.9,485.4 314.4,485.9 314.9,489.3 315.4,489.9 315.9,482.6 316.4,488.6 316.9,483.2 317.4,489.1 317.9,489.5 318.4,489.7 318.9,482.8 319.4,482.2 319.9,485.6 320.4,483.2 320.9,491 321.4,485.3 321.9,493.3 322.4,492.9 322.9,493.3 323.4,488.1 323.9,492.9 324.4,495.9 324.9,495.1 325.4,497.1 325.9,493.8 326.4,492.9 326.9,499.4 327.4,493.8 327.9,494.5 328.4,500.8 328.9,501 329.4,498.3 329.9,493.9 330.4,501.9 330.9,499.4 331.4,501.6 331.9,501.8 332.4,492 332.9,499.1 333.4,498.2 333.9,499.7 334.4,499.9 334.4,515.3 333.9,521 333.4,520.6 332.9,515.4 332.4,521.9 331.9,520.9 331.4,518.3 330.9,522.8 330.4,516.7 329.9,518.1 329.4,518.8 328.9,518.5 328.4,514.2 327.9,522.1 327.4,518.4 326.9,514.3 326.4,518 325.9,512.2 325.4,511.1 324.9,523.9 324.4,515.2 323.9,510.9 323.4,508.9 322.9,509 322.4,508 321.9,506.8 321.4,508.9 320.9,511.6 320.4,505.5 319.9,505.8 319.4,510.9 318.9,507.2 318.4,513.4 317.9,506.9 317.4,505.9 316.9,509.8 316.4,509.7 315.9,507.6 315.4,510.8 314.9,504.2 314.4,503.9 313.9,505.5 313.4,505.4 312.9,515 312.4,501.6 311.9,507.3 311.4,501.4 310.9,498.8 310.4,502.2 309.9,495.4 309.4,494.7 308.9,495.7 308.4,492 307.9,495.6 307.4,501.8 306.9,497.8 306.4,490.9 305.9,492.5 305.4,490.6 304.9,488.5 304.4,490.5 303.9,484.4 303.4,492.5 302.9,494.8 302.4,485.6 301.9,484.2 301.4,486.3 300.9,480.7 300.4,478.9 299.9,477 299.4,478.5 298.9,474 298.4,476.4 297.9,473.5 297.4,474.2 296.9,472.8 296.4,473.9 295.9,467.6 295.4,470.8 294.9,467.8 294.4,470.9 293.9,466.4 293.4,469.8 292.9,458.3 292.4,457.2 291.9,454.9 291.4,453.1 290.9,456.1 290.4,449.5 289.9,449.3 289.4,442.7 288.9,441.6 288.4,447.4 287.9,441.5 287.4,443.2 286.9,443.9 286.4,433.2 285.9,437.9 285.4,445.1 284.9,431.9 284.4,434.4 283.9,427.3 283.4,432.7 282.9,427.1 282.4,422.9 281.9,422.4 281.4,422.7 280.9,425.3 280.4,424.5 279.9,415.9 279.4,418.5 278.9,410.4 278.4,416.8 277.9,411.1 277.4,406 276.9,406.8 276.4,406.7 275.9,408.6 275.4,406.3 274.9,401.1 274.4,414.9 273.9,402 273.4,400.1 272.9,399.1 272.4,401.2 271.9,395.5 271.4,395 270.9,403.1 270.4,390.9 269.9,395.7 269.4,389.1 268.9,394.7 268.4,388.7 267.9,385.3 267.4,388.9 266.9,385.1 266.4,396.2 265.9,382.6 265.4,385.7 264.9,384.6 264.4,383.2 263.9,387.9 263.4,384.8 262.9,389.2 262.4,388.1 261.9,379.4 261.4,375.1 260.9,374.3 260.4,373.8 259.9,371.7 259.4,376.3 258.9,381 258.4,371 257.9,374.6 257.4,372 256.9,377.9 256.4,370.5 255.9,370.6 255.4,370.2 254.9,377.6 254.4,370 253.9,373.3 253.4,371.9 252.9,376.4 252.4,378.3 251.9,374.5 251.4,373.4 250.9,372.8 250.4,375.2 249.9,374.1 249.4,382.5 248.9,380.5 248.4,375.5 247.9,378.2 247.4,375 246.9,381.5 246.4,386.6 245.9,382.5 245.4,375.3 244.9,375.2"/>
<polyline stroke="#0072bd" stroke-width="1.1" points="58.9,366.7 59.4,380 59.9,367.9 60.2,382.4 60.7,357.9 61.1,350.7 61.5,382.4 61.7,401.1 62.2,376.8 62.6,377.2 63,368.5 63.3,370.6 63.8,365 64.1,347 64.7,377.4 65.1,375.3 65.6,365.8 65.9,392.7 66.2,361.6 66.7,378.3 67.3,387.7 67.7,380.7 68.3,364.9 68.8,361.1 69.2,356.5 69.6,366 69.9,379.7 70.3,364.8 70.6,372.2 71,348.4 71.4,394.8 71.7,352.5 72,362.2 72.4,366.3 72.8,371.7 73.3,376.7 73.7,380.9 74.2,387.2 74.6,346.8 74.9,358.3 75.3,360.9 75.8,364 76.3,389.4 76.6,370.8 76.8,366.2 77.4,354.7 77.9,378.7 78.3,364.5 78.8,370.2 79.2,367.4 79.7,376.3 80,363.9 80.4,367.2 80.8,388.8 81.1,355.2 81.5,347 81.9,378.2 82.3,356.3 82.8,379.4 83.1,374.8 83.7,350.1 84.1,367 84.5,353 84.8,366 85,358.4 85.5,370.9 86,353.8 86.4,350 86.9,361.7 87.1,375 87.6,372.7 88.1,378.6 88.5,362.2 88.8,362.9 89.3,375.5 89.6,358.6 90,374.2 90.4,349.3 90.8,359.5 91.1,351.6 91.3,375.2 91.6,378 92,386.2 92.3,360.6 92.5,378.5 92.8,353 93.2,364.9 93.6,358.3 94.1,378.8 94.5,371.5 95,363.4 95.5,357.7 95.8,377.8 96.1,361.4 96.6,373 96.8,356.8 97.2,367.5 97.5,368.5 98,361.7 98.2,355.1 98.6,369.5 98.8,355.4 99.3,377.9 99.7,366 100.1,380.2 100.3,367.6 100.6,378.9 101.1,370 101.5,364.6 101.9,379.9 102.4,387.5 102.7,372.2 103,365.1 103.4,367.6 103.6,378.1 104,361.1 104.3,371.5 104.7,361.1 105.1,376.4 105.6,363.7 105.9,356.6 106.3,373.7 106.7,370.2 107.1,361.8 107.5,362.9 107.9,364.7 108.3,369.5 108.5,383.1 108.8,368.8 109.2,380.9 109.5,368.6 109.8,391 110.1,356.3 110.3,351.9 110.5,365.2 110.8,376.9 111.1,371.5 111.4,360.4 111.7,362 112.2,373.9 112.5,356.1 112.9,359.9 113.3,361.1 113.8,368.6 114,365 114.3,371 114.7,362.6 115,369.8 115.5,353.3 115.7,363 115.9,361.3 116.4,360.1 116.7,360 117,375.1 117.4,351.3 117.7,361.5 118.1,367.1 118.4,370.8 118.6,368.1 118.9,367.6 119.2,362.3 119.5,370 119.9,361.7 120.1,361.7 120.3,369.2 120.5,346.2 120.9,365.4 121.3,361.9 121.6,364.5 121.9,367.2 122.3,360.6 122.5,355.2 122.7,368 123.1,375 123.4,363.6 123.8,386.5 124.1,367.5 124.4,370.6 124.5,366.5 124.8,381.8 125,372.9 125.3,377.7 125.6,373.7 125.9,364.4 126.2,370.6 126.4,373.7 126.7,358.9 127.1,368.6 127.3,385 127.6,376.7 127.9,364.8 128.3,364.3 128.5,366.2 128.8,365.7 129.1,375.1 129.5,368.7 129.8,377.7 130,374.9 130.1,375.7 130.5,375.5 130.8,371.7 131,371 131.3,375.8 131.7,360.8 132,373.3 132.2,357.3 132.5,361.8 132.7,379.5 132.9,362.6 133.3,380.8 133.6,357.7 133.8,366.4 134.2,376.4 134.6,385.7 135,371.1 135.2,378.3 135.4,358.5 135.7,376.8 136,368.5 136.4,362.5 136.8,366.1 137.2,364 137.4,368 137.7,360.1 137.9,373.2 138.2,361.3 138.4,375.7 138.6,364.8 138.8,375.5 139,368.1 139.3,361.8 139.6,356.8 139.8,381.1 140,372.9 140.3,374.8 140.6,357.7 140.9,374.2 141.3,361.9 141.6,371.5 141.9,378.8 142.2,366.5 142.4,376.4 142.6,361.6 143,360.9 143.2,356.8 143.4,375.2 143.7,354.9 143.9,359.5 144.3,381.3 144.6,349.9 144.9,354 145.1,375.3 145.4,364.8 145.7,378 146,368.5 146.4,366.4 146.7,363.1 147,374.4 147.4,368.5 147.7,375.6 148,365.4 148.3,363.3 148.7,368 148.8,359.7 149.1,362.8 149.4,365.9 149.6,359.4 149.9,378.2 150.2,368.7 150.6,382 150.8,368.2 151.1,371.5 151.4,361.2 151.7,370.9 152,372.1 152.3,367.8 152.5,367.8 152.7,362.8 152.9,373.4 153.2,378.5 153.3,379.2 153.7,358.1 154,377 154.2,371 154.4,376.3 154.5,361.4 154.9,372.6 155.1,359.1 155.4,374.1 155.6,366.5 155.8,363 156,361.5 156.3,377.9 156.4,371.5 156.8,369.3 157.1,382.5 157.3,363 157.5,365.4 157.7,364.4 158,379.1 158.2,367 158.5,365.2 158.7,360.7 159.1,372.8 159.3,363.6 159.6,354.1 159.9,372.6 160.2,372.4 160.4,371.7 160.7,380.4 161,371.7 161.3,356.7 161.5,376 161.7,370.2 162,359.5 162.2,364.2 162.6,366.6 162.9,370.8 163.2,369.1 163.3,368.1 163.6,363 163.9,367.7 164.1,361.2 164.4,382.3 164.7,362.2 164.8,372.4 165,368.4 165.2,371.7 165.5,363.9 165.8,369.5 165.9,363.9 166.1,374.5 166.4,367.2 166.6,359.4 166.8,360.1 167.1,370.8 167.4,366.9 167.8,370.5 168.1,368.4 168.2,367 168.4,357.9 168.6,362.4 169,355.7 169.1,354.7 169.4,374.9 169.6,363.4 169.8,368.7 170,377.2 170.2,373.2 170.4,369.1 170.6,353.7 170.8,365.1 171,367.2 171.3,366.1 171.6,371.6 171.9,365.3 172.1,367.3 172.4,378.4 172.6,370.7 172.9,350.2 173.2,362.5 173.4,367.7 173.6,362.3 173.9,374 174,366.6 174.3,361.1 174.4,378.3 174.6,372.3 174.9,369.8 175.2,369 175.5,370.5 175.7,365 175.9,359.9 176.1,364.6 176.3,360.1 176.5,360 176.8,371.3 177.1,365.5 177.3,370.2 177.6,363.1 177.8,370.3 178.1,369.4 178.4,356.9 178.7,369.7 179,379.1 179.3,368 179.4,367 179.7,372.3 179.9,368.4 180.1,362 180.4,372.2 180.5,369.8 180.7,373.2 180.9,366.3 181,369.2 181.2,374.5 181.4,369.3 181.7,356.3 181.9,379.5 182.1,377.5 182.4,366.3 182.6,377.6 182.7,356 182.9,378.3 183.1,377.3 183.3,372.1 183.5,362 183.7,364 183.9,365.7 184.1,367.5 184.3,361.2 184.6,381.3 184.7,368.2 184.9,361.2 185.1,377.5 185.4,369 185.5,363.7 185.7,363.9 185.9,373.2 186.1,361 186.4,369.7 186.5,366.5 186.8,380.2 187,378.4 187.2,378.4 187.5,362.6 187.7,388.3 187.9,385 188.1,368.7 188.3,372.5 188.5,391.7 188.8,375.5 189,374.7 189.3,365.2 189.4,384.3 189.6,375.7 189.8,365.6 190.1,367.3 190.3,377.4 190.5,373.3 190.7,380.2 190.9,362.8 191.1,373.5 191.3,362.8 191.6,365.4 191.8,375.5 192,370.7 192.2,365.7 192.4,366.6 192.6,359.9 192.7,362.3 192.8,366.9 193,364.6 193.3,372.9 193.4,372.1 193.6,364.7 193.9,366.3 194.2,374.9 194.4,368.6 194.7,372.9 194.9,371.4 195.1,360.5 195.3,373.5 195.5,371.7 195.7,364.5 195.9,367.3 196,366.5 196.2,375.7 196.4,367.5 196.6,369.5 196.8,372 197,370.6 197.2,369.1 197.4,362.6 197.6,356.7 197.8,366.9 198,359.2 198.3,367.2 198.4,376.6 198.5,368 198.7,361.2 198.9,360.7 199.1,373.7 199.3,356 199.4,373.1 199.7,373 199.9,371.9 200,360.5 200.3,366.4 200.5,363.4 200.7,381.1 200.9,368.7 201.2,369 201.3,364.1 201.6,370.6 201.8,361.2 201.9,371.7 202.1,375.7 202.3,377.1 202.5,360.7 202.7,363.6 202.8,372.4 203.1,361.9 203.2,369.1 203.5,369 203.6,376.8 203.9,371.8 204.1,368.4 204.2,368.2 204.4,372.7 204.5,364.3 204.7,362 204.9,374.6 205.1,367.9 205.2,378.8 205.5,368 205.7,375.6 205.8,371 206,369.1 206.2,371.2 206.3,363.8 206.5,373.6 206.6,371.7 206.8,367.1 207,368.9 207.1,367.2 207.3,369.7 207.5,373.1 207.8,365.1 207.9,368.4 208.1,364 208.2,361.8 208.4,371.1 208.6,373.4 208.8,372 209,373.1 209.2,380.5 209.4,360.9 209.6,367.6 209.8,357.1 210.1,372.8 210.2,366.5 210.5,368.2 210.6,370.1 210.8,364.4 211.1,369.7 211.3,370.2 211.5,369 211.6,381.9 211.8,373.8 211.9,374.1 212.1,361.5 212.2,367.3 212.5,366.4 212.7,367.4 212.9,371.9 213,362.3 213.2,372.3 213.4,378.6 213.5,367.9 213.8,365.4 213.9,371.1 214.1,369.8 214.3,366.8 214.4,363.9 214.6,368.8 214.8,363.2 215,370.6 215.1,361.2 215.2,379.5 215.4,367.5 215.5,370.9 215.7,371.9 215.8,379.2 216.1,367 216.2,373.6 216.3,377.6 216.5,375.7 216.7,373.6 216.9,371.6 217.1,376.6 217.2,376.4 217.4,369.3 217.6,371.7 217.7,360.8 217.9,372.8 218.2,366.5 218.4,361.3 218.5,371.2 218.8,365.1 218.9,368.6 219,369.9 219.1,361.9 219.3,375.6 219.6,373.8 219.7,380.1 219.9,371.8 220.1,366.2 220.3,372.7 220.4,367.3 220.6,375.5 220.7,365.7 220.8,372.1 221,374 221.2,362.9 221.4,371.3 221.5,368.2 221.8,370.3 222,367.1 222.1,370.2 222.3,376.9 222.4,369.2 222.6,368.1 222.7,368.6 222.9,371.8 223,361.1 223.2,374.4 223.3,369.9 223.5,369.4 223.7,376.1 223.9,376.4 224.1,366.7 224.2,366.6 224.4,369.3 224.5,378.4 224.7,371.3 224.9,368.4 225.1,366.2 225.3,363.2 225.4,367 225.6,364.4 225.8,360.7 225.9,381.7 226,364.3 226.1,371.9 226.3,367.2 226.4,368.8 226.5,375.2 226.6,374.8 226.8,367.9 227,371.4 227.2,366.7 227.3,372.5 227.5,359.3 227.7,372.1 227.8,359.8 228,374.6 228.1,367.7 228.2,364.5 228.4,377 228.5,375.2 228.6,367.7 228.8,363.6 229,362.2 229.1,366.2 229.2,363.3 229.4,374.7 229.5,370.4 229.6,360.2 229.8,370.5 229.9,368.5 230.1,376.2 230.3,367.7 230.5,374.8 230.7,364.4 230.8,358.4 230.9,364.5 231.1,365.3 231.2,368.2 231.3,363.2 231.5,372.1 231.7,368.8 231.8,355.1 231.9,373.9 232,370.2 232.2,374.8 232.3,361.1 232.4,369.1 232.5,374.7 232.7,374.8 232.8,362.5 233,364.9 233.1,364.5 233.3,369.4 233.5,364.4 233.6,362.5 233.8,366.2 233.9,378.7 234,380.9 234.2,378.5 234.4,369.5 234.5,379.2 234.6,377.3 234.8,371.5 234.9,376.5 235.1,378.7 235.3,366.7 235.4,368.9 235.5,366.9 235.7,365.9 235.8,362.8 235.9,370.4 236.1,370.8 236.3,379 236.5,370.5 236.7,372 236.9,362.9 237,364.8 237.1,360.4 237.3,362.5 237.5,362.1 237.6,365.9 237.7,368.4 237.8,371.6 237.9,369.8 238.1,375.2 238.2,368.2 238.4,370.9 238.5,381.6 238.6,385.5 238.7,374.9 238.8,373.3 238.9,372.4 239.1,363.6 239.3,373.6 239.4,376.8 239.5,367.6 239.7,364 239.9,360.2 240.1,374.5 240.2,370.4 240.4,371.3 240.5,360.7 240.7,365.3 240.9,369.2 241,365.7 241.2,371.8 241.4,371.3 241.5,370.6 241.7,373.6 241.8,372.5 241.9,369.4 242.1,370.1 242.3,363.5 242.5,366.8 242.7,372 242.9,383.4 243,379.4 243.2,374 243.3,373.2 243.5,378.1 243.6,372.7 243.8,369.8 244,373.8 244.1,371 244.3,370.6 244.4,373.9 244.5,374.8 244.7,370.7 244.8,368.4 245,375.5 245.2,381.1 245.4,375.1 245.5,367.1 245.6,378.7 245.8,364.7 245.9,373.1 246,369.1 246.1,374 246.2,366.3 246.4,369.1 246.5,367.3 246.7,380 246.9,365 247.1,378.1 247.2,370.3 247.4,365.2 247.6,369 247.7,364.6 247.9,366.2 248,366.4 248.1,371.1 248.2,360.4 248.4,359.4 248.6,368.6 248.7,370.5 248.9,364.1 249.1,369.6 249.3,364.6 249.4,360.9 249.5,362 249.6,357.8 249.8,364.1 249.9,373 250,372.6 250.2,365.1 250.3,357.5 250.4,371.2 250.6,375 250.7,362.1 250.9,371.3 251.1,366.8 251.3,364.6 251.4,376.6 251.6,372.8 251.7,373.8 251.9,367.3 252.1,366.3 252.3,372.7 252.4,366 252.6,379.3 252.7,366.2 252.8,365.7 252.9,367.1 253,375.2 253.2,366.8 253.3,372.1 253.5,356.8 253.7,367 253.9,366.2 254,365.5 254.1,361.6 254.3,364.2 254.4,361.5 254.5,370.5 254.7,358.5 254.8,368.3"/>
</g>
<rect x="59.4" y="322.5" width="274.4" height="233.3" fill="none" stroke="#262626" stroke-width="1.35"/>
<path d="M128 555.8v-3.5M128 322.5v3.5M196.6 555.8v-3.5M196.6 322.5v3.5M265.2 555.8v-3.5M265.2 322.5v3.5" stroke="#262626" stroke-width="1" fill="none"/>
<path d="M80.1 555.8v-2M80.1 322.5v2M92.1 555.8v-2M92.1 322.5v2M100.7 555.8v-2M100.7 322.5v2M107.3 555.8v-2M107.3 322.5v2M112.8 555.8v-2M112.8 322.5v2M117.4 555.8v-2M117.4 322.5v2M121.4 555.8v-2M121.4 322.5v2M124.9 555.8v-2M124.9 322.5v2M148.7 555.8v-2M148.7 322.5v2M160.7 555.8v-2M160.7 322.5v2M169.3 555.8v-2M169.3 322.5v2M175.9 555.8v-2M175.9 322.5v2M181.4 555.8v-2M181.4 322.5v2M186 555.8v-2M186 322.5v2M190 555.8v-2M190 322.5v2M193.5 555.8v-2M193.5 322.5v2M217.3 555.8v-2M217.3 322.5v2M229.3 555.8v-2M229.3 322.5v2M237.9 555.8v-2M237.9 322.5v2M244.5 555.8v-2M244.5 322.5v2M250 555.8v-2M250 322.5v2M254.6 555.8v-2M254.6 322.5v2M258.6 555.8v-2M258.6 322.5v2M262.1 555.8v-2M262.1 322.5v2M285.9 555.8v-2M285.9 322.5v2M297.9 555.8v-2M297.9 322.5v2M306.5 555.8v-2M306.5 322.5v2M313.1 555.8v-2M313.1 322.5v2M318.6 555.8v-2M318.6 322.5v2M323.2 555.8v-2M323.2 322.5v2M327.2 555.8v-2M327.2 322.5v2M330.7 555.8v-2M330.7 322.5v2" stroke="#262626" stroke-width="1" fill="none"/>
<path d="M59.4 328.2h3M333.8 328.2h-3M59.4 356.7h3M333.8 356.7h-3M59.4 385.1h3M333.8 385.1h-3M59.4 413.6h3M333.8 413.6h-3M59.4 442h3M333.8 442h-3M59.4 470.5h3M333.8 470.5h-3M59.4 499h3M333.8 499h-3M59.4 527.4h3M333.8 527.4h-3" stroke="#262626" stroke-width="1" fill="none"/>
<rect x="79.6" y="415.4" width="92.6" height="77.7" fill="#fff" stroke="#555" stroke-width="0.9"/>
<line x1="80.9" y1="423.1" x2="104.2" y2="423.1" stroke="#ff0000" stroke-width="1.2"/>
<text transform="translate(105.7,427.6)" font-size="13" textLength="55.8" lengthAdjust="spacingAndGlyphs" >5.921 GHz</text>
<line x1="80.9" y1="436.4" x2="104.2" y2="436.4" stroke="#cc00cc" stroke-width="1.2"/>
<text transform="translate(105.7,439.6)" font-size="13" textLength="55.8" lengthAdjust="spacingAndGlyphs" >8.441 GHz</text>
<line x1="80.9" y1="448.4" x2="104.2" y2="448.4" stroke="#d95319" stroke-width="1.2"/>
<text transform="translate(105,452.1)" font-size="13" textLength="62.9" lengthAdjust="spacingAndGlyphs" >10.931 GHz</text>
<line x1="80.9" y1="459.4" x2="104.2" y2="459.4" stroke="#0000ff" stroke-width="1.2"/>
<text transform="translate(105.2,464.8)" font-size="13" textLength="62.7" lengthAdjust="spacingAndGlyphs" >13.067 GHz</text>
<line x1="80.9" y1="473.6" x2="104.2" y2="473.6" stroke="#008000" stroke-width="1.2"/>
<text transform="translate(105.6,477.1)" font-size="13" textLength="62.7" lengthAdjust="spacingAndGlyphs" >15.219 GHz</text>
<line x1="80.9" y1="487.5" x2="104.2" y2="487.5" stroke="#0072bd" stroke-width="1.2"/>
<text transform="translate(106.2,490.6)" font-size="13" textLength="63.1" lengthAdjust="spacingAndGlyphs" >18.227 GHz</text>
<text transform="translate(38,336) scale(1,1.16)" font-size="18" text-anchor="middle" font-weight="normal">-40</text>
<text transform="translate(38,364.4) scale(1,1.16)" font-size="18" text-anchor="middle" font-weight="normal">-50</text>
<text transform="translate(38,392.9) scale(1,1.16)" font-size="18" text-anchor="middle" font-weight="normal">-60</text>
<text transform="translate(38,421.4) scale(1,1.16)" font-size="18" text-anchor="middle" font-weight="normal">-70</text>
<text transform="translate(38,449.8) scale(1,1.16)" font-size="18" text-anchor="middle" font-weight="normal">-80</text>
<text transform="translate(38,478.3) scale(1,1.16)" font-size="18" text-anchor="middle" font-weight="normal">-90</text>
<text transform="translate(38,506.7) scale(1,1.16)" font-size="18" text-anchor="middle" font-weight="normal">-100</text>
<text transform="translate(38,535.2) scale(1,1.16)" font-size="18" text-anchor="middle" font-weight="normal">-110</text>
<text transform="translate(38,563.7) scale(1,1.16)" font-size="18" text-anchor="middle" font-weight="normal">-120</text>
<text transform="translate(59.9,579.1) scale(1,1.08)" font-size="18" text-anchor="middle" font-weight="normal">100</text>
<text transform="translate(128.5,579.1) scale(1,1.08)" font-size="18" text-anchor="middle" font-weight="normal">1k</text>
<text transform="translate(197.1,579.1) scale(1,1.08)" font-size="18" text-anchor="middle" font-weight="normal">10k</text>
<text transform="translate(265.7,579.1) scale(1,1.08)" font-size="18" text-anchor="middle" font-weight="normal">100k</text>
<text transform="translate(334.3,579.1) scale(1,1.08)" font-size="18" text-anchor="middle" font-weight="normal">1M</text>
<text transform="translate(136.2,597.4) scale(1,1.09)" font-size="17" textLength="120.7" lengthAdjust="spacingAndGlyphs" >Frequency (Hz)</text>
<text transform="translate(13.9,537.3) rotate(-90)" font-size="17.3" textLength="190.1" lengthAdjust="spacingAndGlyphs" >Phase noise (dBc/Hz)</text>
<text transform="translate(8.3,306.4) scale(1,1.0)" font-size="23.5" text-anchor="start" font-weight="bold">c</text>
<line x1="407.9" y1="361.5" x2="680.4" y2="361.5" stroke="#808080" stroke-width="1" stroke-dasharray="3.6 3.4"/>
<line x1="407.9" y1="400.5" x2="680.4" y2="400.5" stroke="#808080" stroke-width="1" stroke-dasharray="3.6 3.4"/>
<line x1="407.9" y1="439.6" x2="680.4" y2="439.6" stroke="#808080" stroke-width="1" stroke-dasharray="3.6 3.4"/>
<line x1="407.9" y1="478.6" x2="680.4" y2="478.6" stroke="#808080" stroke-width="1" stroke-dasharray="3.6 3.4"/>
<line x1="407.9" y1="517.7" x2="680.4" y2="517.7" stroke="#808080" stroke-width="1" stroke-dasharray="3.6 3.4"/>
<line x1="412.4" y1="322.4" x2="412.4" y2="556.8" stroke="#808080" stroke-width="1" stroke-dasharray="3.6 3.4"/>
<line x1="456" y1="322.4" x2="456" y2="556.8" stroke="#808080" stroke-width="1" stroke-dasharray="3.6 3.4"/>
<line x1="499.6" y1="322.4" x2="499.6" y2="556.8" stroke="#808080" stroke-width="1" stroke-dasharray="3.6 3.4"/>
<line x1="543.3" y1="322.4" x2="543.3" y2="556.8" stroke="#808080" stroke-width="1" stroke-dasharray="3.6 3.4"/>
<line x1="586.9" y1="322.4" x2="586.9" y2="556.8" stroke="#808080" stroke-width="1" stroke-dasharray="3.6 3.4"/>
<line x1="630.5" y1="322.4" x2="630.5" y2="556.8" stroke="#808080" stroke-width="1" stroke-dasharray="3.6 3.4"/>
<line x1="674.1" y1="322.4" x2="674.1" y2="556.8" stroke="#808080" stroke-width="1" stroke-dasharray="3.6 3.4"/>
<rect x="407.9" y="322.4" width="272.5" height="234.4" fill="none" stroke="#262626" stroke-width="1.35"/>
<path d="M407.9 361.5h3M680.4 361.5h-3M407.9 400.5h3M680.4 400.5h-3M407.9 439.6h3M680.4 439.6h-3M407.9 478.6h3M680.4 478.6h-3M407.9 517.7h3M680.4 517.7h-3" stroke="#262626" stroke-width="1" fill="none"/>
<path d="M412.4 556.8v-3M412.4 322.4v3M456 556.8v-3M456 322.4v3M499.6 556.8v-3M499.6 322.4v3M543.3 556.8v-3M543.3 322.4v3M586.9 556.8v-3M586.9 322.4v3M630.5 556.8v-3M630.5 322.4v3M674.1 556.8v-3M674.1 322.4v3" stroke="#262626" stroke-width="1" fill="none"/>
<path d="M410.7 443.5V474.7M408.2 443.5h5M408.2 474.7h5" stroke="#b5334a" stroke-width="1.2" fill="none"/>
<rect x="407.6" y="456" width="6.2" height="6.2" fill="#a01a0c" stroke="#b02030" stroke-width="0.6"/>
<path d="M465.6 424V455.2M463.1 424h5M463.1 455.2h5" stroke="#b5334a" stroke-width="1.2" fill="none"/>
<rect x="462.5" y="436.5" width="6.2" height="6.2" fill="#a01a0c" stroke="#b02030" stroke-width="0.6"/>
<path d="M519.9 420V451.3M517.4 420h5M517.4 451.3h5" stroke="#b5334a" stroke-width="1.2" fill="none"/>
<rect x="516.8" y="432.6" width="6.2" height="6.2" fill="#a01a0c" stroke="#b02030" stroke-width="0.6"/>
<path d="M566.5 416.1V447.4M564 416.1h5M564 447.4h5" stroke="#b5334a" stroke-width="1.2" fill="none"/>
<rect x="563.4" y="428.7" width="6.2" height="6.2" fill="#a01a0c" stroke="#b02030" stroke-width="0.6"/>
<path d="M613.5 412.2V443.5M611 412.2h5M611 443.5h5" stroke="#b5334a" stroke-width="1.2" fill="none"/>
<rect x="610.4" y="424.8" width="6.2" height="6.2" fill="#a01a0c" stroke="#b02030" stroke-width="0.6"/>
<path d="M679.1 412.2V443.5M676.6 412.2h5M676.6 443.5h5" stroke="#b5334a" stroke-width="1.2" fill="none"/>
<rect x="676" y="424.8" width="6.2" height="6.2" fill="#a01a0c" stroke="#b02030" stroke-width="0.6"/>
<line x1="407.9" y1="439.6" x2="680.4" y2="439.6" stroke="#0072bd" stroke-width="1.6"/>
<text transform="translate(386.5,329.9) scale(1,1.12)" font-size="18" text-anchor="middle" font-weight="normal">-80</text>
<text transform="translate(386.5,369) scale(1,1.12)" font-size="18" text-anchor="middle" font-weight="normal">-90</text>
<text transform="translate(386.5,408) scale(1,1.12)" font-size="18" text-anchor="middle" font-weight="normal">-100</text>
<text transform="translate(386.5,447.1) scale(1,1.12)" font-size="18" text-anchor="middle" font-weight="normal">-110</text>
<text transform="translate(386.5,486.2) scale(1,1.12)" font-size="18" text-anchor="middle" font-weight="normal">-120</text>
<text transform="translate(386.5,525.2) scale(1,1.12)" font-size="18" text-anchor="middle" font-weight="normal">-130</text>
<text transform="translate(386.5,564.3) scale(1,1.12)" font-size="18" text-anchor="middle" font-weight="normal">-140</text>
<text transform="translate(412.4,580.5) scale(1,1.18)" font-size="18" text-anchor="middle" font-weight="normal">6</text>
<text transform="translate(456,580.5) scale(1,1.18)" font-size="18" text-anchor="middle" font-weight="normal">8</text>
<text transform="translate(499.6,580.5) scale(1,1.18)" font-size="18" text-anchor="middle" font-weight="normal">10</text>
<text transform="translate(543.3,580.5) scale(1,1.18)" font-size="18" text-anchor="middle" font-weight="normal">12</text>
<text transform="translate(586.9,580.5) scale(1,1.18)" font-size="18" text-anchor="middle" font-weight="normal">14</text>
<text transform="translate(630.5,580.5) scale(1,1.18)" font-size="18" text-anchor="middle" font-weight="normal">16</text>
<text transform="translate(674.1,580.5) scale(1,1.18)" font-size="18" text-anchor="middle" font-weight="normal">18</text>
<text transform="translate(472.7,597.6) scale(1,1.05)" font-size="18" textLength="141.1" lengthAdjust="spacingAndGlyphs" >Frequency (GHz)</text>
<text transform="translate(369,537.3) rotate(-90)" font-size="18" textLength="188.3" lengthAdjust="spacingAndGlyphs" >Phase noise (dBc/Hz)</text>
<text transform="translate(373.6,308.2) scale(1,1.0)" font-size="23.5" text-anchor="start" font-weight="bold">d</text>
</svg>
</body></html>
